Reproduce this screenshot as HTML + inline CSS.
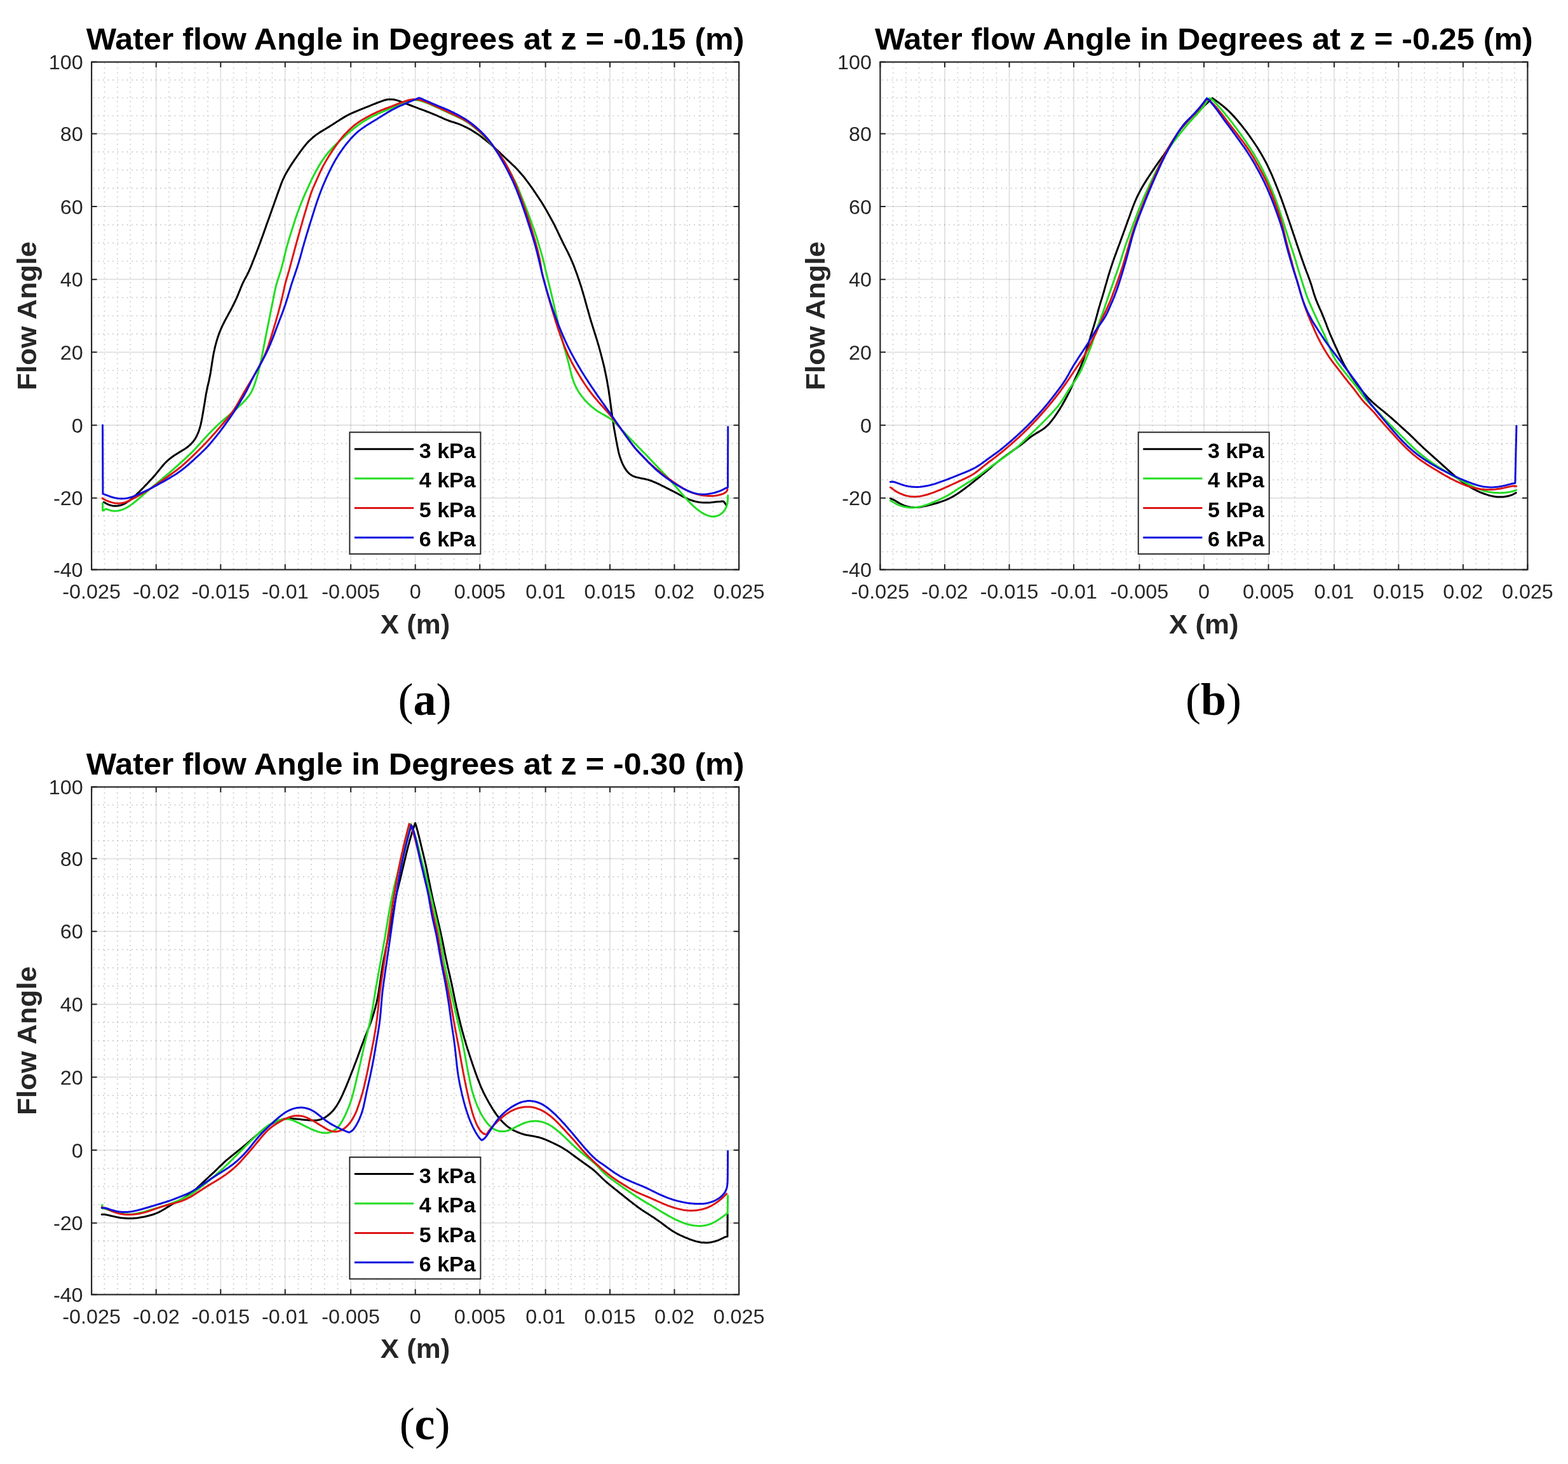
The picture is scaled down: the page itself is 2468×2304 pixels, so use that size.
<!DOCTYPE html>
<html><head><meta charset="utf-8"><style>
html,body{margin:0;padding:0;background:#fff;}
svg{display:block;}
.tk{font-family:'Liberation Sans', Arial, sans-serif;font-size:30.5px;fill:#262626;}
.ti{font-family:'Liberation Sans', Arial, sans-serif;font-size:49px;font-weight:bold;fill:#000;}
.lb{font-family:'Liberation Sans', Arial, sans-serif;font-size:43px;font-weight:bold;fill:#262626;}
.lg{font-family:'Liberation Sans', Arial, sans-serif;font-size:33px;font-weight:bold;fill:#000;}
.cap{font-family:'Liberation Serif', 'Times New Roman', serif;font-size:72px;fill:#000;}
</style></head><body>
<svg xmlns="http://www.w3.org/2000/svg" width="2468" height="2304" viewBox="0 0 2468 2304">
<rect width="2468" height="2304" fill="#fff"/>
<path d="M164.43 97.6V896.5M184.76 97.6V896.5M205.09 97.6V896.5M225.42 97.6V896.5M266.06 97.6V896.5M286.37 97.6V896.5M306.68 97.6V896.5M326.99 97.6V896.5M367.60 97.6V896.5M387.89 97.6V896.5M408.19 97.6V896.5M428.48 97.6V896.5M469.45 97.6V896.5M490.13 97.6V896.5M510.80 97.6V896.5M531.48 97.6V896.5M572.46 97.6V896.5M592.77 97.6V896.5M613.08 97.6V896.5M633.39 97.6V896.5M674.01 97.6V896.5M694.32 97.6V896.5M714.63 97.6V896.5M734.94 97.6V896.5M775.92 97.6V896.5M796.60 97.6V896.5M817.27 97.6V896.5M837.95 97.6V896.5M878.91 97.6V896.5M899.19 97.6V896.5M919.48 97.6V896.5M939.76 97.6V896.5M980.35 97.6V896.5M1000.65 97.6V896.5M1020.94 97.6V896.5M1041.24 97.6V896.5M1081.85 97.6V896.5M1102.16 97.6V896.5M1122.48 97.6V896.5M1142.79 97.6V896.5" stroke="#c6c6c6" stroke-width="1.7" stroke-dasharray="1.7 5.8" stroke-dashoffset="-1.3" fill="none"/>
<path d="M144.1 125.81H1163.1M144.1 154.02H1163.1M144.1 182.24H1163.1M144.1 239.06H1163.1M144.1 267.67H1163.1M144.1 296.29H1163.1M144.1 353.60H1163.1M144.1 382.30H1163.1M144.1 411.00H1163.1M144.1 468.35H1163.1M144.1 497.00H1163.1M144.1 525.65H1163.1M144.1 583.02H1163.1M144.1 611.75H1163.1M144.1 640.48H1163.1M144.1 697.85H1163.1M144.1 726.50H1163.1M144.1 755.15H1163.1M144.1 811.97H1163.1M144.1 840.15H1163.1M144.1 868.33H1163.1" stroke="#c6c6c6" stroke-width="1.7" stroke-dasharray="1.7 5.8" stroke-dashoffset="-3" fill="none"/>
<path d="M245.75 97.6V896.5" stroke="#262626" stroke-opacity="0.15" stroke-width="1.7" fill="none"/>
<path d="M347.30 97.6V896.5" stroke="#262626" stroke-opacity="0.15" stroke-width="1.7" fill="none"/>
<path d="M448.78 97.6V896.5" stroke="#262626" stroke-opacity="0.15" stroke-width="1.7" fill="none"/>
<path d="M552.15 97.6V896.5" stroke="#262626" stroke-opacity="0.15" stroke-width="1.7" fill="none"/>
<path d="M653.70 97.6V896.5" stroke="#262626" stroke-opacity="0.15" stroke-width="1.7" fill="none"/>
<path d="M755.25 97.6V896.5" stroke="#262626" stroke-opacity="0.15" stroke-width="1.7" fill="none"/>
<path d="M858.62 97.6V896.5" stroke="#262626" stroke-opacity="0.15" stroke-width="1.7" fill="none"/>
<path d="M960.05 97.6V896.5" stroke="#262626" stroke-opacity="0.15" stroke-width="1.7" fill="none"/>
<path d="M1061.54 97.6V896.5" stroke="#262626" stroke-opacity="0.15" stroke-width="1.7" fill="none"/>
<path d="M144.1 210.45H1163.1" stroke="#262626" stroke-opacity="0.15" stroke-width="1.7" fill="none"/>
<path d="M144.1 324.90H1163.1" stroke="#262626" stroke-opacity="0.15" stroke-width="1.7" fill="none"/>
<path d="M144.1 439.70H1163.1" stroke="#262626" stroke-opacity="0.15" stroke-width="1.7" fill="none"/>
<path d="M144.1 554.30H1163.1" stroke="#262626" stroke-opacity="0.15" stroke-width="1.7" fill="none"/>
<path d="M144.1 669.20H1163.1" stroke="#262626" stroke-opacity="0.15" stroke-width="1.7" fill="none"/>
<path d="M144.1 783.80H1163.1" stroke="#262626" stroke-opacity="0.15" stroke-width="1.7" fill="none"/>
<path d="M163.3 790.3 L166.0 791.8 L168.6 793.2 L171.3 794.4 L174.1 795.3 L177.0 795.9 L179.8 796.3 L182.7 796.3 L185.5 796.1 L188.3 795.6 L191.0 794.9 L193.6 793.8 L196.2 792.6 L198.8 791.1 L201.2 789.5 L203.6 787.7 L205.9 785.9 L208.2 784.0 L210.5 782.0 L212.7 780.0 L214.9 778.0 L217.1 775.9 L219.3 773.8 L221.4 771.7 L223.5 769.6 L225.6 767.5 L227.7 765.3 L229.8 763.1 L231.9 761.0 L233.9 758.8 L235.9 756.6 L238.0 754.4 L240.0 752.2 L242.0 749.9 L244.0 747.7 L245.9 745.4 L247.8 743.1 L249.7 740.8 L251.6 738.4 L253.5 736.1 L255.4 733.8 L257.3 731.5 L259.3 729.3 L261.4 727.2 L263.6 725.2 L265.8 723.2 L268.1 721.3 L270.5 719.5 L272.9 717.7 L275.4 716.1 L277.9 714.5 L280.4 712.9 L283.0 711.4 L285.6 709.8 L288.1 708.3 L290.6 706.7 L293.1 705.1 L295.5 703.3 L297.7 701.4 L299.9 699.5 L302.0 697.3 L303.9 695.1 L305.6 692.8 L307.3 690.3 L308.8 687.8 L310.1 685.1 L311.3 682.4 L312.4 679.7 L313.4 676.9 L314.3 674.0 L315.1 671.2 L315.9 668.3 L316.5 665.4 L317.2 662.4 L317.7 659.5 L318.3 656.5 L318.8 653.6 L319.3 650.6 L319.8 647.7 L320.3 644.7 L320.8 641.8 L321.3 638.8 L321.8 635.8 L322.3 632.9 L322.7 629.9 L323.2 627.0 L323.7 624.0 L324.2 621.0 L324.7 618.1 L325.3 615.2 L325.9 612.2 L326.5 609.3 L327.2 606.4 L327.9 603.5 L328.6 600.6 L329.2 597.7 L329.8 594.8 L330.4 591.8 L331.0 588.9 L331.5 585.9 L331.9 583.0 L332.4 580.0 L332.9 577.1 L333.3 574.1 L333.8 571.1 L334.2 568.2 L334.7 565.2 L335.2 562.2 L335.7 559.3 L336.2 556.3 L336.8 553.4 L337.5 550.5 L338.1 547.6 L338.8 544.7 L339.6 541.8 L340.4 538.9 L341.2 536.0 L342.1 533.1 L343.0 530.3 L344.0 527.4 L345.0 524.6 L346.1 521.8 L347.2 519.1 L348.4 516.3 L349.6 513.6 L350.9 510.9 L352.3 508.2 L353.6 505.5 L355.0 502.9 L356.4 500.2 L357.9 497.6 L359.3 495.0 L360.7 492.3 L362.2 489.7 L363.6 487.0 L365.0 484.4 L366.3 481.7 L367.7 479.0 L369.0 476.4 L370.3 473.6 L371.6 470.9 L372.8 468.2 L374.0 465.4 L375.1 462.7 L376.2 459.9 L377.4 457.1 L378.5 454.3 L379.6 451.6 L380.7 448.8 L381.9 446.1 L383.2 443.5 L384.5 440.9 L385.9 438.3 L387.3 435.7 L388.7 433.1 L390.0 430.5 L391.3 427.8 L392.5 425.1 L393.7 422.4 L394.9 419.7 L396.0 416.9 L397.1 414.1 L398.2 411.3 L399.3 408.5 L400.4 405.7 L401.5 402.9 L402.6 400.1 L403.7 397.3 L404.7 394.5 L405.8 391.7 L406.9 388.9 L407.9 386.1 L409.0 383.3 L410.0 380.5 L411.0 377.7 L412.0 374.8 L413.1 372.0 L414.1 369.2 L415.1 366.4 L416.1 363.5 L417.1 360.7 L418.1 357.9 L419.1 355.1 L420.1 352.2 L421.1 349.4 L422.1 346.6 L423.2 343.8 L424.2 340.9 L425.2 338.1 L426.2 335.3 L427.2 332.5 L428.2 329.6 L429.2 326.8 L430.2 324.0 L431.2 321.2 L432.2 318.3 L433.2 315.5 L434.2 312.7 L435.2 309.9 L436.2 307.0 L437.2 304.2 L438.2 301.4 L439.3 298.6 L440.3 295.7 L441.3 292.9 L442.3 290.1 L443.4 287.3 L444.5 284.5 L445.7 281.8 L447.0 279.1 L448.3 276.4 L449.7 273.8 L451.2 271.2 L452.7 268.6 L454.2 266.0 L455.8 263.5 L457.4 260.9 L459.0 258.4 L460.7 255.9 L462.4 253.4 L464.0 250.9 L465.8 248.5 L467.5 246.0 L469.2 243.6 L471.0 241.1 L472.7 238.7 L474.5 236.3 L476.3 233.9 L478.1 231.5 L480.0 229.2 L481.9 226.9 L483.8 224.6 L485.9 222.4 L488.0 220.3 L490.2 218.3 L492.4 216.3 L494.7 214.5 L497.1 212.6 L499.5 210.9 L502.0 209.3 L504.5 207.6 L507.0 206.1 L509.6 204.5 L512.2 203.0 L514.7 201.4 L517.3 199.9 L519.8 198.3 L522.4 196.7 L524.9 195.1 L527.4 193.4 L529.9 191.8 L532.5 190.2 L535.0 188.6 L537.5 187.0 L540.1 185.4 L542.6 183.9 L545.2 182.4 L547.9 181.0 L550.5 179.6 L553.2 178.4 L556.0 177.1 L558.7 176.0 L561.5 174.8 L564.3 173.7 L567.0 172.6 L569.8 171.4 L572.6 170.3 L575.4 169.2 L578.2 168.1 L581.0 167.0 L583.7 165.8 L586.5 164.7 L589.3 163.6 L592.1 162.5 L594.9 161.4 L597.7 160.3 L600.5 159.3 L603.3 158.3 L606.1 157.5 L608.9 156.8 L611.7 156.4 L614.5 156.2 L617.3 156.4 L620.1 156.7 L622.9 157.4 L625.7 158.1 L628.5 159.1 L631.3 160.1 L634.1 161.1 L636.9 162.2 L639.7 163.3 L642.5 164.4 L645.3 165.5 L648.1 166.5 L650.9 167.6 L653.7 168.7 L656.5 169.7 L659.3 170.8 L662.2 171.8 L665.0 172.9 L667.8 173.9 L670.6 175.0 L673.4 176.1 L676.2 177.2 L679.0 178.3 L681.7 179.4 L684.5 180.6 L687.3 181.7 L690.0 183.0 L692.7 184.2 L695.5 185.4 L698.2 186.6 L701.0 187.8 L703.7 188.9 L706.5 190.0 L709.3 191.0 L712.1 191.9 L715.0 192.8 L717.8 193.7 L720.6 194.7 L723.4 195.7 L726.2 196.8 L728.9 198.0 L731.6 199.3 L734.3 200.6 L736.9 202.0 L739.6 203.4 L742.2 204.9 L744.7 206.5 L747.3 208.1 L749.8 209.7 L752.2 211.4 L754.7 213.1 L757.1 214.9 L759.4 216.7 L761.8 218.6 L764.1 220.4 L766.5 222.3 L768.8 224.2 L771.1 226.2 L773.4 228.1 L775.6 230.1 L777.9 232.1 L780.1 234.1 L782.3 236.1 L784.5 238.2 L786.7 240.2 L788.8 242.3 L791.0 244.4 L793.2 246.5 L795.3 248.5 L797.5 250.6 L799.7 252.6 L801.9 254.7 L804.1 256.7 L806.3 258.8 L808.5 260.8 L810.6 262.9 L812.7 265.0 L814.8 267.2 L816.8 269.4 L818.8 271.7 L820.7 273.9 L822.7 276.2 L824.6 278.5 L826.4 280.9 L828.2 283.3 L830.0 285.7 L831.8 288.1 L833.6 290.5 L835.3 293.0 L837.1 295.4 L838.8 297.9 L840.5 300.3 L842.2 302.8 L843.8 305.3 L845.5 307.8 L847.2 310.3 L848.8 312.8 L850.5 315.3 L852.1 317.8 L853.7 320.4 L855.3 322.9 L856.8 325.5 L858.3 328.1 L859.8 330.6 L861.3 333.3 L862.8 335.9 L864.2 338.5 L865.7 341.1 L867.1 343.7 L868.6 346.4 L870.0 349.0 L871.4 351.7 L872.8 354.3 L874.1 357.0 L875.4 359.7 L876.7 362.4 L878.0 365.1 L879.3 367.8 L880.6 370.5 L881.9 373.3 L883.2 376.0 L884.5 378.7 L885.8 381.3 L887.1 384.0 L888.5 386.7 L889.8 389.4 L891.2 392.1 L892.5 394.7 L893.9 397.4 L895.2 400.1 L896.5 402.8 L897.8 405.5 L899.0 408.3 L900.2 411.0 L901.4 413.8 L902.5 416.6 L903.6 419.4 L904.6 422.1 L905.7 425.0 L906.7 427.8 L907.8 430.6 L908.8 433.4 L909.7 436.3 L910.7 439.1 L911.7 441.9 L912.6 444.8 L913.5 447.6 L914.5 450.5 L915.4 453.4 L916.2 456.2 L917.1 459.1 L917.9 462.0 L918.8 464.9 L919.6 467.7 L920.4 470.6 L921.2 473.5 L922.0 476.4 L922.8 479.3 L923.6 482.2 L924.4 485.1 L925.3 488.0 L926.1 490.8 L926.9 493.7 L927.7 496.6 L928.5 499.5 L929.4 502.4 L930.2 505.3 L931.1 508.1 L932.0 511.0 L932.9 513.9 L933.8 516.7 L934.7 519.6 L935.6 522.4 L936.5 525.3 L937.4 528.1 L938.3 531.0 L939.2 533.9 L940.1 536.7 L940.9 539.6 L941.8 542.5 L942.6 545.4 L943.4 548.3 L944.2 551.2 L945.0 554.1 L945.8 557.0 L946.5 559.9 L947.3 562.8 L948.0 565.7 L948.8 568.6 L949.5 571.5 L950.2 574.4 L950.9 577.3 L951.6 580.2 L952.2 583.2 L952.8 586.1 L953.4 589.0 L954.0 592.0 L954.6 594.9 L955.2 597.9 L955.7 600.8 L956.2 603.8 L956.7 606.7 L957.2 609.7 L957.7 612.6 L958.2 615.6 L958.6 618.6 L959.0 621.5 L959.5 624.5 L959.9 627.5 L960.3 630.5 L960.7 633.4 L961.1 636.4 L961.5 639.4 L961.9 642.3 L962.3 645.3 L962.7 648.3 L963.2 651.3 L963.6 654.2 L964.0 657.2 L964.4 660.2 L964.9 663.1 L965.3 666.1 L965.8 669.1 L966.2 672.0 L966.7 675.0 L967.2 677.9 L967.8 680.9 L968.3 683.9 L968.8 686.8 L969.4 689.8 L969.9 692.7 L970.5 695.7 L971.0 698.6 L971.6 701.5 L972.2 704.5 L972.8 707.4 L973.4 710.3 L974.1 713.3 L974.9 716.1 L975.7 719.0 L976.7 721.8 L977.7 724.6 L978.8 727.4 L980.0 730.1 L981.3 732.8 L982.7 735.4 L984.3 737.9 L985.9 740.3 L987.7 742.5 L989.7 744.6 L991.9 746.4 L994.2 748.0 L996.7 749.3 L999.3 750.3 L1002.1 751.1 L1004.9 751.8 L1007.8 752.4 L1010.7 752.9 L1013.6 753.5 L1016.5 754.2 L1019.4 754.9 L1022.2 755.8 L1025.0 756.7 L1027.8 757.8 L1030.6 759.0 L1033.3 760.2 L1036.0 761.4 L1038.7 762.7 L1041.4 764.1 L1044.1 765.4 L1046.8 766.7 L1049.4 768.1 L1052.1 769.4 L1054.8 770.8 L1057.5 772.1 L1060.1 773.5 L1062.8 774.9 L1065.4 776.3 L1068.1 777.7 L1070.7 779.2 L1073.3 780.6 L1076.0 782.0 L1078.7 783.3 L1081.4 784.6 L1084.1 785.8 L1086.9 786.9 L1089.7 787.8 L1092.5 788.7 L1095.4 789.4 L1098.3 790.0 L1101.2 790.5 L1104.2 790.8 L1107.1 791.0 L1110.1 791.1 L1113.1 791.0 L1116.0 790.9 L1119.0 790.7 L1122.0 790.4 L1125.0 790.1 L1127.9 789.8 L1130.9 789.5 L1133.9 789.3 L1136.9 789.0 L1138.8 789.1 L1139.4 789.8 L1141.3 792.2 L1142.9 794.6 L1143.5 796.5" stroke="#000000" stroke-width="3" fill="none" stroke-linejoin="round" stroke-linecap="round"/>
<path d="M161.5 791.7 L161.6 794.7 L161.6 797.7 L161.6 800.7 L161.7 803.7 L163.7 802.8 L166.0 801.3 L166.9 801.0 L168.8 801.6 L171.6 802.6 L174.5 803.4 L177.4 803.9 L180.3 804.2 L183.2 804.1 L186.0 803.7 L188.8 803.2 L191.6 802.4 L194.3 801.4 L197.0 800.2 L199.6 798.8 L202.1 797.3 L204.6 795.7 L207.0 793.9 L209.4 792.2 L211.8 790.3 L214.1 788.5 L216.4 786.5 L218.7 784.6 L221.0 782.6 L223.3 780.7 L225.5 778.7 L227.8 776.7 L230.0 774.8 L232.3 772.8 L234.6 770.8 L236.9 768.9 L239.2 767.0 L241.5 765.0 L243.8 763.1 L246.1 761.2 L248.4 759.2 L250.7 757.3 L253.0 755.4 L255.3 753.5 L257.6 751.5 L259.9 749.6 L262.2 747.7 L264.5 745.8 L266.8 743.8 L269.0 741.9 L271.3 739.9 L273.6 737.9 L275.8 735.9 L278.1 733.9 L280.3 731.9 L282.6 729.9 L284.8 727.9 L287.0 725.9 L289.2 723.9 L291.4 721.8 L293.6 719.8 L295.8 717.7 L298.0 715.7 L300.1 713.6 L302.3 711.5 L304.4 709.4 L306.5 707.2 L308.5 705.0 L310.5 702.8 L312.6 700.6 L314.6 698.4 L316.6 696.1 L318.6 693.9 L320.6 691.6 L322.6 689.4 L324.6 687.2 L326.7 685.0 L328.7 682.8 L330.8 680.7 L332.9 678.5 L335.0 676.4 L337.1 674.3 L339.3 672.2 L341.4 670.1 L343.6 668.0 L345.8 666.0 L348.0 664.0 L350.3 662.0 L352.6 660.1 L354.9 658.1 L357.2 656.2 L359.5 654.3 L361.8 652.4 L364.1 650.5 L366.4 648.5 L368.7 646.6 L370.9 644.6 L373.1 642.5 L375.3 640.5 L377.5 638.4 L379.6 636.4 L381.8 634.3 L383.9 632.1 L385.9 630.0 L387.9 627.7 L389.8 625.5 L391.6 623.1 L393.3 620.7 L394.9 618.2 L396.3 615.6 L397.6 612.9 L398.7 610.2 L399.8 607.4 L400.8 604.6 L401.8 601.8 L402.7 598.9 L403.5 596.0 L404.4 593.2 L405.2 590.3 L406.0 587.4 L406.8 584.5 L407.5 581.6 L408.3 578.7 L409.0 575.7 L409.7 572.8 L410.3 569.9 L411.0 567.0 L411.6 564.0 L412.2 561.1 L412.8 558.2 L413.3 555.2 L413.9 552.3 L414.5 549.3 L415.0 546.4 L415.6 543.4 L416.2 540.5 L416.7 537.5 L417.3 534.6 L417.9 531.6 L418.5 528.7 L419.1 525.7 L419.6 522.8 L420.2 519.9 L420.8 516.9 L421.4 514.0 L422.0 511.0 L422.6 508.1 L423.2 505.1 L423.8 502.2 L424.4 499.3 L424.9 496.3 L425.5 493.4 L426.1 490.4 L426.7 487.5 L427.3 484.5 L427.9 481.6 L428.5 478.6 L429.1 475.7 L429.7 472.8 L430.2 469.8 L430.8 466.9 L431.4 463.9 L432.0 461.0 L432.6 458.1 L433.2 455.1 L433.9 452.2 L434.6 449.4 L435.4 446.5 L436.2 443.7 L437.0 440.9 L438.0 438.1 L438.9 435.4 L439.8 432.6 L440.7 429.8 L441.6 426.9 L442.4 424.1 L443.2 421.2 L444.0 418.3 L444.7 415.4 L445.5 412.5 L446.2 409.6 L446.9 406.7 L447.6 403.7 L448.3 400.8 L449.0 397.9 L449.7 395.0 L450.5 392.1 L451.2 389.2 L452.0 386.3 L452.8 383.4 L453.7 380.5 L454.5 377.6 L455.4 374.8 L456.3 371.9 L457.2 369.0 L458.1 366.2 L459.0 363.3 L459.9 360.4 L460.8 357.6 L461.7 354.7 L462.6 351.9 L463.5 349.0 L464.4 346.1 L465.4 343.3 L466.3 340.5 L467.3 337.6 L468.3 334.8 L469.4 332.0 L470.4 329.2 L471.5 326.4 L472.5 323.6 L473.6 320.8 L474.7 318.0 L475.9 315.2 L477.0 312.4 L478.2 309.7 L479.4 306.9 L480.6 304.2 L481.9 301.5 L483.1 298.7 L484.3 296.0 L485.6 293.3 L486.8 290.5 L488.1 287.8 L489.3 285.1 L490.6 282.4 L492.0 279.7 L493.3 277.0 L494.7 274.3 L496.1 271.7 L497.5 269.0 L498.9 266.4 L500.4 263.8 L501.9 261.2 L503.5 258.6 L505.0 256.1 L506.7 253.6 L508.4 251.1 L510.1 248.7 L511.8 246.2 L513.7 243.8 L515.5 241.5 L517.4 239.2 L519.4 236.9 L521.4 234.7 L523.4 232.5 L525.5 230.3 L527.6 228.2 L529.8 226.2 L532.0 224.1 L534.2 222.1 L536.4 220.1 L538.7 218.1 L540.9 216.1 L543.1 214.1 L545.4 212.1 L547.6 210.1 L549.9 208.2 L552.1 206.2 L554.4 204.3 L556.8 202.4 L559.1 200.5 L561.5 198.7 L563.9 196.9 L566.3 195.2 L568.8 193.4 L571.3 191.8 L573.8 190.2 L576.4 188.6 L578.9 187.1 L581.6 185.7 L584.2 184.3 L586.9 182.9 L589.6 181.6 L592.3 180.3 L595.0 179.0 L597.7 177.8 L600.5 176.6 L603.3 175.4 L606.0 174.3 L608.8 173.1 L611.6 171.9 L614.3 170.8 L617.1 169.6 L619.8 168.4 L622.6 167.2 L625.3 166.0 L628.1 164.8 L630.8 163.6 L633.6 162.4 L636.3 161.3 L639.0 160.3 L641.7 159.4 L644.4 158.6 L647.0 158.0 L649.7 157.6 L652.3 157.5 L654.9 157.5 L657.6 157.8 L660.3 158.3 L663.1 159.0 L665.8 159.8 L668.6 160.8 L671.4 161.8 L674.1 163.0 L676.9 164.1 L679.6 165.3 L682.4 166.5 L685.1 167.8 L687.9 169.0 L690.6 170.2 L693.3 171.5 L696.0 172.8 L698.8 174.0 L701.5 175.3 L704.2 176.6 L706.9 177.8 L709.6 179.1 L712.4 180.4 L715.1 181.6 L717.8 182.9 L720.5 184.2 L723.2 185.5 L725.9 186.8 L728.5 188.2 L731.1 189.7 L733.7 191.2 L736.2 192.8 L738.7 194.4 L741.1 196.2 L743.5 198.0 L745.8 199.9 L748.1 201.8 L750.4 203.7 L752.7 205.7 L754.9 207.7 L757.0 209.8 L759.2 211.9 L761.3 214.0 L763.4 216.1 L765.5 218.3 L767.5 220.5 L769.5 222.7 L771.5 225.0 L773.4 227.3 L775.3 229.6 L777.2 231.9 L779.1 234.3 L780.9 236.7 L782.7 239.0 L784.5 241.5 L786.3 243.9 L788.0 246.3 L789.7 248.8 L791.4 251.3 L793.0 253.8 L794.6 256.3 L796.2 258.9 L797.7 261.5 L799.2 264.1 L800.7 266.7 L802.1 269.3 L803.6 271.9 L805.0 274.6 L806.4 277.2 L807.8 279.9 L809.2 282.6 L810.5 285.2 L811.8 287.9 L813.1 290.7 L814.3 293.4 L815.5 296.2 L816.6 298.9 L817.8 301.7 L818.9 304.5 L820.0 307.3 L821.1 310.0 L822.2 312.8 L823.3 315.6 L824.5 318.4 L825.6 321.2 L826.7 324.0 L827.8 326.8 L828.8 329.6 L829.9 332.4 L831.0 335.2 L832.0 338.0 L833.1 340.8 L834.1 343.6 L835.1 346.5 L836.2 349.3 L837.2 352.1 L838.2 354.9 L839.2 357.7 L840.2 360.6 L841.2 363.4 L842.2 366.2 L843.1 369.1 L844.1 371.9 L845.0 374.8 L845.9 377.7 L846.8 380.5 L847.6 383.4 L848.5 386.3 L849.3 389.2 L850.2 392.0 L851.0 394.9 L851.9 397.8 L852.7 400.7 L853.5 403.6 L854.3 406.5 L855.1 409.4 L855.8 412.3 L856.5 415.2 L857.2 418.1 L857.9 421.0 L858.5 424.0 L859.2 426.9 L859.9 429.8 L860.6 432.7 L861.3 435.6 L862.0 438.6 L862.7 441.5 L863.4 444.4 L864.2 447.3 L864.9 450.2 L865.6 453.1 L866.3 456.0 L867.0 459.0 L867.7 461.9 L868.4 464.8 L869.1 467.7 L869.8 470.6 L870.5 473.6 L871.1 476.5 L871.8 479.4 L872.5 482.3 L873.1 485.3 L873.8 488.2 L874.5 491.1 L875.1 494.1 L875.8 497.0 L876.5 499.9 L877.2 502.8 L877.9 505.7 L878.5 508.7 L879.2 511.6 L879.9 514.5 L880.6 517.4 L881.3 520.3 L882.0 523.3 L882.7 526.2 L883.4 529.1 L884.2 532.0 L884.9 534.9 L885.7 537.8 L886.4 540.7 L887.2 543.6 L888.0 546.5 L888.8 549.4 L889.7 552.3 L890.5 555.2 L891.3 558.1 L892.1 561.0 L892.9 563.8 L893.7 566.7 L894.5 569.6 L895.2 572.5 L896.0 575.5 L896.7 578.4 L897.4 581.3 L898.1 584.2 L898.8 587.1 L899.5 590.0 L900.3 592.9 L901.2 595.7 L902.1 598.6 L903.1 601.4 L904.3 604.1 L905.5 606.8 L906.8 609.5 L908.2 612.2 L909.6 614.8 L911.2 617.3 L912.9 619.8 L914.6 622.2 L916.4 624.6 L918.3 626.9 L920.2 629.2 L922.2 631.4 L924.3 633.5 L926.4 635.6 L928.6 637.7 L930.8 639.6 L933.1 641.6 L935.5 643.4 L937.8 645.2 L940.3 646.9 L942.8 648.5 L945.4 650.0 L948.0 651.5 L950.6 652.9 L953.2 654.4 L955.8 655.9 L958.3 657.4 L960.7 659.1 L963.1 660.9 L965.3 662.8 L967.5 664.8 L969.7 666.8 L971.7 669.0 L973.8 671.1 L975.8 673.3 L977.9 675.5 L979.9 677.7 L982.0 679.9 L984.1 682.1 L986.1 684.2 L988.2 686.4 L990.3 688.6 L992.4 690.7 L994.5 692.9 L996.6 695.0 L998.6 697.2 L1000.7 699.4 L1002.8 701.5 L1004.9 703.7 L1007.0 705.8 L1009.1 707.9 L1011.2 710.1 L1013.4 712.2 L1015.5 714.3 L1017.6 716.5 L1019.6 718.6 L1021.7 720.8 L1023.8 723.0 L1025.8 725.2 L1027.9 727.4 L1029.9 729.6 L1032.0 731.7 L1034.1 733.9 L1036.1 736.1 L1038.2 738.2 L1040.3 740.4 L1042.4 742.5 L1044.5 744.7 L1046.6 746.9 L1048.6 749.0 L1050.7 751.2 L1052.7 753.4 L1054.7 755.7 L1056.7 757.9 L1058.7 760.2 L1060.7 762.4 L1062.6 764.7 L1064.6 767.0 L1066.5 769.2 L1068.5 771.5 L1070.4 773.8 L1072.4 776.1 L1074.4 778.4 L1076.3 780.6 L1078.3 782.9 L1080.3 785.1 L1082.4 787.3 L1084.4 789.5 L1086.5 791.6 L1088.6 793.7 L1090.8 795.8 L1093.0 797.8 L1095.2 799.8 L1097.5 801.7 L1099.9 803.5 L1102.3 805.3 L1104.8 806.9 L1107.3 808.4 L1110.0 809.7 L1112.6 810.8 L1115.3 811.8 L1118.1 812.5 L1120.9 812.9 L1123.6 812.9 L1126.3 812.6 L1129.0 811.9 L1131.5 810.9 L1133.9 809.5 L1136.1 807.9 L1138.1 805.9 L1139.9 803.8 L1141.4 801.4 L1142.7 799.0 L1143.7 796.3 L1144.6 793.6 L1145.1 790.7 L1145.4 787.7 L1145.6 784.7 L1145.7 781.7 L1145.7 779.7" stroke="#22dd22" stroke-width="3" fill="none" stroke-linejoin="round" stroke-linecap="round"/>
<path d="M161.1 784.0 L163.6 785.7 L166.2 787.1 L169.0 788.3 L171.7 789.4 L174.6 790.3 L177.4 791.1 L180.3 791.7 L183.2 792.0 L186.0 792.2 L188.9 792.1 L191.8 791.8 L194.6 791.2 L197.4 790.4 L200.1 789.4 L202.8 788.2 L205.5 786.9 L208.1 785.5 L210.8 784.1 L213.4 782.7 L216.0 781.2 L218.7 779.8 L221.3 778.3 L223.9 776.8 L226.5 775.3 L229.1 773.8 L231.6 772.3 L234.2 770.7 L236.7 769.1 L239.2 767.4 L241.6 765.7 L244.1 764.0 L246.6 762.3 L249.0 760.5 L251.5 758.8 L253.9 757.1 L256.4 755.4 L258.8 753.7 L261.3 751.9 L263.8 750.2 L266.2 748.5 L268.7 746.8 L271.1 745.0 L273.5 743.3 L275.9 741.5 L278.3 739.7 L280.7 737.8 L283.0 736.0 L285.4 734.1 L287.6 732.1 L289.9 730.1 L292.1 728.1 L294.3 726.1 L296.5 724.1 L298.7 722.0 L300.9 720.0 L303.1 717.9 L305.2 715.8 L307.4 713.7 L309.5 711.6 L311.7 709.5 L313.8 707.4 L315.9 705.3 L318.0 703.2 L320.1 701.0 L322.2 698.9 L324.3 696.7 L326.3 694.5 L328.4 692.3 L330.4 690.1 L332.4 687.9 L334.4 685.6 L336.4 683.4 L338.4 681.2 L340.4 678.9 L342.4 676.6 L344.3 674.4 L346.3 672.1 L348.2 669.8 L350.2 667.5 L352.1 665.3 L354.0 663.0 L356.0 660.7 L357.9 658.3 L359.8 656.0 L361.6 653.7 L363.5 651.3 L365.3 648.9 L367.0 646.5 L368.7 644.0 L370.3 641.5 L371.9 639.0 L373.4 636.4 L374.9 633.8 L376.4 631.2 L377.9 628.6 L379.3 626.0 L380.8 623.4 L382.3 620.7 L383.7 618.1 L385.2 615.5 L386.7 612.9 L388.2 610.3 L389.8 607.8 L391.3 605.2 L392.9 602.7 L394.5 600.1 L396.0 597.5 L397.6 595.0 L399.1 592.4 L400.6 589.8 L402.1 587.2 L403.5 584.6 L405.0 581.9 L406.5 579.3 L407.9 576.7 L409.3 574.0 L410.7 571.4 L412.1 568.7 L413.4 566.0 L414.7 563.3 L416.0 560.6 L417.2 557.9 L418.3 555.1 L419.4 552.3 L420.5 549.5 L421.5 546.7 L422.5 543.9 L423.4 541.0 L424.3 538.2 L425.2 535.3 L426.1 532.4 L427.0 529.6 L427.9 526.7 L428.7 523.8 L429.6 521.0 L430.4 518.1 L431.3 515.2 L432.2 512.3 L433.0 509.5 L433.9 506.6 L434.7 503.7 L435.5 500.8 L436.3 497.9 L437.2 495.0 L438.0 492.1 L438.7 489.3 L439.5 486.4 L440.3 483.5 L441.0 480.6 L441.8 477.6 L442.5 474.7 L443.2 471.8 L443.9 468.9 L444.6 466.0 L445.2 463.0 L445.9 460.1 L446.5 457.2 L447.2 454.3 L447.8 451.4 L448.5 448.5 L449.2 445.6 L450.0 442.7 L450.8 439.8 L451.6 437.0 L452.5 434.2 L453.3 431.3 L454.1 428.4 L455.0 425.6 L455.8 422.7 L456.5 419.8 L457.3 416.9 L458.1 414.0 L458.9 411.1 L459.7 408.2 L460.4 405.3 L461.2 402.4 L462.0 399.5 L462.8 396.6 L463.5 393.7 L464.3 390.8 L465.1 387.9 L465.9 385.0 L466.7 382.1 L467.5 379.2 L468.3 376.3 L469.1 373.5 L469.9 370.6 L470.7 367.7 L471.5 364.8 L472.3 361.9 L473.1 359.0 L473.9 356.1 L474.8 353.2 L475.6 350.3 L476.4 347.5 L477.2 344.6 L478.1 341.7 L478.9 338.8 L479.8 335.9 L480.6 333.1 L481.5 330.2 L482.3 327.3 L483.2 324.4 L484.1 321.6 L484.9 318.7 L485.8 315.8 L486.7 313.0 L487.6 310.1 L488.5 307.3 L489.5 304.4 L490.5 301.6 L491.6 298.8 L492.7 296.0 L493.9 293.3 L495.1 290.5 L496.3 287.8 L497.5 285.1 L498.7 282.3 L500.0 279.6 L501.2 276.9 L502.4 274.1 L503.7 271.4 L505.0 268.7 L506.3 266.0 L507.7 263.3 L509.0 260.7 L510.5 258.0 L511.9 255.4 L513.4 252.8 L514.9 250.2 L516.5 247.6 L518.0 245.1 L519.6 242.6 L521.3 240.1 L522.9 237.6 L524.6 235.1 L526.3 232.6 L528.1 230.2 L529.8 227.7 L531.6 225.3 L533.3 222.9 L535.1 220.5 L537.0 218.1 L538.9 215.8 L540.8 213.6 L542.8 211.3 L544.9 209.2 L547.0 207.0 L549.1 204.9 L551.3 202.8 L553.5 200.8 L555.7 198.9 L558.0 197.0 L560.4 195.1 L562.8 193.4 L565.3 191.7 L567.8 190.1 L570.3 188.5 L572.9 187.0 L575.5 185.5 L578.1 184.0 L580.8 182.6 L583.4 181.2 L586.1 179.9 L588.8 178.6 L591.5 177.3 L594.2 176.1 L597.0 174.9 L599.8 173.7 L602.5 172.6 L605.3 171.5 L608.1 170.5 L610.9 169.4 L613.7 168.3 L616.5 167.3 L619.3 166.2 L622.1 165.1 L624.9 164.0 L627.7 162.9 L630.5 161.9 L633.3 160.8 L636.1 159.8 L638.9 158.9 L641.8 158.0 L644.6 157.3 L647.5 156.8 L650.3 156.4 L653.2 156.3 L656.1 156.5 L658.9 156.9 L661.8 157.6 L664.6 158.4 L667.4 159.4 L670.2 160.4 L672.9 161.6 L675.7 162.7 L678.4 163.9 L681.2 165.1 L683.9 166.4 L686.7 167.6 L689.4 168.8 L692.1 170.1 L694.8 171.3 L697.6 172.6 L700.3 173.9 L703.0 175.1 L705.7 176.4 L708.4 177.7 L711.2 178.9 L713.9 180.2 L716.6 181.5 L719.3 182.8 L722.0 184.1 L724.7 185.4 L727.4 186.7 L730.0 188.1 L732.6 189.6 L735.1 191.2 L737.6 192.8 L740.0 194.5 L742.4 196.3 L744.8 198.2 L747.1 200.0 L749.4 202.0 L751.7 204.0 L753.9 206.0 L756.1 208.0 L758.2 210.1 L760.4 212.2 L762.5 214.3 L764.6 216.5 L766.6 218.7 L768.6 220.9 L770.6 223.1 L772.6 225.4 L774.5 227.7 L776.4 230.0 L778.2 232.3 L780.1 234.7 L781.9 237.1 L783.7 239.5 L785.5 241.9 L787.2 244.3 L788.9 246.8 L790.6 249.3 L792.3 251.8 L793.8 254.3 L795.4 256.9 L796.9 259.5 L798.3 262.1 L799.7 264.8 L801.1 267.4 L802.4 270.1 L803.8 272.8 L805.1 275.5 L806.4 278.2 L807.6 280.9 L808.9 283.7 L810.0 286.4 L811.2 289.2 L812.3 291.9 L813.5 294.7 L814.6 297.5 L815.6 300.3 L816.7 303.1 L817.8 305.9 L818.9 308.7 L819.9 311.5 L821.0 314.3 L822.0 317.1 L823.0 320.0 L824.0 322.8 L825.0 325.6 L826.0 328.5 L827.0 331.3 L828.0 334.1 L829.0 336.9 L830.0 339.8 L830.9 342.6 L831.9 345.5 L832.8 348.3 L833.8 351.2 L834.7 354.0 L835.5 356.9 L836.4 359.8 L837.3 362.6 L838.2 365.5 L839.0 368.4 L839.9 371.3 L840.7 374.1 L841.6 377.0 L842.4 379.9 L843.2 382.8 L844.0 385.7 L844.8 388.6 L845.6 391.5 L846.3 394.4 L847.0 397.3 L847.7 400.2 L848.4 403.1 L849.1 406.0 L849.7 409.0 L850.2 411.9 L850.7 414.9 L851.2 417.8 L851.7 420.8 L852.2 423.7 L852.7 426.7 L853.3 429.6 L853.9 432.5 L854.6 435.5 L855.3 438.4 L856.1 441.3 L856.9 444.2 L857.6 447.1 L858.4 449.9 L859.2 452.8 L860.0 455.7 L860.8 458.6 L861.6 461.5 L862.4 464.4 L863.2 467.3 L864.1 470.2 L864.9 473.1 L865.7 475.9 L866.6 478.8 L867.4 481.7 L868.3 484.6 L869.1 487.5 L870.0 490.3 L870.8 493.2 L871.7 496.1 L872.6 498.9 L873.4 501.8 L874.3 504.7 L875.2 507.6 L876.1 510.4 L877.0 513.3 L878.0 516.1 L878.9 519.0 L879.9 521.8 L880.9 524.6 L881.8 527.5 L882.9 530.3 L883.9 533.1 L884.9 535.9 L886.0 538.7 L887.1 541.5 L888.2 544.3 L889.3 547.1 L890.4 549.9 L891.6 552.6 L892.8 555.4 L894.0 558.1 L895.3 560.8 L896.6 563.5 L897.9 566.2 L899.2 568.9 L900.6 571.6 L902.1 574.2 L903.5 576.8 L905.0 579.4 L906.5 582.0 L908.0 584.6 L909.6 587.2 L911.1 589.8 L912.7 592.3 L914.2 594.9 L915.8 597.4 L917.5 599.9 L919.1 602.5 L920.7 605.0 L922.4 607.5 L924.1 609.9 L925.8 612.4 L927.6 614.8 L929.4 617.2 L931.2 619.5 L933.1 621.9 L935.0 624.2 L936.9 626.5 L938.8 628.8 L940.8 631.1 L942.7 633.4 L944.7 635.6 L946.7 637.9 L948.7 640.1 L950.7 642.3 L952.7 644.6 L954.7 646.8 L956.7 649.0 L958.7 651.3 L960.6 653.6 L962.6 655.8 L964.5 658.2 L966.3 660.5 L968.2 662.9 L970.0 665.3 L971.8 667.6 L973.6 670.0 L975.4 672.5 L977.2 674.9 L979.0 677.3 L980.7 679.7 L982.5 682.1 L984.2 684.6 L986.0 687.0 L987.7 689.5 L989.5 691.9 L991.2 694.3 L993.0 696.7 L994.8 699.1 L996.6 701.4 L998.4 703.7 L1000.3 706.0 L1002.2 708.1 L1004.1 710.2 L1006.1 712.3 L1008.1 714.4 L1010.2 716.5 L1012.2 718.6 L1014.3 720.8 L1016.4 722.9 L1018.5 725.0 L1020.6 727.1 L1022.8 729.1 L1025.0 731.2 L1027.2 733.2 L1029.5 735.2 L1031.8 737.1 L1034.1 739.1 L1036.4 741.0 L1038.7 742.9 L1041.0 744.7 L1043.4 746.6 L1045.8 748.4 L1048.2 750.2 L1050.6 751.9 L1053.1 753.7 L1055.5 755.4 L1057.9 757.2 L1060.4 758.9 L1062.9 760.6 L1065.3 762.3 L1067.8 763.9 L1070.4 765.6 L1072.9 767.1 L1075.5 768.7 L1078.1 770.1 L1080.7 771.5 L1083.4 772.8 L1086.1 774.0 L1088.9 775.1 L1091.7 776.1 L1094.5 777.0 L1097.4 777.9 L1100.3 778.6 L1103.2 779.2 L1106.2 779.7 L1109.1 780.0 L1112.1 780.3 L1115.1 780.5 L1118.0 780.5 L1121.0 780.4 L1123.9 780.2 L1126.9 779.9 L1129.8 779.4 L1132.6 778.8 L1135.4 778.0 L1138.1 777.1 L1140.6 775.8 L1142.9 774.2 L1144.6 771.8 L1145.0 769.9" stroke="#dd1515" stroke-width="3" fill="none" stroke-linejoin="round" stroke-linecap="round"/>
<path d="M161.5 669.1 L161.5 672.2 L161.5 675.2 L161.6 678.2 L161.6 681.2 L161.6 684.2 L161.6 687.2 L161.6 690.2 L161.6 693.2 L161.6 696.2 L161.6 699.2 L161.6 702.2 L161.7 705.2 L161.7 708.2 L161.7 711.2 L161.7 714.2 L161.7 717.2 L161.7 720.2 L161.7 723.2 L161.7 726.2 L161.8 729.2 L161.8 732.2 L161.8 735.2 L161.8 738.2 L161.8 741.2 L161.8 744.2 L161.8 747.2 L161.8 750.2 L161.8 753.2 L161.9 756.2 L161.9 759.2 L161.9 762.2 L161.9 765.2 L161.9 768.2 L161.9 771.2 L161.9 774.2 L161.9 777.2 L164.4 778.1 L167.2 779.1 L170.0 780.2 L172.8 781.2 L175.6 782.1 L178.5 783.0 L181.3 783.6 L184.2 784.2 L187.1 784.6 L190.1 784.8 L193.0 784.8 L195.9 784.6 L198.8 784.2 L201.7 783.7 L204.6 782.9 L207.4 782.1 L210.2 781.1 L213.0 780.0 L215.7 778.8 L218.5 777.7 L221.2 776.4 L224.0 775.2 L226.7 773.9 L229.4 772.6 L232.1 771.3 L234.7 770.0 L237.4 768.6 L240.1 767.2 L242.7 765.8 L245.4 764.4 L248.0 762.9 L250.6 761.5 L253.3 760.0 L255.9 758.6 L258.5 757.1 L261.1 755.6 L263.7 754.1 L266.3 752.6 L268.9 751.1 L271.4 749.5 L274.0 748.0 L276.5 746.4 L279.1 744.7 L281.5 743.1 L284.0 741.3 L286.4 739.5 L288.7 737.7 L291.0 735.8 L293.3 733.9 L295.6 732.0 L297.9 730.0 L300.1 728.0 L302.4 726.0 L304.6 724.0 L306.8 721.9 L309.0 719.9 L311.2 717.9 L313.4 715.8 L315.6 713.8 L317.7 711.7 L319.9 709.6 L322.1 707.5 L324.2 705.4 L326.2 703.3 L328.3 701.1 L330.3 698.8 L332.2 696.5 L334.1 694.2 L336.0 691.9 L337.9 689.6 L339.8 687.3 L341.7 684.9 L343.5 682.6 L345.4 680.2 L347.2 677.8 L349.0 675.4 L350.8 673.0 L352.6 670.6 L354.3 668.2 L356.1 665.7 L357.8 663.3 L359.6 660.8 L361.3 658.4 L363.0 655.9 L364.7 653.5 L366.4 651.0 L368.1 648.5 L369.7 646.0 L371.3 643.4 L372.9 640.9 L374.4 638.3 L376.0 635.7 L377.6 633.2 L379.1 630.6 L380.6 628.0 L382.2 625.4 L383.7 622.9 L385.2 620.3 L386.6 617.6 L388.1 615.0 L389.4 612.3 L390.7 609.7 L392.0 607.0 L393.3 604.3 L394.6 601.6 L395.9 598.9 L397.3 596.2 L398.7 593.5 L400.1 590.9 L401.5 588.3 L403.0 585.6 L404.4 583.0 L405.9 580.4 L407.3 577.8 L408.8 575.2 L410.2 572.5 L411.7 569.9 L413.1 567.2 L414.5 564.6 L415.9 561.9 L417.3 559.3 L418.6 556.6 L420.0 553.9 L421.2 551.2 L422.5 548.5 L423.7 545.7 L424.9 543.0 L426.1 540.2 L427.2 537.5 L428.3 534.7 L429.4 531.9 L430.5 529.1 L431.6 526.3 L432.6 523.5 L433.7 520.6 L434.7 517.8 L435.8 515.0 L436.8 512.2 L437.9 509.4 L439.0 506.6 L440.0 503.8 L441.1 501.0 L442.2 498.2 L443.3 495.4 L444.4 492.6 L445.4 489.8 L446.4 487.0 L447.4 484.1 L448.4 481.3 L449.4 478.5 L450.3 475.6 L451.2 472.7 L452.1 469.9 L453.0 467.0 L453.8 464.1 L454.7 461.3 L455.5 458.4 L456.4 455.5 L457.2 452.6 L458.1 449.8 L459.0 446.9 L459.9 444.0 L460.9 441.2 L461.8 438.4 L462.8 435.5 L463.8 432.7 L464.7 429.8 L465.7 427.0 L466.6 424.2 L467.6 421.3 L468.5 418.4 L469.4 415.6 L470.3 412.7 L471.1 409.8 L472.0 407.0 L472.8 404.1 L473.6 401.2 L474.4 398.3 L475.2 395.4 L475.9 392.5 L476.7 389.6 L477.6 386.7 L478.4 383.8 L479.2 380.9 L480.1 378.1 L480.9 375.2 L481.8 372.3 L482.6 369.4 L483.5 366.6 L484.4 363.7 L485.3 360.8 L486.1 358.0 L487.0 355.1 L487.9 352.2 L488.8 349.4 L489.7 346.5 L490.6 343.6 L491.5 340.8 L492.4 337.9 L493.3 335.0 L494.2 332.2 L495.1 329.3 L496.0 326.4 L496.9 323.6 L497.9 320.7 L498.8 317.9 L499.8 315.1 L500.8 312.2 L501.8 309.4 L502.8 306.6 L503.9 303.8 L504.9 301.0 L506.0 298.2 L507.1 295.4 L508.2 292.6 L509.4 289.8 L510.6 287.1 L511.8 284.3 L513.0 281.6 L514.2 278.8 L515.5 276.1 L516.8 273.4 L518.1 270.7 L519.4 268.0 L520.7 265.3 L522.1 262.6 L523.4 260.0 L524.9 257.3 L526.3 254.7 L527.8 252.1 L529.3 249.5 L530.9 247.0 L532.5 244.4 L534.1 241.9 L535.8 239.4 L537.5 237.0 L539.2 234.5 L541.0 232.1 L542.8 229.7 L544.6 227.3 L546.5 225.0 L548.4 222.7 L550.4 220.4 L552.3 218.1 L554.3 215.9 L556.4 213.8 L558.5 211.7 L560.7 209.6 L562.9 207.6 L565.2 205.7 L567.6 203.9 L570.0 202.1 L572.5 200.4 L574.9 198.7 L577.4 197.1 L580.0 195.5 L582.5 193.9 L585.1 192.3 L587.7 190.8 L590.2 189.2 L592.8 187.7 L595.3 186.1 L597.9 184.5 L600.4 182.9 L603.0 181.3 L605.5 179.8 L608.1 178.2 L610.6 176.6 L613.2 175.1 L615.8 173.6 L618.4 172.2 L621.1 170.8 L623.8 169.4 L626.5 168.2 L629.2 166.9 L631.9 165.7 L634.7 164.5 L637.4 163.3 L640.2 162.1 L642.9 160.9 L645.7 159.7 L648.5 158.6 L651.3 157.4 L654.0 156.3 L656.8 155.1 L659.6 154.0 L662.3 154.9 L665.0 156.1 L667.8 157.3 L670.5 158.5 L673.3 159.7 L676.0 160.9 L678.8 162.1 L681.5 163.3 L684.3 164.5 L687.1 165.6 L689.8 166.8 L692.6 167.9 L695.4 169.1 L698.2 170.2 L700.9 171.4 L703.7 172.5 L706.4 173.7 L709.2 175.0 L711.9 176.3 L714.5 177.6 L717.2 179.0 L719.9 180.4 L722.5 181.8 L725.1 183.2 L727.7 184.7 L730.3 186.2 L732.9 187.8 L735.4 189.4 L737.8 191.1 L740.2 192.9 L742.6 194.7 L745.0 196.6 L747.3 198.5 L749.6 200.4 L751.8 202.4 L754.0 204.4 L756.2 206.4 L758.4 208.5 L760.5 210.6 L762.6 212.8 L764.6 215.0 L766.6 217.2 L768.5 219.5 L770.4 221.8 L772.2 224.2 L774.0 226.6 L775.7 229.1 L777.4 231.5 L779.0 234.0 L780.7 236.6 L782.3 239.1 L783.9 241.6 L785.4 244.2 L787.0 246.8 L788.5 249.4 L790.0 251.9 L791.5 254.5 L793.0 257.2 L794.4 259.8 L795.8 262.4 L797.2 265.1 L798.6 267.7 L800.0 270.4 L801.3 273.1 L802.7 275.8 L804.0 278.5 L805.3 281.2 L806.6 283.9 L807.9 286.6 L809.1 289.3 L810.3 292.1 L811.4 294.9 L812.6 297.6 L813.7 300.4 L814.8 303.2 L815.8 306.0 L816.9 308.8 L818.0 311.6 L819.1 314.4 L820.1 317.2 L821.1 320.1 L822.1 322.9 L823.1 325.7 L824.1 328.6 L825.0 331.4 L826.0 334.3 L827.0 337.1 L827.9 339.9 L828.9 342.8 L829.8 345.6 L830.7 348.5 L831.7 351.3 L832.6 354.2 L833.5 357.1 L834.4 359.9 L835.3 362.8 L836.2 365.6 L837.1 368.5 L838.0 371.4 L838.9 374.2 L839.8 377.1 L840.6 380.0 L841.5 382.9 L842.3 385.8 L843.1 388.7 L843.8 391.5 L844.6 394.5 L845.4 397.4 L846.1 400.3 L846.8 403.2 L847.5 406.1 L848.2 409.0 L848.9 411.9 L849.6 414.9 L850.3 417.8 L850.9 420.7 L851.6 423.6 L852.3 426.5 L853.0 429.5 L853.8 432.4 L854.5 435.3 L855.3 438.2 L856.1 441.1 L856.9 444.0 L857.7 446.9 L858.5 449.7 L859.3 452.6 L860.1 455.5 L861.0 458.4 L861.8 461.3 L862.7 464.1 L863.6 467.0 L864.5 469.9 L865.4 472.7 L866.3 475.6 L867.2 478.5 L868.1 481.3 L869.1 484.2 L870.0 487.0 L871.0 489.8 L872.0 492.7 L873.0 495.5 L874.1 498.3 L875.1 501.1 L876.2 503.9 L877.3 506.7 L878.3 509.5 L879.4 512.3 L880.6 515.1 L881.7 517.9 L882.8 520.6 L884.0 523.4 L885.2 526.2 L886.4 528.9 L887.6 531.7 L888.8 534.4 L890.0 537.1 L891.3 539.9 L892.6 542.6 L893.9 545.3 L895.2 548.0 L896.6 550.6 L897.9 553.3 L899.3 556.0 L900.7 558.6 L902.2 561.3 L903.6 563.9 L905.1 566.5 L906.5 569.1 L908.0 571.7 L909.5 574.3 L911.0 576.9 L912.6 579.5 L914.1 582.1 L915.7 584.7 L917.2 587.2 L918.8 589.8 L920.4 592.3 L922.0 594.8 L923.7 597.3 L925.3 599.9 L926.9 602.4 L928.6 604.9 L930.2 607.4 L931.9 609.9 L933.6 612.4 L935.3 614.8 L937.0 617.3 L938.7 619.8 L940.4 622.3 L942.1 624.7 L943.8 627.2 L945.6 629.6 L947.3 632.1 L949.0 634.5 L950.8 637.0 L952.5 639.4 L954.2 641.9 L956.0 644.3 L957.7 646.8 L959.5 649.2 L961.2 651.7 L962.9 654.1 L964.6 656.6 L966.4 659.0 L968.1 661.5 L969.8 664.0 L971.5 666.4 L973.2 668.9 L974.9 671.3 L976.7 673.8 L978.4 676.3 L980.1 678.7 L981.8 681.2 L983.6 683.6 L985.3 686.1 L987.1 688.5 L988.8 690.9 L990.6 693.4 L992.3 695.8 L994.1 698.2 L995.9 700.6 L997.7 702.9 L999.5 705.1 L1001.4 707.3 L1003.4 709.4 L1005.3 711.5 L1007.3 713.6 L1009.4 715.7 L1011.4 717.8 L1013.5 720.0 L1015.5 722.2 L1017.6 724.3 L1019.6 726.5 L1021.7 728.6 L1023.9 730.7 L1026.0 732.8 L1028.2 734.9 L1030.3 737.0 L1032.6 739.0 L1034.8 741.0 L1037.1 742.9 L1039.4 744.8 L1041.8 746.7 L1044.1 748.5 L1046.5 750.3 L1048.9 752.1 L1051.4 753.8 L1053.8 755.6 L1056.3 757.3 L1058.8 758.9 L1061.3 760.6 L1063.8 762.2 L1066.4 763.7 L1069.0 765.3 L1071.6 766.8 L1074.2 768.2 L1076.8 769.6 L1079.5 770.9 L1082.2 772.2 L1085.0 773.4 L1087.7 774.5 L1090.5 775.4 L1093.4 776.2 L1096.3 776.9 L1099.2 777.4 L1102.1 777.7 L1105.0 777.9 L1108.0 777.9 L1110.9 777.7 L1113.9 777.4 L1116.8 777.0 L1119.8 776.5 L1122.7 775.9 L1125.5 775.2 L1128.4 774.3 L1131.2 773.4 L1134.0 772.3 L1136.7 771.2 L1139.3 769.8 L1142.0 768.4 L1144.7 767.3 L1145.6 766.9 L1145.6 764.9 L1145.6 761.9 L1145.6 758.9 L1145.6 755.9 L1145.6 752.9 L1145.6 749.9 L1145.6 746.9 L1145.6 743.9 L1145.6 740.9 L1145.6 737.9 L1145.6 734.9 L1145.7 731.9 L1145.7 728.9 L1145.7 725.9 L1145.7 722.9 L1145.7 719.9 L1145.7 716.9 L1145.7 713.9 L1145.7 710.9 L1145.7 707.9 L1145.7 704.9 L1145.7 701.9 L1145.8 698.9 L1145.8 695.9 L1145.8 692.8 L1145.8 689.8 L1145.8 686.8 L1145.8 683.8 L1145.8 680.8 L1145.8 677.8 L1145.8 674.8 L1145.8 671.8" stroke="#1010dd" stroke-width="3" fill="none" stroke-linejoin="round" stroke-linecap="round"/>
<path d="M144.10 896.5v-8.5M144.10 97.6v8.5M245.75 896.5v-8.5M245.75 97.6v8.5M347.30 896.5v-8.5M347.30 97.6v8.5M448.78 896.5v-8.5M448.78 97.6v8.5M552.15 896.5v-8.5M552.15 97.6v8.5M653.70 896.5v-8.5M653.70 97.6v8.5M755.25 896.5v-8.5M755.25 97.6v8.5M858.62 896.5v-8.5M858.62 97.6v8.5M960.05 896.5v-8.5M960.05 97.6v8.5M1061.54 896.5v-8.5M1061.54 97.6v8.5M1163.10 896.5v-8.5M1163.10 97.6v8.5M144.1 97.60h8.5M1163.1 97.60h-8.5M144.1 210.45h8.5M1163.1 210.45h-8.5M144.1 324.90h8.5M1163.1 324.90h-8.5M144.1 439.70h8.5M1163.1 439.70h-8.5M144.1 554.30h8.5M1163.1 554.30h-8.5M144.1 669.20h8.5M1163.1 669.20h-8.5M144.1 783.80h8.5M1163.1 783.80h-8.5M144.1 896.50h8.5M1163.1 896.50h-8.5" stroke="#262626" stroke-width="2" fill="none"/>
<rect x="144.1" y="97.6" width="1019.0" height="798.9" stroke="#262626" stroke-width="2.2" fill="none"/>
<text transform="translate(144.1 942.0) scale(1.06 1)" text-anchor="middle" class="tk">-0.025</text>
<text transform="translate(245.8 942.0) scale(1.06 1)" text-anchor="middle" class="tk">-0.02</text>
<text transform="translate(347.3 942.0) scale(1.06 1)" text-anchor="middle" class="tk">-0.015</text>
<text transform="translate(448.8 942.0) scale(1.06 1)" text-anchor="middle" class="tk">-0.01</text>
<text transform="translate(552.1 942.0) scale(1.06 1)" text-anchor="middle" class="tk">-0.005</text>
<text transform="translate(653.7 942.0) scale(1.06 1)" text-anchor="middle" class="tk">0</text>
<text transform="translate(755.2 942.0) scale(1.06 1)" text-anchor="middle" class="tk">0.005</text>
<text transform="translate(858.6 942.0) scale(1.06 1)" text-anchor="middle" class="tk">0.01</text>
<text transform="translate(960.0 942.0) scale(1.06 1)" text-anchor="middle" class="tk">0.015</text>
<text transform="translate(1061.5 942.0) scale(1.06 1)" text-anchor="middle" class="tk">0.02</text>
<text transform="translate(1163.1 942.0) scale(1.06 1)" text-anchor="middle" class="tk">0.025</text>
<text transform="translate(130.6 109.2) scale(1.06 1)" text-anchor="end" class="tk">100</text>
<text transform="translate(130.6 222.0) scale(1.06 1)" text-anchor="end" class="tk">80</text>
<text transform="translate(130.6 336.5) scale(1.06 1)" text-anchor="end" class="tk">60</text>
<text transform="translate(130.6 451.3) scale(1.06 1)" text-anchor="end" class="tk">40</text>
<text transform="translate(130.6 565.9) scale(1.06 1)" text-anchor="end" class="tk">20</text>
<text transform="translate(130.6 680.8) scale(1.06 1)" text-anchor="end" class="tk">0</text>
<text transform="translate(130.6 795.4) scale(1.06 1)" text-anchor="end" class="tk">-20</text>
<text transform="translate(130.6 908.1) scale(1.06 1)" text-anchor="end" class="tk">-40</text>
<text transform="translate(653.6 77.7) scale(1.025 1)" text-anchor="middle" class="ti">Water flow Angle in Degrees at z = -0.15 (m)</text>
<text transform="translate(653.6 996.6) scale(1.02 1)" text-anchor="middle" class="lb">X (m)</text>
<text transform="translate(56.6 497.0) rotate(-90) scale(1.03 1)" text-anchor="middle" class="lb">Flow Angle</text>
<rect x="550.4" y="680.3" width="206" height="191.5" fill="#fff" stroke="#262626" stroke-width="2"/>
<path d="M557.9 706.7H651.1" stroke="#000000" stroke-width="3"/>
<text transform="translate(659.8 720.8) scale(1.03 1)" text-anchor="start" class="lg">3 kPa</text>
<path d="M557.9 753.1H651.1" stroke="#22dd22" stroke-width="3"/>
<text transform="translate(659.8 767.2) scale(1.03 1)" text-anchor="start" class="lg">4 kPa</text>
<path d="M557.9 799.5H651.1" stroke="#dd1515" stroke-width="3"/>
<text transform="translate(659.8 813.6) scale(1.03 1)" text-anchor="start" class="lg">5 kPa</text>
<path d="M557.9 845.9H651.1" stroke="#1010dd" stroke-width="3"/>
<text transform="translate(659.8 860.0) scale(1.03 1)" text-anchor="start" class="lg">6 kPa</text>
<text x="668.6" y="1124.6" text-anchor="middle" class="cap">(<tspan font-weight="bold">a</tspan>)</text>
<path d="M1405.73 97.6V896.5M1426.06 97.6V896.5M1446.39 97.6V896.5M1466.72 97.6V896.5M1507.36 97.6V896.5M1527.67 97.6V896.5M1547.98 97.6V896.5M1568.29 97.6V896.5M1608.90 97.6V896.5M1629.19 97.6V896.5M1649.49 97.6V896.5M1669.78 97.6V896.5M1710.75 97.6V896.5M1731.43 97.6V896.5M1752.10 97.6V896.5M1772.78 97.6V896.5M1813.76 97.6V896.5M1834.07 97.6V896.5M1854.38 97.6V896.5M1874.69 97.6V896.5M1915.31 97.6V896.5M1935.62 97.6V896.5M1955.93 97.6V896.5M1976.24 97.6V896.5M2017.22 97.6V896.5M2037.90 97.6V896.5M2058.57 97.6V896.5M2079.25 97.6V896.5M2120.21 97.6V896.5M2140.49 97.6V896.5M2160.78 97.6V896.5M2181.06 97.6V896.5M2221.65 97.6V896.5M2241.95 97.6V896.5M2262.24 97.6V896.5M2282.54 97.6V896.5M2323.15 97.6V896.5M2343.46 97.6V896.5M2363.78 97.6V896.5M2384.09 97.6V896.5" stroke="#c6c6c6" stroke-width="1.7" stroke-dasharray="1.7 5.8" stroke-dashoffset="-1.3" fill="none"/>
<path d="M1385.4 125.81H2404.4M1385.4 154.02H2404.4M1385.4 182.24H2404.4M1385.4 239.06H2404.4M1385.4 267.67H2404.4M1385.4 296.29H2404.4M1385.4 353.60H2404.4M1385.4 382.30H2404.4M1385.4 411.00H2404.4M1385.4 468.35H2404.4M1385.4 497.00H2404.4M1385.4 525.65H2404.4M1385.4 583.02H2404.4M1385.4 611.75H2404.4M1385.4 640.48H2404.4M1385.4 697.85H2404.4M1385.4 726.50H2404.4M1385.4 755.15H2404.4M1385.4 811.97H2404.4M1385.4 840.15H2404.4M1385.4 868.33H2404.4" stroke="#c6c6c6" stroke-width="1.7" stroke-dasharray="1.7 5.8" stroke-dashoffset="-3" fill="none"/>
<path d="M1487.05 97.6V896.5" stroke="#262626" stroke-opacity="0.15" stroke-width="1.7" fill="none"/>
<path d="M1588.60 97.6V896.5" stroke="#262626" stroke-opacity="0.15" stroke-width="1.7" fill="none"/>
<path d="M1690.08 97.6V896.5" stroke="#262626" stroke-opacity="0.15" stroke-width="1.7" fill="none"/>
<path d="M1793.45 97.6V896.5" stroke="#262626" stroke-opacity="0.15" stroke-width="1.7" fill="none"/>
<path d="M1895.00 97.6V896.5" stroke="#262626" stroke-opacity="0.15" stroke-width="1.7" fill="none"/>
<path d="M1996.55 97.6V896.5" stroke="#262626" stroke-opacity="0.15" stroke-width="1.7" fill="none"/>
<path d="M2099.92 97.6V896.5" stroke="#262626" stroke-opacity="0.15" stroke-width="1.7" fill="none"/>
<path d="M2201.35 97.6V896.5" stroke="#262626" stroke-opacity="0.15" stroke-width="1.7" fill="none"/>
<path d="M2302.84 97.6V896.5" stroke="#262626" stroke-opacity="0.15" stroke-width="1.7" fill="none"/>
<path d="M1385.4 210.45H2404.4" stroke="#262626" stroke-opacity="0.15" stroke-width="1.7" fill="none"/>
<path d="M1385.4 324.90H2404.4" stroke="#262626" stroke-opacity="0.15" stroke-width="1.7" fill="none"/>
<path d="M1385.4 439.70H2404.4" stroke="#262626" stroke-opacity="0.15" stroke-width="1.7" fill="none"/>
<path d="M1385.4 554.30H2404.4" stroke="#262626" stroke-opacity="0.15" stroke-width="1.7" fill="none"/>
<path d="M1385.4 669.20H2404.4" stroke="#262626" stroke-opacity="0.15" stroke-width="1.7" fill="none"/>
<path d="M1385.4 783.80H2404.4" stroke="#262626" stroke-opacity="0.15" stroke-width="1.7" fill="none"/>
<path d="M1401.5 784.3 L1404.3 785.6 L1407.0 786.8 L1409.6 788.3 L1412.1 789.9 L1414.7 791.4 L1417.3 792.8 L1419.9 794.1 L1422.6 795.3 L1425.3 796.3 L1428.1 797.1 L1430.9 797.8 L1433.8 798.2 L1436.7 798.5 L1439.7 798.6 L1442.6 798.5 L1445.6 798.2 L1448.5 797.9 L1451.4 797.4 L1454.4 796.8 L1457.3 796.2 L1460.2 795.5 L1463.1 794.8 L1466.0 794.1 L1468.9 793.3 L1471.8 792.5 L1474.7 791.7 L1477.6 790.8 L1480.4 789.9 L1483.2 788.9 L1486.0 787.9 L1488.8 786.8 L1491.6 785.6 L1494.3 784.3 L1496.9 783.0 L1499.6 781.6 L1502.2 780.1 L1504.7 778.5 L1507.2 776.9 L1509.7 775.3 L1512.2 773.5 L1514.6 771.8 L1517.0 770.0 L1519.4 768.2 L1521.8 766.4 L1524.2 764.6 L1526.6 762.7 L1528.9 760.9 L1531.3 759.0 L1533.6 757.1 L1535.9 755.2 L1538.3 753.4 L1540.6 751.5 L1543.0 749.6 L1545.3 747.7 L1547.6 745.8 L1549.9 743.9 L1552.2 742.0 L1554.5 740.0 L1556.8 738.1 L1559.1 736.1 L1561.3 734.2 L1563.6 732.2 L1565.9 730.3 L1568.3 728.4 L1570.6 726.6 L1573.0 724.7 L1575.4 722.9 L1577.8 721.1 L1580.2 719.3 L1582.6 717.6 L1585.0 715.8 L1587.5 714.1 L1589.9 712.3 L1592.4 710.6 L1594.8 708.8 L1597.3 707.1 L1599.7 705.4 L1602.1 703.6 L1604.5 701.8 L1606.9 700.0 L1609.3 698.2 L1611.6 696.3 L1613.9 694.4 L1616.2 692.5 L1618.5 690.6 L1620.9 688.8 L1623.3 687.0 L1625.7 685.3 L1628.2 683.7 L1630.7 682.1 L1633.3 680.6 L1635.9 679.1 L1638.4 677.5 L1640.9 675.9 L1643.3 674.2 L1645.6 672.4 L1647.8 670.4 L1649.9 668.4 L1651.9 666.2 L1653.8 663.9 L1655.7 661.6 L1657.5 659.2 L1659.3 656.8 L1661.0 654.4 L1662.7 651.9 L1664.4 649.4 L1666.0 646.9 L1667.7 644.4 L1669.2 641.8 L1670.8 639.3 L1672.3 636.7 L1673.8 634.1 L1675.3 631.5 L1676.7 628.8 L1678.2 626.2 L1679.6 623.5 L1680.9 620.9 L1682.3 618.2 L1683.6 615.5 L1684.9 612.8 L1686.2 610.1 L1687.4 607.4 L1688.6 604.6 L1689.8 601.9 L1691.0 599.1 L1692.2 596.4 L1693.4 593.7 L1694.7 591.0 L1695.9 588.3 L1697.2 585.6 L1698.4 582.9 L1699.6 580.1 L1700.8 577.4 L1701.9 574.6 L1703.0 571.8 L1704.1 569.0 L1705.1 566.2 L1706.1 563.4 L1707.0 560.5 L1708.0 557.7 L1708.9 554.8 L1709.8 552.0 L1710.7 549.1 L1711.5 546.2 L1712.4 543.4 L1713.3 540.5 L1714.1 537.6 L1715.0 534.7 L1715.9 531.9 L1716.7 529.0 L1717.6 526.1 L1718.5 523.3 L1719.4 520.4 L1720.3 517.5 L1721.2 514.7 L1722.1 511.8 L1722.9 508.9 L1723.8 506.1 L1724.6 503.2 L1725.4 500.3 L1726.2 497.4 L1727.0 494.5 L1727.8 491.6 L1728.5 488.7 L1729.4 485.8 L1730.2 482.9 L1731.1 480.1 L1731.9 477.2 L1732.8 474.3 L1733.7 471.5 L1734.6 468.6 L1735.5 465.7 L1736.3 462.9 L1737.2 460.0 L1738.0 457.1 L1738.8 454.2 L1739.6 451.3 L1740.4 448.4 L1741.3 445.6 L1742.1 442.7 L1742.9 439.8 L1743.8 436.9 L1744.6 434.0 L1745.5 431.2 L1746.4 428.3 L1747.3 425.4 L1748.2 422.6 L1749.1 419.7 L1750.1 416.9 L1751.0 414.0 L1752.0 411.2 L1753.0 408.4 L1754.0 405.5 L1755.0 402.7 L1756.1 399.9 L1757.1 397.1 L1758.1 394.3 L1759.2 391.4 L1760.2 388.6 L1761.3 385.8 L1762.3 383.0 L1763.3 380.2 L1764.4 377.4 L1765.4 374.6 L1766.4 371.7 L1767.5 368.9 L1768.5 366.1 L1769.5 363.3 L1770.5 360.5 L1771.6 357.6 L1772.6 354.8 L1773.6 352.0 L1774.6 349.2 L1775.6 346.3 L1776.7 343.5 L1777.7 340.7 L1778.7 337.9 L1779.7 335.1 L1780.7 332.2 L1781.8 329.4 L1782.8 326.6 L1783.9 323.8 L1785.0 321.0 L1786.1 318.2 L1787.3 315.5 L1788.5 312.7 L1789.7 310.0 L1791.0 307.3 L1792.4 304.6 L1793.8 302.0 L1795.2 299.3 L1796.6 296.7 L1798.1 294.1 L1799.6 291.5 L1801.2 288.9 L1802.7 286.4 L1804.3 283.9 L1805.9 281.3 L1807.6 278.8 L1809.2 276.3 L1810.9 273.8 L1812.5 271.3 L1814.2 268.8 L1815.9 266.3 L1817.6 263.8 L1819.2 261.3 L1821.0 258.9 L1822.7 256.4 L1824.4 254.0 L1826.2 251.6 L1828.0 249.2 L1829.7 246.7 L1831.5 244.3 L1833.2 241.9 L1834.9 239.4 L1836.5 236.9 L1838.1 234.3 L1839.7 231.8 L1841.2 229.2 L1842.8 226.6 L1844.3 224.1 L1845.9 221.5 L1847.5 219.0 L1849.1 216.5 L1850.8 214.0 L1852.4 211.5 L1854.1 209.0 L1855.8 206.5 L1857.5 204.0 L1859.2 201.5 L1860.9 199.1 L1862.7 196.7 L1864.6 194.4 L1866.5 192.2 L1868.6 190.1 L1870.7 188.0 L1872.9 186.0 L1875.2 184.1 L1877.5 182.2 L1879.9 180.4 L1882.2 178.5 L1884.5 176.6 L1886.8 174.7 L1889.0 172.7 L1891.1 170.7 L1893.3 168.6 L1895.4 166.5 L1897.6 164.4 L1899.7 162.4 L1901.9 160.3 L1904.1 158.3 L1906.2 156.3 L1908.4 154.5 L1910.8 156.3 L1913.3 158.0 L1915.7 159.8 L1918.1 161.5 L1920.5 163.4 L1922.9 165.2 L1925.2 167.1 L1927.5 169.0 L1929.8 171.0 L1932.0 173.0 L1934.2 175.0 L1936.3 177.1 L1938.4 179.2 L1940.4 181.4 L1942.5 183.6 L1944.5 185.9 L1946.4 188.1 L1948.4 190.4 L1950.3 192.7 L1952.2 195.0 L1954.1 197.4 L1956.0 199.7 L1957.8 202.1 L1959.7 204.4 L1961.5 206.8 L1963.2 209.2 L1965.0 211.7 L1966.8 214.1 L1968.5 216.6 L1970.2 219.0 L1971.9 221.5 L1973.6 224.0 L1975.3 226.5 L1976.9 229.0 L1978.6 231.5 L1980.2 234.0 L1981.7 236.6 L1983.3 239.1 L1984.8 241.7 L1986.3 244.3 L1987.8 246.9 L1989.2 249.5 L1990.7 252.2 L1992.1 254.8 L1993.5 257.5 L1994.8 260.2 L1996.1 262.9 L1997.4 265.6 L1998.7 268.3 L1999.9 271.0 L2001.2 273.8 L2002.4 276.5 L2003.5 279.3 L2004.7 282.0 L2005.8 284.8 L2007.0 287.6 L2008.1 290.4 L2009.2 293.2 L2010.3 295.9 L2011.4 298.7 L2012.5 301.5 L2013.6 304.3 L2014.6 307.1 L2015.7 309.9 L2016.8 312.8 L2017.8 315.6 L2018.8 318.4 L2019.8 321.2 L2020.8 324.0 L2021.8 326.9 L2022.8 329.7 L2023.8 332.5 L2024.7 335.4 L2025.7 338.2 L2026.7 341.1 L2027.6 343.9 L2028.6 346.8 L2029.6 349.6 L2030.5 352.4 L2031.5 355.3 L2032.5 358.1 L2033.4 361.0 L2034.4 363.8 L2035.3 366.7 L2036.3 369.5 L2037.3 372.3 L2038.2 375.2 L2039.2 378.0 L2040.1 380.9 L2041.1 383.7 L2042.0 386.6 L2043.0 389.4 L2044.0 392.3 L2044.9 395.1 L2045.9 397.9 L2046.8 400.8 L2047.8 403.6 L2048.8 406.5 L2049.8 409.3 L2050.8 412.1 L2051.8 414.9 L2052.8 417.8 L2053.8 420.6 L2054.9 423.4 L2055.9 426.2 L2057.0 429.0 L2058.1 431.8 L2059.1 434.6 L2060.2 437.4 L2061.2 440.2 L2062.2 443.1 L2063.2 445.9 L2064.1 448.8 L2065.0 451.6 L2065.8 454.5 L2066.7 457.4 L2067.5 460.2 L2068.4 463.1 L2069.4 465.9 L2070.3 468.8 L2071.4 471.6 L2072.5 474.4 L2073.6 477.1 L2074.8 479.9 L2076.0 482.6 L2077.2 485.4 L2078.5 488.1 L2079.7 490.9 L2080.8 493.6 L2082.0 496.4 L2083.1 499.2 L2084.2 501.9 L2085.3 504.7 L2086.4 507.5 L2087.5 510.3 L2088.5 513.2 L2089.6 516.0 L2090.7 518.7 L2091.8 521.5 L2092.9 524.3 L2094.1 527.1 L2095.3 529.8 L2096.5 532.6 L2097.7 535.3 L2098.9 538.1 L2100.1 540.8 L2101.4 543.5 L2102.6 546.3 L2103.9 549.0 L2105.1 551.7 L2106.3 554.5 L2107.6 557.2 L2108.8 559.9 L2110.1 562.7 L2111.4 565.4 L2112.7 568.1 L2114.0 570.7 L2115.4 573.4 L2116.9 576.0 L2118.4 578.6 L2119.9 581.2 L2121.5 583.7 L2123.1 586.2 L2124.7 588.8 L2126.4 591.3 L2128.1 593.8 L2129.7 596.2 L2131.5 598.7 L2133.2 601.2 L2134.9 603.6 L2136.7 606.0 L2138.5 608.4 L2140.4 610.8 L2142.2 613.1 L2144.1 615.4 L2146.0 617.8 L2148.0 620.0 L2149.9 622.3 L2151.9 624.5 L2154.0 626.7 L2156.1 628.8 L2158.2 630.9 L2160.4 633.0 L2162.6 635.0 L2164.9 636.9 L2167.2 638.9 L2169.5 640.8 L2171.8 642.7 L2174.1 644.6 L2176.5 646.4 L2178.8 648.3 L2181.1 650.3 L2183.4 652.2 L2185.7 654.1 L2188.0 656.1 L2190.2 658.0 L2192.5 660.0 L2194.7 662.0 L2197.0 664.0 L2199.2 666.0 L2201.4 668.0 L2203.7 670.1 L2205.9 672.1 L2208.1 674.1 L2210.3 676.1 L2212.6 678.1 L2214.8 680.1 L2217.0 682.2 L2219.1 684.2 L2221.3 686.3 L2223.5 688.4 L2225.6 690.5 L2227.8 692.6 L2229.9 694.7 L2232.0 696.8 L2234.2 698.9 L2236.4 701.0 L2238.6 703.0 L2240.7 705.1 L2243.0 707.1 L2245.2 709.1 L2247.4 711.1 L2249.6 713.1 L2251.8 715.1 L2254.1 717.2 L2256.3 719.2 L2258.5 721.2 L2260.8 723.2 L2263.0 725.2 L2265.2 727.2 L2267.5 729.2 L2269.7 731.2 L2271.9 733.2 L2274.2 735.2 L2276.4 737.2 L2278.6 739.2 L2280.9 741.2 L2283.1 743.2 L2285.4 745.2 L2287.7 747.1 L2289.9 749.1 L2292.3 751.0 L2294.6 752.9 L2296.9 754.7 L2299.3 756.6 L2301.7 758.4 L2304.1 760.1 L2306.6 761.9 L2309.1 763.5 L2311.6 765.1 L2314.1 766.7 L2316.7 768.2 L2319.3 769.6 L2322.0 771.0 L2324.7 772.3 L2327.4 773.6 L2330.1 774.8 L2332.9 775.9 L2335.7 777.0 L2338.5 777.9 L2341.4 778.9 L2344.2 779.7 L2347.1 780.4 L2350.0 781.0 L2352.9 781.5 L2355.9 781.9 L2358.8 782.1 L2361.7 782.1 L2364.7 782.0 L2367.6 781.7 L2370.5 781.3 L2373.4 780.7 L2376.3 780.0 L2379.1 779.1 L2381.8 777.9 L2384.5 776.5 L2386.2 775.5" stroke="#000000" stroke-width="3" fill="none" stroke-linejoin="round" stroke-linecap="round"/>
<path d="M1401.5 787.8 L1404.1 789.3 L1406.7 790.8 L1409.3 792.3 L1412.0 793.6 L1414.7 794.8 L1417.5 795.9 L1420.3 796.8 L1423.1 797.5 L1426.0 798.1 L1428.9 798.6 L1431.8 798.9 L1434.8 798.9 L1437.7 798.9 L1440.7 798.6 L1443.6 798.3 L1446.5 797.8 L1449.4 797.1 L1452.3 796.4 L1455.2 795.5 L1458.0 794.6 L1460.9 793.6 L1463.7 792.6 L1466.5 791.5 L1469.2 790.4 L1472.0 789.2 L1474.7 788.0 L1477.5 786.8 L1480.2 785.5 L1482.9 784.2 L1485.6 782.9 L1488.2 781.5 L1490.9 780.1 L1493.5 778.6 L1496.0 777.1 L1498.6 775.5 L1501.1 773.9 L1503.6 772.3 L1506.1 770.6 L1508.6 769.0 L1511.2 767.3 L1513.7 765.7 L1516.2 764.1 L1518.7 762.5 L1521.3 760.9 L1523.8 759.3 L1526.4 757.7 L1528.9 756.1 L1531.5 754.6 L1534.0 753.0 L1536.6 751.4 L1539.0 749.7 L1541.5 748.0 L1543.9 746.2 L1546.3 744.4 L1548.6 742.6 L1551.0 740.8 L1553.4 739.0 L1555.8 737.2 L1558.2 735.4 L1560.6 733.6 L1563.1 731.9 L1565.5 730.2 L1568.0 728.5 L1570.4 726.8 L1572.9 725.0 L1575.4 723.3 L1577.8 721.6 L1580.2 719.8 L1582.7 718.1 L1585.1 716.3 L1587.5 714.5 L1589.9 712.7 L1592.3 710.9 L1594.7 709.1 L1597.0 707.2 L1599.3 705.2 L1601.5 703.3 L1603.8 701.3 L1605.9 699.2 L1608.1 697.2 L1610.3 695.1 L1612.4 693.0 L1614.5 690.9 L1616.7 688.8 L1618.8 686.7 L1621.0 684.6 L1623.2 682.5 L1625.3 680.4 L1627.5 678.3 L1629.7 676.3 L1631.8 674.2 L1634.0 672.1 L1636.1 670.0 L1638.3 667.9 L1640.4 665.8 L1642.5 663.7 L1644.6 661.5 L1646.7 659.4 L1648.8 657.3 L1650.9 655.1 L1653.0 652.9 L1655.0 650.7 L1657.1 648.5 L1659.1 646.3 L1661.1 644.1 L1663.1 641.8 L1665.0 639.5 L1666.8 637.2 L1668.6 634.8 L1670.4 632.4 L1672.0 629.9 L1673.6 627.4 L1675.2 624.8 L1676.8 622.3 L1678.3 619.7 L1679.9 617.2 L1681.5 614.6 L1683.2 612.1 L1684.9 609.7 L1686.6 607.2 L1688.3 604.7 L1690.0 602.3 L1691.7 599.8 L1693.3 597.3 L1694.9 594.7 L1696.4 592.2 L1697.9 589.6 L1699.4 587.0 L1700.8 584.3 L1702.1 581.6 L1703.3 578.9 L1704.5 576.2 L1705.7 573.4 L1706.9 570.6 L1708.0 567.9 L1709.2 565.1 L1710.3 562.3 L1711.5 559.6 L1712.6 556.8 L1713.8 554.0 L1714.9 551.2 L1716.0 548.4 L1717.0 545.6 L1718.1 542.8 L1719.1 540.0 L1720.0 537.1 L1721.0 534.3 L1721.9 531.4 L1722.8 528.6 L1723.7 525.7 L1724.6 522.9 L1725.5 520.0 L1726.5 517.2 L1727.4 514.3 L1728.4 511.5 L1729.5 508.7 L1730.5 505.9 L1731.6 503.1 L1732.7 500.3 L1733.8 497.5 L1734.8 494.7 L1735.9 491.9 L1736.9 489.0 L1737.9 486.2 L1738.9 483.4 L1739.8 480.5 L1740.8 477.7 L1741.8 474.8 L1742.7 472.0 L1743.7 469.2 L1744.7 466.3 L1745.6 463.5 L1746.6 460.6 L1747.6 457.8 L1748.6 455.0 L1749.6 452.1 L1750.6 449.3 L1751.6 446.5 L1752.6 443.6 L1753.6 440.8 L1754.5 438.0 L1755.5 435.1 L1756.5 432.3 L1757.5 429.5 L1758.5 426.6 L1759.5 423.8 L1760.4 421.0 L1761.4 418.1 L1762.3 415.3 L1763.2 412.4 L1764.1 409.5 L1765.0 406.7 L1765.9 403.8 L1766.8 400.9 L1767.7 398.1 L1768.6 395.2 L1769.5 392.4 L1770.5 389.5 L1771.4 386.7 L1772.4 383.8 L1773.4 381.0 L1774.4 378.2 L1775.4 375.4 L1776.5 372.5 L1777.5 369.7 L1778.5 366.9 L1779.6 364.1 L1780.6 361.3 L1781.6 358.5 L1782.7 355.6 L1783.7 352.8 L1784.8 350.0 L1785.9 347.2 L1786.9 344.4 L1788.0 341.6 L1789.1 338.8 L1790.1 336.0 L1791.2 333.2 L1792.3 330.4 L1793.4 327.6 L1794.5 324.8 L1795.7 322.0 L1796.8 319.3 L1798.0 316.5 L1799.1 313.7 L1800.3 311.0 L1801.5 308.2 L1802.7 305.5 L1804.0 302.8 L1805.2 300.0 L1806.4 297.3 L1807.7 294.6 L1808.9 291.8 L1810.2 289.1 L1811.5 286.4 L1812.8 283.7 L1814.1 281.0 L1815.4 278.3 L1816.7 275.6 L1818.0 272.9 L1819.4 270.2 L1820.7 267.5 L1822.1 264.9 L1823.5 262.2 L1824.9 259.6 L1826.4 256.9 L1827.8 254.3 L1829.2 251.7 L1830.7 249.0 L1832.2 246.4 L1833.6 243.8 L1835.2 241.2 L1836.7 238.7 L1838.3 236.1 L1839.9 233.6 L1841.6 231.1 L1843.3 228.7 L1845.0 226.2 L1846.8 223.8 L1848.6 221.4 L1850.5 219.0 L1852.3 216.7 L1854.2 214.3 L1856.0 212.0 L1857.9 209.6 L1859.8 207.3 L1861.7 205.0 L1863.6 202.6 L1865.5 200.3 L1867.4 198.0 L1869.3 195.7 L1871.3 193.4 L1873.3 191.2 L1875.3 188.9 L1877.3 186.7 L1879.3 184.5 L1881.4 182.4 L1883.4 180.2 L1885.4 177.9 L1887.4 175.7 L1889.4 173.4 L1891.3 171.1 L1893.1 168.8 L1895.0 166.4 L1896.7 164.0 L1898.4 161.5 L1900.1 159.0 L1901.7 156.6 L1903.6 154.8 L1906.4 155.6 L1908.7 157.4 L1910.8 159.4 L1912.9 161.6 L1914.9 163.7 L1916.9 166.0 L1918.9 168.2 L1920.9 170.4 L1922.8 172.7 L1924.8 175.0 L1926.7 177.3 L1928.6 179.6 L1930.5 182.0 L1932.4 184.3 L1934.3 186.6 L1936.1 189.0 L1938.0 191.4 L1939.8 193.7 L1941.6 196.1 L1943.4 198.5 L1945.2 200.9 L1947.0 203.3 L1948.8 205.8 L1950.5 208.2 L1952.3 210.6 L1954.0 213.1 L1955.7 215.5 L1957.5 218.0 L1959.2 220.5 L1960.9 222.9 L1962.5 225.4 L1964.2 227.9 L1965.9 230.4 L1967.5 232.9 L1969.1 235.5 L1970.8 238.0 L1972.3 240.5 L1973.9 243.1 L1975.5 245.7 L1977.0 248.2 L1978.5 250.8 L1980.0 253.4 L1981.5 256.0 L1982.9 258.7 L1984.3 261.3 L1985.7 264.0 L1987.1 266.7 L1988.4 269.3 L1989.7 272.0 L1991.0 274.7 L1992.3 277.5 L1993.6 280.2 L1994.8 282.9 L1996.1 285.6 L1997.3 288.4 L1998.5 291.1 L1999.7 293.9 L2000.8 296.6 L2002.0 299.4 L2003.1 302.2 L2004.3 305.0 L2005.4 307.8 L2006.5 310.5 L2007.6 313.3 L2008.6 316.2 L2009.6 319.0 L2010.7 321.8 L2011.6 324.6 L2012.6 327.5 L2013.6 330.3 L2014.5 333.2 L2015.5 336.0 L2016.4 338.9 L2017.3 341.7 L2018.3 344.6 L2019.2 347.4 L2020.1 350.3 L2021.0 353.1 L2021.9 356.0 L2022.8 358.9 L2023.8 361.7 L2024.7 364.6 L2025.6 367.4 L2026.5 370.3 L2027.4 373.2 L2028.3 376.0 L2029.2 378.9 L2030.1 381.7 L2031.1 384.6 L2032.0 387.4 L2032.9 390.3 L2033.9 393.1 L2034.8 396.0 L2035.7 398.9 L2036.6 401.7 L2037.5 404.6 L2038.4 407.4 L2039.3 410.3 L2040.2 413.2 L2041.0 416.1 L2041.9 418.9 L2042.7 421.8 L2043.6 424.7 L2044.5 427.6 L2045.4 430.4 L2046.3 433.3 L2047.2 436.2 L2048.1 439.0 L2049.0 441.9 L2049.9 444.7 L2050.8 447.6 L2051.7 450.5 L2052.6 453.3 L2053.6 456.2 L2054.5 459.0 L2055.5 461.8 L2056.5 464.7 L2057.5 467.5 L2058.6 470.3 L2059.7 473.1 L2060.9 475.8 L2062.1 478.6 L2063.3 481.3 L2064.5 484.1 L2065.7 486.8 L2066.9 489.6 L2068.2 492.3 L2069.4 495.0 L2070.7 497.8 L2071.9 500.5 L2073.2 503.2 L2074.5 505.9 L2075.8 508.6 L2077.1 511.3 L2078.4 514.0 L2079.7 516.7 L2081.0 519.4 L2082.3 522.1 L2083.6 524.9 L2084.8 527.6 L2086.0 530.3 L2087.2 533.1 L2088.4 535.8 L2089.5 538.6 L2090.6 541.4 L2091.7 544.2 L2092.7 547.0 L2093.8 549.8 L2095.0 552.6 L2096.2 555.3 L2097.4 558.0 L2098.8 560.6 L2100.3 563.2 L2101.8 565.8 L2103.4 568.3 L2105.1 570.7 L2106.9 573.2 L2108.7 575.6 L2110.5 578.0 L2112.3 580.3 L2114.2 582.7 L2116.0 585.1 L2117.9 587.4 L2119.8 589.7 L2121.7 592.1 L2123.6 594.4 L2125.5 596.7 L2127.4 599.0 L2129.3 601.4 L2131.2 603.7 L2133.0 606.1 L2134.9 608.4 L2136.7 610.8 L2138.4 613.2 L2140.2 615.7 L2141.9 618.1 L2143.6 620.5 L2145.4 623.0 L2147.2 625.3 L2149.0 627.7 L2151.0 629.9 L2152.9 632.1 L2155.0 634.2 L2157.1 636.4 L2159.2 638.5 L2161.3 640.6 L2163.4 642.7 L2165.5 644.9 L2167.5 647.1 L2169.6 649.3 L2171.6 651.4 L2173.7 653.6 L2175.7 655.8 L2177.8 658.0 L2179.9 660.1 L2182.0 662.3 L2184.1 664.4 L2186.2 666.6 L2188.3 668.7 L2190.5 670.8 L2192.6 672.9 L2194.7 675.1 L2196.8 677.2 L2199.0 679.3 L2201.1 681.4 L2203.2 683.5 L2205.3 685.7 L2207.4 687.8 L2209.6 689.9 L2211.7 692.0 L2213.8 694.2 L2215.9 696.3 L2218.1 698.4 L2220.2 700.5 L2222.4 702.6 L2224.5 704.6 L2226.7 706.7 L2229.0 708.7 L2231.2 710.6 L2233.5 712.6 L2235.8 714.5 L2238.2 716.4 L2240.5 718.2 L2242.9 720.1 L2245.3 721.9 L2247.7 723.7 L2250.1 725.4 L2252.6 727.2 L2255.0 728.9 L2257.5 730.6 L2260.0 732.2 L2262.5 733.9 L2265.0 735.5 L2267.6 737.1 L2270.1 738.7 L2272.7 740.3 L2275.2 741.8 L2277.8 743.4 L2280.4 744.9 L2283.0 746.5 L2285.5 748.0 L2288.1 749.5 L2290.7 751.0 L2293.3 752.5 L2295.9 754.0 L2298.6 755.4 L2301.2 756.8 L2303.9 758.2 L2306.5 759.6 L2309.2 761.0 L2311.9 762.3 L2314.6 763.6 L2317.3 765.0 L2320.0 766.3 L2322.7 767.5 L2325.4 768.7 L2328.2 769.9 L2331.0 770.9 L2333.8 771.8 L2336.6 772.7 L2339.5 773.4 L2342.4 774.0 L2345.4 774.5 L2348.3 774.9 L2351.3 775.3 L2354.3 775.5 L2357.3 775.6 L2360.2 775.7 L2363.2 775.7 L2366.2 775.5 L2369.1 775.3 L2372.1 774.9 L2375.0 774.5 L2378.0 773.9 L2380.9 773.2 L2383.7 772.3 L2386.6 771.2" stroke="#22dd22" stroke-width="3" fill="none" stroke-linejoin="round" stroke-linecap="round"/>
<path d="M1401.5 767.1 L1404.0 768.8 L1406.4 770.6 L1408.8 772.4 L1411.4 773.9 L1414.0 775.3 L1416.7 776.6 L1419.4 777.7 L1422.1 778.8 L1425.0 779.7 L1427.8 780.4 L1430.7 781.0 L1433.6 781.4 L1436.5 781.6 L1439.4 781.7 L1442.4 781.6 L1445.3 781.3 L1448.3 780.9 L1451.2 780.4 L1454.1 779.8 L1457.0 779.0 L1459.9 778.2 L1462.7 777.3 L1465.5 776.4 L1468.4 775.4 L1471.2 774.3 L1474.0 773.2 L1476.7 772.1 L1479.5 771.0 L1482.3 769.8 L1485.0 768.6 L1487.8 767.4 L1490.5 766.2 L1493.3 765.0 L1496.0 763.7 L1498.7 762.5 L1501.4 761.2 L1504.2 760.0 L1506.9 758.7 L1509.6 757.4 L1512.3 756.2 L1515.0 754.9 L1517.8 753.6 L1520.5 752.3 L1523.1 751.0 L1525.8 749.7 L1528.4 748.2 L1531.0 746.7 L1533.4 745.2 L1535.9 743.5 L1538.2 741.7 L1540.6 739.9 L1542.9 738.0 L1545.2 736.1 L1547.5 734.2 L1549.9 732.4 L1552.2 730.5 L1554.6 728.7 L1557.0 726.8 L1559.3 725.0 L1561.7 723.2 L1564.1 721.4 L1566.5 719.6 L1568.9 717.7 L1571.2 715.9 L1573.6 714.0 L1575.9 712.2 L1578.3 710.3 L1580.6 708.4 L1582.9 706.4 L1585.2 704.5 L1587.4 702.5 L1589.7 700.6 L1592.0 698.6 L1594.2 696.6 L1596.5 694.6 L1598.7 692.6 L1600.9 690.6 L1603.2 688.6 L1605.4 686.6 L1607.5 684.5 L1609.7 682.5 L1611.9 680.4 L1614.0 678.3 L1616.2 676.2 L1618.3 674.1 L1620.4 671.9 L1622.5 669.8 L1624.6 667.6 L1626.7 665.5 L1628.7 663.3 L1630.8 661.1 L1632.8 658.9 L1634.8 656.7 L1636.8 654.5 L1638.8 652.2 L1640.8 650.0 L1642.8 647.7 L1644.8 645.5 L1646.7 643.2 L1648.7 640.9 L1650.6 638.6 L1652.5 636.3 L1654.4 634.0 L1656.3 631.7 L1658.2 629.3 L1660.1 627.0 L1661.9 624.6 L1663.8 622.3 L1665.6 619.9 L1667.4 617.5 L1669.2 615.1 L1671.0 612.7 L1672.7 610.2 L1674.5 607.8 L1676.2 605.4 L1678.0 602.9 L1679.7 600.5 L1681.4 598.0 L1683.1 595.5 L1684.7 593.0 L1686.4 590.5 L1688.1 588.0 L1689.7 585.5 L1691.4 583.0 L1693.1 580.5 L1694.7 578.0 L1696.4 575.6 L1698.1 573.1 L1699.7 570.6 L1701.4 568.1 L1703.0 565.6 L1704.6 563.0 L1706.1 560.5 L1707.7 557.9 L1709.1 555.3 L1710.5 552.6 L1712.0 550.0 L1713.3 547.3 L1714.7 544.6 L1716.1 542.0 L1717.4 539.3 L1718.8 536.6 L1720.1 533.9 L1721.4 531.2 L1722.8 528.6 L1724.1 525.9 L1725.4 523.2 L1726.6 520.4 L1727.9 517.7 L1729.0 515.0 L1730.2 512.2 L1731.3 509.4 L1732.5 506.7 L1733.7 504.0 L1734.9 501.3 L1736.1 498.6 L1737.4 495.9 L1738.7 493.2 L1740.0 490.5 L1741.3 487.8 L1742.5 485.1 L1743.7 482.4 L1744.9 479.6 L1746.1 476.9 L1747.3 474.1 L1748.4 471.3 L1749.5 468.5 L1750.6 465.7 L1751.6 462.9 L1752.7 460.1 L1753.7 457.3 L1754.8 454.5 L1755.8 451.7 L1756.8 448.9 L1757.8 446.0 L1758.8 443.2 L1759.8 440.4 L1760.8 437.5 L1761.8 434.7 L1762.8 431.9 L1763.8 429.0 L1764.7 426.2 L1765.6 423.3 L1766.6 420.5 L1767.5 417.6 L1768.3 414.8 L1769.2 411.9 L1770.1 409.0 L1770.9 406.1 L1771.8 403.3 L1772.6 400.4 L1773.5 397.5 L1774.3 394.6 L1775.1 391.7 L1776.0 388.9 L1776.8 386.0 L1777.6 383.1 L1778.4 380.2 L1779.2 377.3 L1780.1 374.4 L1781.0 371.6 L1781.9 368.7 L1782.8 365.9 L1783.7 363.0 L1784.7 360.2 L1785.6 357.3 L1786.6 354.5 L1787.6 351.7 L1788.6 348.8 L1789.7 346.0 L1790.7 343.2 L1791.8 340.4 L1792.8 337.6 L1793.9 334.8 L1795.0 332.0 L1796.1 329.2 L1797.2 326.4 L1798.3 323.6 L1799.4 320.8 L1800.5 318.0 L1801.6 315.3 L1802.7 312.5 L1803.8 309.7 L1805.0 306.9 L1806.1 304.1 L1807.2 301.4 L1808.4 298.6 L1809.5 295.8 L1810.7 293.1 L1811.9 290.3 L1813.1 287.6 L1814.3 284.8 L1815.5 282.1 L1816.7 279.3 L1817.9 276.6 L1819.1 273.8 L1820.3 271.1 L1821.5 268.3 L1822.8 265.6 L1824.0 262.9 L1825.2 260.1 L1826.5 257.4 L1827.8 254.7 L1829.1 252.0 L1830.4 249.3 L1831.7 246.6 L1833.1 243.9 L1834.4 241.3 L1835.8 238.6 L1837.3 236.0 L1838.8 233.4 L1840.3 230.8 L1841.8 228.2 L1843.4 225.7 L1844.9 223.1 L1846.5 220.6 L1848.2 218.0 L1849.8 215.5 L1851.5 213.0 L1853.2 210.6 L1854.9 208.1 L1856.7 205.7 L1858.5 203.4 L1860.4 201.0 L1862.3 198.7 L1864.3 196.5 L1866.3 194.2 L1868.3 192.0 L1870.3 189.8 L1872.4 187.7 L1874.5 185.5 L1876.5 183.3 L1878.6 181.1 L1880.6 178.9 L1882.6 176.7 L1884.6 174.5 L1886.6 172.2 L1888.5 169.9 L1890.4 167.6 L1892.3 165.3 L1894.1 162.9 L1895.8 160.4 L1897.5 158.0 L1899.4 156.0 L1902.2 157.1 L1904.5 158.9 L1906.7 160.9 L1908.8 163.0 L1910.9 165.1 L1912.9 167.3 L1914.9 169.5 L1916.9 171.8 L1918.8 174.1 L1920.7 176.4 L1922.5 178.8 L1924.4 181.1 L1926.2 183.5 L1928.0 185.9 L1929.8 188.3 L1931.6 190.7 L1933.5 193.1 L1935.3 195.4 L1937.1 197.8 L1938.9 200.2 L1940.8 202.6 L1942.6 205.0 L1944.4 207.3 L1946.3 209.7 L1948.1 212.1 L1949.9 214.5 L1951.7 216.9 L1953.5 219.3 L1955.3 221.7 L1957.1 224.1 L1958.8 226.5 L1960.6 229.0 L1962.3 231.4 L1964.0 233.9 L1965.7 236.4 L1967.3 238.9 L1968.9 241.4 L1970.5 244.0 L1972.1 246.5 L1973.6 249.1 L1975.1 251.7 L1976.6 254.3 L1978.1 256.9 L1979.6 259.5 L1981.1 262.1 L1982.5 264.7 L1983.9 267.4 L1985.4 270.0 L1986.8 272.7 L1988.1 275.3 L1989.5 278.0 L1990.8 280.7 L1992.1 283.4 L1993.4 286.1 L1994.7 288.8 L1995.9 291.6 L1997.0 294.3 L1998.2 297.1 L1999.4 299.9 L2000.5 302.6 L2001.6 305.4 L2002.7 308.2 L2003.8 311.0 L2004.9 313.8 L2005.9 316.6 L2007.0 319.4 L2008.0 322.2 L2009.0 325.1 L2010.0 327.9 L2011.0 330.7 L2011.9 333.6 L2012.9 336.4 L2013.8 339.3 L2014.7 342.1 L2015.6 345.0 L2016.4 347.9 L2017.2 350.8 L2018.0 353.7 L2018.8 356.5 L2019.6 359.5 L2020.3 362.4 L2021.0 365.3 L2021.7 368.2 L2022.4 371.1 L2023.1 374.0 L2023.8 377.0 L2024.5 379.9 L2025.2 382.8 L2026.0 385.7 L2026.7 388.6 L2027.5 391.5 L2028.3 394.4 L2029.1 397.3 L2029.9 400.2 L2030.7 403.0 L2031.4 405.9 L2032.2 408.8 L2033.0 411.7 L2033.8 414.6 L2034.5 417.5 L2035.3 420.4 L2036.1 423.3 L2036.9 426.2 L2037.8 429.1 L2038.6 432.0 L2039.5 434.8 L2040.3 437.7 L2041.2 440.6 L2042.1 443.5 L2042.9 446.3 L2043.8 449.2 L2044.6 452.1 L2045.4 455.0 L2046.2 457.9 L2047.0 460.8 L2047.9 463.6 L2048.7 466.5 L2049.6 469.4 L2050.5 472.2 L2051.4 475.1 L2052.3 477.9 L2053.3 480.8 L2054.3 483.6 L2055.4 486.4 L2056.4 489.2 L2057.5 492.0 L2058.5 494.8 L2059.6 497.6 L2060.8 500.4 L2061.9 503.2 L2063.1 505.9 L2064.3 508.7 L2065.5 511.4 L2066.7 514.2 L2067.9 516.9 L2069.1 519.7 L2070.3 522.4 L2071.6 525.1 L2072.8 527.9 L2074.1 530.6 L2075.5 533.3 L2076.8 535.9 L2078.2 538.6 L2079.6 541.2 L2081.1 543.8 L2082.5 546.5 L2084.0 549.1 L2085.6 551.6 L2087.1 554.2 L2088.7 556.8 L2090.3 559.3 L2091.9 561.8 L2093.6 564.2 L2095.4 566.7 L2097.2 569.1 L2099.0 571.5 L2100.8 573.8 L2102.7 576.2 L2104.5 578.5 L2106.4 580.9 L2108.2 583.3 L2110.1 585.6 L2111.9 588.0 L2113.7 590.4 L2115.5 592.8 L2117.4 595.2 L2119.2 597.5 L2121.1 599.9 L2122.9 602.2 L2124.8 604.5 L2126.7 606.9 L2128.6 609.2 L2130.5 611.5 L2132.3 613.9 L2134.1 616.3 L2135.9 618.7 L2137.7 621.1 L2139.4 623.5 L2141.3 625.9 L2143.1 628.2 L2145.0 630.5 L2147.0 632.7 L2149.0 634.9 L2151.1 637.0 L2153.2 639.2 L2155.3 641.3 L2157.4 643.5 L2159.4 645.6 L2161.5 647.8 L2163.5 650.1 L2165.4 652.3 L2167.4 654.6 L2169.3 656.9 L2171.3 659.2 L2173.2 661.5 L2175.2 663.7 L2177.1 666.0 L2179.1 668.3 L2181.1 670.5 L2183.1 672.7 L2185.1 675.0 L2187.1 677.2 L2189.1 679.4 L2191.2 681.6 L2193.2 683.8 L2195.2 686.1 L2197.2 688.3 L2199.2 690.5 L2201.3 692.7 L2203.3 694.9 L2205.4 697.1 L2207.4 699.3 L2209.5 701.4 L2211.6 703.5 L2213.8 705.6 L2216.0 707.7 L2218.2 709.7 L2220.4 711.7 L2222.7 713.7 L2224.9 715.6 L2227.3 717.5 L2229.6 719.4 L2232.0 721.2 L2234.4 723.0 L2236.8 724.7 L2239.3 726.4 L2241.8 728.1 L2244.3 729.8 L2246.8 731.4 L2249.3 733.0 L2251.8 734.6 L2254.4 736.2 L2257.0 737.7 L2259.5 739.3 L2262.1 740.8 L2264.7 742.4 L2267.2 743.9 L2269.8 745.4 L2272.4 747.0 L2275.0 748.5 L2277.6 749.9 L2280.2 751.4 L2282.9 752.8 L2285.5 754.2 L2288.2 755.5 L2290.9 756.9 L2293.6 758.2 L2296.3 759.4 L2299.1 760.6 L2301.8 761.8 L2304.6 762.9 L2307.4 764.0 L2310.2 765.0 L2313.1 765.9 L2315.9 766.7 L2318.8 767.5 L2321.7 768.1 L2324.7 768.7 L2327.6 769.2 L2330.6 769.7 L2333.5 770.0 L2336.5 770.3 L2339.5 770.5 L2342.5 770.6 L2345.4 770.6 L2348.4 770.5 L2351.4 770.3 L2354.4 770.0 L2357.3 769.6 L2360.3 769.2 L2363.2 768.7 L2366.1 768.1 L2369.1 767.4 L2372.0 766.8 L2374.9 766.1 L2377.7 765.5 L2380.6 764.9 L2383.6 764.8 L2386.6 765.2" stroke="#dd1515" stroke-width="3" fill="none" stroke-linejoin="round" stroke-linecap="round"/>
<path d="M1401.5 758.5 L1404.5 758.0 L1407.3 758.5 L1410.1 759.4 L1412.9 760.4 L1415.7 761.4 L1418.5 762.4 L1421.3 763.3 L1424.2 764.1 L1427.0 764.8 L1429.9 765.4 L1432.8 765.8 L1435.8 766.2 L1438.7 766.3 L1441.7 766.4 L1444.7 766.4 L1447.7 766.2 L1450.6 765.9 L1453.6 765.6 L1456.5 765.1 L1459.5 764.6 L1462.4 763.9 L1465.3 763.2 L1468.2 762.4 L1471.0 761.6 L1473.9 760.7 L1476.7 759.7 L1479.6 758.7 L1482.4 757.7 L1485.2 756.7 L1488.0 755.7 L1490.8 754.6 L1493.6 753.5 L1496.4 752.4 L1499.2 751.3 L1502.0 750.2 L1504.8 749.1 L1507.6 747.9 L1510.3 746.8 L1513.1 745.7 L1515.9 744.6 L1518.7 743.5 L1521.5 742.3 L1524.2 741.2 L1527.0 740.0 L1529.7 738.7 L1532.3 737.4 L1535.0 736.0 L1537.5 734.5 L1540.1 732.9 L1542.6 731.3 L1545.0 729.6 L1547.4 727.8 L1549.9 726.1 L1552.3 724.3 L1554.7 722.5 L1557.1 720.7 L1559.6 719.0 L1562.0 717.2 L1564.4 715.5 L1566.9 713.7 L1569.3 712.0 L1571.7 710.2 L1574.1 708.4 L1576.4 706.5 L1578.8 704.6 L1581.1 702.7 L1583.4 700.8 L1585.7 698.9 L1588.0 696.9 L1590.2 695.0 L1592.5 693.0 L1594.7 691.0 L1597.0 689.0 L1599.2 687.0 L1601.4 685.0 L1603.7 683.0 L1605.9 680.9 L1608.0 678.9 L1610.2 676.8 L1612.4 674.7 L1614.5 672.7 L1616.7 670.5 L1618.8 668.4 L1620.9 666.3 L1623.0 664.1 L1625.1 662.0 L1627.1 659.8 L1629.2 657.6 L1631.2 655.4 L1633.3 653.2 L1635.3 651.0 L1637.3 648.8 L1639.3 646.5 L1641.3 644.3 L1643.2 642.0 L1645.1 639.7 L1647.1 637.4 L1649.0 635.1 L1650.9 632.8 L1652.7 630.4 L1654.6 628.1 L1656.5 625.7 L1658.3 623.4 L1660.2 621.0 L1662.0 618.6 L1663.8 616.2 L1665.6 613.8 L1667.4 611.4 L1669.2 609.0 L1670.9 606.6 L1672.7 604.1 L1674.3 601.7 L1676.0 599.2 L1677.6 596.6 L1679.1 594.1 L1680.6 591.5 L1682.1 588.9 L1683.5 586.2 L1684.9 583.6 L1686.4 581.0 L1687.9 578.4 L1689.4 575.8 L1691.0 573.3 L1692.6 570.7 L1694.2 568.2 L1695.8 565.7 L1697.4 563.1 L1699.1 560.6 L1700.7 558.1 L1702.4 555.6 L1704.1 553.1 L1705.7 550.7 L1707.4 548.1 L1709.0 545.6 L1710.6 543.1 L1712.2 540.6 L1713.8 538.0 L1715.3 535.4 L1716.8 532.9 L1718.4 530.3 L1719.9 527.7 L1721.5 525.2 L1723.1 522.6 L1724.7 520.1 L1726.4 517.6 L1728.1 515.2 L1729.8 512.7 L1731.6 510.3 L1733.3 507.9 L1735.0 505.4 L1736.7 503.0 L1738.3 500.4 L1739.8 497.9 L1741.2 495.3 L1742.6 492.6 L1743.9 489.9 L1745.1 487.2 L1746.3 484.5 L1747.5 481.7 L1748.7 479.0 L1749.9 476.2 L1751.1 473.4 L1752.2 470.7 L1753.4 467.9 L1754.5 465.1 L1755.5 462.3 L1756.6 459.5 L1757.6 456.7 L1758.6 453.9 L1759.6 451.0 L1760.5 448.2 L1761.5 445.3 L1762.4 442.5 L1763.3 439.6 L1764.2 436.7 L1765.1 433.9 L1766.0 431.0 L1766.8 428.1 L1767.7 425.3 L1768.6 422.4 L1769.4 419.5 L1770.2 416.6 L1771.1 413.8 L1771.9 410.9 L1772.7 408.0 L1773.5 405.1 L1774.3 402.2 L1775.1 399.3 L1775.8 396.4 L1776.6 393.5 L1777.4 390.6 L1778.2 387.7 L1778.9 384.8 L1779.7 381.9 L1780.5 379.0 L1781.2 376.1 L1782.0 373.2 L1782.8 370.3 L1783.7 367.5 L1784.6 364.6 L1785.5 361.7 L1786.4 358.9 L1787.4 356.1 L1788.4 353.2 L1789.4 350.4 L1790.4 347.6 L1791.4 344.8 L1792.5 341.9 L1793.5 339.1 L1794.6 336.3 L1795.7 333.5 L1796.8 330.7 L1797.9 328.0 L1799.0 325.2 L1800.1 322.4 L1801.2 319.6 L1802.3 316.8 L1803.4 314.0 L1804.5 311.2 L1805.6 308.4 L1806.8 305.7 L1807.9 302.9 L1809.0 300.1 L1810.2 297.3 L1811.4 294.6 L1812.5 291.8 L1813.7 289.1 L1814.9 286.3 L1816.1 283.6 L1817.3 280.8 L1818.5 278.1 L1819.7 275.3 L1821.0 272.6 L1822.2 269.8 L1823.4 267.1 L1824.6 264.4 L1825.9 261.6 L1827.1 258.9 L1828.4 256.2 L1829.6 253.5 L1830.9 250.8 L1832.3 248.1 L1833.6 245.4 L1834.9 242.7 L1836.3 240.0 L1837.7 237.4 L1839.1 234.7 L1840.6 232.1 L1842.0 229.5 L1843.5 226.9 L1845.0 224.2 L1846.4 221.6 L1847.9 219.0 L1849.5 216.5 L1851.0 213.9 L1852.5 211.3 L1854.1 208.8 L1855.8 206.3 L1857.5 203.8 L1859.2 201.4 L1861.1 199.1 L1862.9 196.8 L1864.9 194.5 L1866.9 192.3 L1868.9 190.0 L1871.0 187.9 L1873.0 185.7 L1875.1 183.5 L1877.2 181.3 L1879.2 179.2 L1881.3 177.0 L1883.3 174.7 L1885.3 172.5 L1887.2 170.2 L1889.2 168.0 L1891.1 165.6 L1893.0 163.3 L1894.8 161.0 L1896.6 158.6 L1898.4 156.2 L1899.6 154.6 L1900.4 155.2 L1902.6 157.2 L1904.7 159.4 L1906.6 161.7 L1908.5 164.0 L1910.4 166.3 L1912.3 168.7 L1914.1 171.0 L1915.9 173.4 L1917.7 175.8 L1919.4 178.3 L1921.1 180.7 L1922.9 183.2 L1924.6 185.6 L1926.3 188.1 L1928.1 190.5 L1929.9 192.9 L1931.7 195.3 L1933.5 197.7 L1935.3 200.1 L1937.1 202.5 L1938.9 204.9 L1940.6 207.3 L1942.4 209.8 L1944.2 212.2 L1945.9 214.6 L1947.7 217.1 L1949.4 219.5 L1951.2 221.9 L1952.9 224.4 L1954.6 226.8 L1956.4 229.3 L1958.1 231.7 L1959.8 234.2 L1961.5 236.7 L1963.2 239.2 L1964.8 241.7 L1966.4 244.2 L1968.0 246.7 L1969.6 249.3 L1971.1 251.9 L1972.7 254.4 L1974.2 257.0 L1975.7 259.6 L1977.1 262.3 L1978.6 264.9 L1980.0 267.5 L1981.5 270.1 L1982.9 272.8 L1984.3 275.4 L1985.6 278.1 L1987.0 280.8 L1988.4 283.5 L1989.7 286.1 L1991.0 288.8 L1992.2 291.6 L1993.5 294.3 L1994.7 297.0 L1995.9 299.8 L1997.1 302.5 L1998.3 305.3 L1999.4 308.1 L2000.6 310.8 L2001.7 313.6 L2002.8 316.4 L2003.9 319.2 L2004.9 322.0 L2006.0 324.8 L2007.0 327.6 L2008.1 330.4 L2009.1 333.3 L2010.1 336.1 L2011.1 338.9 L2012.1 341.7 L2013.1 344.6 L2014.0 347.4 L2015.0 350.3 L2015.9 353.1 L2016.8 356.0 L2017.7 358.8 L2018.6 361.7 L2019.4 364.6 L2020.2 367.5 L2020.9 370.4 L2021.6 373.3 L2022.3 376.2 L2023.0 379.1 L2023.7 382.0 L2024.5 384.9 L2025.3 387.8 L2026.0 390.7 L2026.8 393.6 L2027.6 396.5 L2028.4 399.4 L2029.3 402.3 L2030.1 405.2 L2030.9 408.1 L2031.8 410.9 L2032.6 413.8 L2033.5 416.7 L2034.3 419.6 L2035.2 422.4 L2036.1 425.3 L2037.0 428.2 L2037.9 431.0 L2038.8 433.9 L2039.8 436.7 L2040.7 439.6 L2041.6 442.4 L2042.4 445.3 L2043.3 448.2 L2044.2 451.1 L2045.0 453.9 L2045.8 456.8 L2046.7 459.7 L2047.5 462.6 L2048.4 465.4 L2049.3 468.3 L2050.2 471.1 L2051.2 474.0 L2052.3 476.8 L2053.3 479.6 L2054.5 482.4 L2055.6 485.1 L2056.8 487.9 L2058.0 490.6 L2059.3 493.3 L2060.7 496.0 L2062.0 498.6 L2063.5 501.3 L2064.9 503.9 L2066.4 506.5 L2068.0 509.0 L2069.6 511.6 L2071.2 514.1 L2072.8 516.6 L2074.4 519.2 L2076.0 521.7 L2077.6 524.2 L2079.3 526.7 L2080.9 529.2 L2082.6 531.7 L2084.2 534.2 L2085.9 536.7 L2087.7 539.2 L2089.4 541.6 L2091.2 544.0 L2093.0 546.4 L2094.8 548.8 L2096.6 551.2 L2098.4 553.6 L2100.2 556.0 L2102.0 558.4 L2103.9 560.8 L2105.7 563.1 L2107.5 565.5 L2109.3 567.9 L2111.2 570.3 L2113.0 572.7 L2114.8 575.1 L2116.6 577.5 L2118.4 579.9 L2120.2 582.3 L2121.9 584.7 L2123.7 587.1 L2125.5 589.5 L2127.3 591.9 L2129.1 594.3 L2130.9 596.7 L2132.7 599.1 L2134.5 601.5 L2136.3 603.9 L2138.1 606.3 L2139.8 608.8 L2141.5 611.2 L2143.1 613.8 L2144.7 616.3 L2146.2 618.8 L2147.7 621.4 L2149.3 624.0 L2150.9 626.5 L2152.5 629.0 L2154.2 631.4 L2156.0 633.8 L2157.8 636.2 L2159.7 638.5 L2161.6 640.8 L2163.5 643.1 L2165.4 645.4 L2167.4 647.7 L2169.3 650.0 L2171.2 652.3 L2173.1 654.6 L2175.1 656.9 L2177.0 659.2 L2178.9 661.5 L2180.8 663.8 L2182.7 666.1 L2184.7 668.4 L2186.6 670.7 L2188.5 673.0 L2190.5 675.3 L2192.4 677.6 L2194.4 679.8 L2196.4 682.1 L2198.4 684.3 L2200.4 686.6 L2202.4 688.8 L2204.5 691.0 L2206.5 693.1 L2208.6 695.3 L2210.7 697.4 L2212.8 699.5 L2215.0 701.6 L2217.2 703.6 L2219.4 705.7 L2221.7 707.6 L2223.9 709.6 L2226.2 711.5 L2228.6 713.4 L2230.9 715.2 L2233.3 717.0 L2235.7 718.8 L2238.2 720.5 L2240.7 722.2 L2243.1 723.9 L2245.7 725.5 L2248.2 727.1 L2250.7 728.7 L2253.3 730.3 L2255.9 731.8 L2258.5 733.3 L2261.1 734.8 L2263.7 736.2 L2266.3 737.7 L2269.0 739.1 L2271.7 740.4 L2274.3 741.8 L2277.0 743.1 L2279.7 744.5 L2282.4 745.8 L2285.1 747.2 L2287.8 748.5 L2290.5 749.8 L2293.2 751.1 L2295.9 752.3 L2298.6 753.5 L2301.4 754.7 L2304.1 755.9 L2306.9 757.0 L2309.7 758.1 L2312.5 759.2 L2315.3 760.2 L2318.1 761.3 L2321.0 762.2 L2323.8 763.1 L2326.7 764.0 L2329.6 764.7 L2332.5 765.4 L2335.4 765.9 L2338.3 766.3 L2341.3 766.6 L2344.2 766.8 L2347.2 766.9 L2350.2 766.8 L2353.1 766.6 L2356.1 766.3 L2359.1 765.9 L2362.0 765.4 L2364.9 764.9 L2367.9 764.2 L2370.8 763.6 L2373.7 762.8 L2376.5 762.1 L2379.4 761.3 L2382.3 760.8 L2384.8 760.3 L2384.9 757.3 L2385.0 754.3 L2385.0 751.3 L2385.1 748.3 L2385.2 745.3 L2385.3 742.3 L2385.3 739.3 L2385.4 736.3 L2385.5 733.3 L2385.5 730.3 L2385.6 727.3 L2385.7 724.3 L2385.7 721.3 L2385.8 718.3 L2385.9 715.3 L2385.9 712.3 L2386.0 709.3 L2386.1 706.3 L2386.1 703.3 L2386.2 700.3 L2386.3 697.3 L2386.4 694.3 L2386.4 691.3 L2386.5 688.3 L2386.6 685.3 L2386.6 682.3 L2386.7 679.3 L2386.8 676.3 L2386.8 673.3 L2386.9 670.3" stroke="#1010dd" stroke-width="3" fill="none" stroke-linejoin="round" stroke-linecap="round"/>
<path d="M1385.40 896.5v-8.5M1385.40 97.6v8.5M1487.05 896.5v-8.5M1487.05 97.6v8.5M1588.60 896.5v-8.5M1588.60 97.6v8.5M1690.08 896.5v-8.5M1690.08 97.6v8.5M1793.45 896.5v-8.5M1793.45 97.6v8.5M1895.00 896.5v-8.5M1895.00 97.6v8.5M1996.55 896.5v-8.5M1996.55 97.6v8.5M2099.92 896.5v-8.5M2099.92 97.6v8.5M2201.35 896.5v-8.5M2201.35 97.6v8.5M2302.84 896.5v-8.5M2302.84 97.6v8.5M2404.40 896.5v-8.5M2404.40 97.6v8.5M1385.4 97.60h8.5M2404.4 97.60h-8.5M1385.4 210.45h8.5M2404.4 210.45h-8.5M1385.4 324.90h8.5M2404.4 324.90h-8.5M1385.4 439.70h8.5M2404.4 439.70h-8.5M1385.4 554.30h8.5M2404.4 554.30h-8.5M1385.4 669.20h8.5M2404.4 669.20h-8.5M1385.4 783.80h8.5M2404.4 783.80h-8.5M1385.4 896.50h8.5M2404.4 896.50h-8.5" stroke="#262626" stroke-width="2" fill="none"/>
<rect x="1385.4" y="97.6" width="1019.0" height="798.9" stroke="#262626" stroke-width="2.2" fill="none"/>
<text transform="translate(1385.4 942.0) scale(1.06 1)" text-anchor="middle" class="tk">-0.025</text>
<text transform="translate(1487.0 942.0) scale(1.06 1)" text-anchor="middle" class="tk">-0.02</text>
<text transform="translate(1588.6 942.0) scale(1.06 1)" text-anchor="middle" class="tk">-0.015</text>
<text transform="translate(1690.1 942.0) scale(1.06 1)" text-anchor="middle" class="tk">-0.01</text>
<text transform="translate(1793.4 942.0) scale(1.06 1)" text-anchor="middle" class="tk">-0.005</text>
<text transform="translate(1895.0 942.0) scale(1.06 1)" text-anchor="middle" class="tk">0</text>
<text transform="translate(1996.5 942.0) scale(1.06 1)" text-anchor="middle" class="tk">0.005</text>
<text transform="translate(2099.9 942.0) scale(1.06 1)" text-anchor="middle" class="tk">0.01</text>
<text transform="translate(2201.3 942.0) scale(1.06 1)" text-anchor="middle" class="tk">0.015</text>
<text transform="translate(2302.8 942.0) scale(1.06 1)" text-anchor="middle" class="tk">0.02</text>
<text transform="translate(2404.4 942.0) scale(1.06 1)" text-anchor="middle" class="tk">0.025</text>
<text transform="translate(1371.9 109.2) scale(1.06 1)" text-anchor="end" class="tk">100</text>
<text transform="translate(1371.9 222.0) scale(1.06 1)" text-anchor="end" class="tk">80</text>
<text transform="translate(1371.9 336.5) scale(1.06 1)" text-anchor="end" class="tk">60</text>
<text transform="translate(1371.9 451.3) scale(1.06 1)" text-anchor="end" class="tk">40</text>
<text transform="translate(1371.9 565.9) scale(1.06 1)" text-anchor="end" class="tk">20</text>
<text transform="translate(1371.9 680.8) scale(1.06 1)" text-anchor="end" class="tk">0</text>
<text transform="translate(1371.9 795.4) scale(1.06 1)" text-anchor="end" class="tk">-20</text>
<text transform="translate(1371.9 908.1) scale(1.06 1)" text-anchor="end" class="tk">-40</text>
<text transform="translate(1894.9 77.7) scale(1.025 1)" text-anchor="middle" class="ti">Water flow Angle in Degrees at z = -0.25 (m)</text>
<text transform="translate(1894.9 996.6) scale(1.02 1)" text-anchor="middle" class="lb">X (m)</text>
<text transform="translate(1297.9 497.0) rotate(-90) scale(1.03 1)" text-anchor="middle" class="lb">Flow Angle</text>
<rect x="1791.7" y="680.3" width="206" height="191.5" fill="#fff" stroke="#262626" stroke-width="2"/>
<path d="M1799.2 706.7H1892.4" stroke="#000000" stroke-width="3"/>
<text transform="translate(1901.1 720.8) scale(1.03 1)" text-anchor="start" class="lg">3 kPa</text>
<path d="M1799.2 753.1H1892.4" stroke="#22dd22" stroke-width="3"/>
<text transform="translate(1901.1 767.2) scale(1.03 1)" text-anchor="start" class="lg">4 kPa</text>
<path d="M1799.2 799.5H1892.4" stroke="#dd1515" stroke-width="3"/>
<text transform="translate(1901.1 813.6) scale(1.03 1)" text-anchor="start" class="lg">5 kPa</text>
<path d="M1799.2 845.9H1892.4" stroke="#1010dd" stroke-width="3"/>
<text transform="translate(1901.1 860.0) scale(1.03 1)" text-anchor="start" class="lg">6 kPa</text>
<text x="1909.9" y="1124.6" text-anchor="middle" class="cap">(<tspan font-weight="bold">b</tspan>)</text>
<path d="M164.43 1238.5V2037.3M184.76 1238.5V2037.3M205.09 1238.5V2037.3M225.42 1238.5V2037.3M266.06 1238.5V2037.3M286.37 1238.5V2037.3M306.68 1238.5V2037.3M326.99 1238.5V2037.3M367.60 1238.5V2037.3M387.89 1238.5V2037.3M408.19 1238.5V2037.3M428.48 1238.5V2037.3M469.45 1238.5V2037.3M490.13 1238.5V2037.3M510.80 1238.5V2037.3M531.48 1238.5V2037.3M572.46 1238.5V2037.3M592.77 1238.5V2037.3M613.08 1238.5V2037.3M633.39 1238.5V2037.3M674.01 1238.5V2037.3M694.32 1238.5V2037.3M714.63 1238.5V2037.3M734.94 1238.5V2037.3M775.92 1238.5V2037.3M796.60 1238.5V2037.3M817.27 1238.5V2037.3M837.95 1238.5V2037.3M878.91 1238.5V2037.3M899.19 1238.5V2037.3M919.48 1238.5V2037.3M939.76 1238.5V2037.3M980.35 1238.5V2037.3M1000.65 1238.5V2037.3M1020.94 1238.5V2037.3M1041.24 1238.5V2037.3M1081.85 1238.5V2037.3M1102.16 1238.5V2037.3M1122.48 1238.5V2037.3M1142.79 1238.5V2037.3" stroke="#c6c6c6" stroke-width="1.7" stroke-dasharray="1.7 5.8" stroke-dashoffset="-1.3" fill="none"/>
<path d="M144.1 1266.66H1163.1M144.1 1294.88H1163.1M144.1 1323.09H1163.1M144.1 1379.91H1163.1M144.1 1408.53H1163.1M144.1 1437.14H1163.1M144.1 1494.45H1163.1M144.1 1523.15H1163.1M144.1 1551.85H1163.1M144.1 1609.20H1163.1M144.1 1637.85H1163.1M144.1 1666.50H1163.1M144.1 1723.88H1163.1M144.1 1752.60H1163.1M144.1 1781.32H1163.1M144.1 1838.70H1163.1M144.1 1867.35H1163.1M144.1 1896.00H1163.1M144.1 1952.82H1163.1M144.1 1981.00H1163.1M144.1 2009.17H1163.1" stroke="#c6c6c6" stroke-width="1.7" stroke-dasharray="1.7 5.8" stroke-dashoffset="-3" fill="none"/>
<path d="M245.75 1238.5V2037.3" stroke="#262626" stroke-opacity="0.15" stroke-width="1.7" fill="none"/>
<path d="M347.30 1238.5V2037.3" stroke="#262626" stroke-opacity="0.15" stroke-width="1.7" fill="none"/>
<path d="M448.78 1238.5V2037.3" stroke="#262626" stroke-opacity="0.15" stroke-width="1.7" fill="none"/>
<path d="M552.15 1238.5V2037.3" stroke="#262626" stroke-opacity="0.15" stroke-width="1.7" fill="none"/>
<path d="M653.70 1238.5V2037.3" stroke="#262626" stroke-opacity="0.15" stroke-width="1.7" fill="none"/>
<path d="M755.25 1238.5V2037.3" stroke="#262626" stroke-opacity="0.15" stroke-width="1.7" fill="none"/>
<path d="M858.62 1238.5V2037.3" stroke="#262626" stroke-opacity="0.15" stroke-width="1.7" fill="none"/>
<path d="M960.05 1238.5V2037.3" stroke="#262626" stroke-opacity="0.15" stroke-width="1.7" fill="none"/>
<path d="M1061.54 1238.5V2037.3" stroke="#262626" stroke-opacity="0.15" stroke-width="1.7" fill="none"/>
<path d="M144.1 1351.30H1163.1" stroke="#262626" stroke-opacity="0.15" stroke-width="1.7" fill="none"/>
<path d="M144.1 1465.75H1163.1" stroke="#262626" stroke-opacity="0.15" stroke-width="1.7" fill="none"/>
<path d="M144.1 1580.55H1163.1" stroke="#262626" stroke-opacity="0.15" stroke-width="1.7" fill="none"/>
<path d="M144.1 1695.15H1163.1" stroke="#262626" stroke-opacity="0.15" stroke-width="1.7" fill="none"/>
<path d="M144.1 1810.05H1163.1" stroke="#262626" stroke-opacity="0.15" stroke-width="1.7" fill="none"/>
<path d="M144.1 1924.65H1163.1" stroke="#262626" stroke-opacity="0.15" stroke-width="1.7" fill="none"/>
<path d="M160.2 1911.2 L163.2 1911.2 L166.1 1911.5 L169.0 1912.1 L171.9 1912.8 L174.8 1913.5 L177.8 1914.1 L180.7 1914.8 L183.6 1915.4 L186.5 1915.9 L189.5 1916.4 L192.4 1916.8 L195.4 1917.1 L198.4 1917.3 L201.4 1917.5 L204.3 1917.5 L207.3 1917.4 L210.3 1917.2 L213.3 1917.0 L216.3 1916.7 L219.2 1916.3 L222.2 1915.8 L225.1 1915.3 L228.1 1914.7 L231.0 1914.0 L233.9 1913.3 L236.8 1912.5 L239.6 1911.7 L242.5 1910.8 L245.3 1909.7 L248.0 1908.6 L250.7 1907.4 L253.3 1906.0 L255.9 1904.5 L258.5 1903.0 L261.0 1901.4 L263.5 1899.8 L266.1 1898.3 L268.6 1896.7 L271.2 1895.2 L273.8 1893.8 L276.5 1892.3 L279.1 1890.9 L281.8 1889.5 L284.4 1888.0 L287.0 1886.6 L289.6 1885.1 L292.2 1883.5 L294.7 1882.0 L297.2 1880.3 L299.6 1878.6 L302.0 1876.8 L304.3 1874.9 L306.6 1873.0 L308.8 1871.0 L311.0 1868.9 L313.1 1866.9 L315.3 1864.8 L317.5 1862.7 L319.6 1860.6 L321.8 1858.6 L324.0 1856.5 L326.2 1854.5 L328.4 1852.5 L330.6 1850.4 L332.8 1848.4 L335.0 1846.3 L337.2 1844.3 L339.4 1842.2 L341.5 1840.1 L343.7 1838.0 L345.8 1835.9 L348.0 1833.8 L350.2 1831.8 L352.4 1829.7 L354.6 1827.7 L356.8 1825.7 L359.1 1823.8 L361.4 1821.9 L363.7 1820.0 L366.1 1818.1 L368.4 1816.2 L370.7 1814.3 L373.1 1812.4 L375.4 1810.6 L377.8 1808.7 L380.1 1806.8 L382.4 1804.9 L384.7 1803.0 L387.0 1801.1 L389.3 1799.1 L391.6 1797.2 L393.9 1795.2 L396.1 1793.2 L398.4 1791.2 L400.6 1789.3 L402.9 1787.3 L405.2 1785.3 L407.5 1783.4 L409.8 1781.5 L412.1 1779.6 L414.5 1777.8 L416.8 1775.9 L419.3 1774.2 L421.7 1772.5 L424.2 1770.9 L426.8 1769.3 L429.4 1767.9 L432.0 1766.5 L434.7 1765.2 L437.5 1764.1 L440.2 1763.0 L443.0 1762.1 L445.8 1761.3 L448.6 1760.8 L451.5 1760.4 L454.4 1760.3 L457.3 1760.3 L460.3 1760.5 L463.2 1760.7 L466.2 1761.0 L469.2 1761.3 L472.2 1761.6 L475.1 1761.9 L478.1 1762.2 L481.1 1762.5 L484.1 1762.7 L487.1 1763.0 L490.1 1763.1 L493.0 1763.2 L496.0 1763.2 L498.9 1762.9 L501.7 1762.5 L504.5 1761.8 L507.2 1760.9 L509.7 1759.7 L512.2 1758.2 L514.6 1756.6 L516.9 1754.8 L519.2 1752.9 L521.3 1750.8 L523.4 1748.7 L525.3 1746.5 L527.1 1744.1 L528.9 1741.7 L530.5 1739.2 L532.0 1736.7 L533.5 1734.1 L534.9 1731.5 L536.3 1728.8 L537.6 1726.1 L538.9 1723.4 L540.1 1720.7 L541.3 1717.9 L542.5 1715.2 L543.7 1712.4 L544.9 1709.6 L546.0 1706.9 L547.1 1704.1 L548.3 1701.3 L549.4 1698.5 L550.5 1695.7 L551.6 1692.9 L552.7 1690.1 L553.8 1687.3 L554.9 1684.5 L556.0 1681.7 L557.1 1678.9 L558.1 1676.1 L559.2 1673.3 L560.3 1670.5 L561.3 1667.7 L562.4 1664.9 L563.4 1662.1 L564.4 1659.3 L565.4 1656.5 L566.5 1653.6 L567.5 1650.8 L568.5 1648.0 L569.5 1645.2 L570.6 1642.4 L571.7 1639.5 L572.7 1636.7 L573.8 1634.0 L574.9 1631.2 L576.1 1628.4 L577.2 1625.6 L578.3 1622.8 L579.4 1620.0 L580.5 1617.2 L581.6 1614.4 L582.6 1611.6 L583.7 1608.8 L584.6 1606.0 L585.6 1603.1 L586.5 1600.3 L587.4 1597.4 L588.2 1594.5 L589.1 1591.7 L589.9 1588.8 L590.7 1585.9 L591.4 1583.0 L592.2 1580.1 L592.9 1577.1 L593.5 1574.2 L594.2 1571.3 L594.7 1568.3 L595.3 1565.4 L595.8 1562.4 L596.2 1559.5 L596.7 1556.5 L597.1 1553.5 L597.6 1550.6 L598.0 1547.6 L598.4 1544.6 L598.9 1541.7 L599.3 1538.7 L599.7 1535.7 L600.2 1532.8 L600.6 1529.8 L601.1 1526.8 L601.5 1523.9 L602.0 1520.9 L602.6 1517.9 L603.1 1515.0 L603.6 1512.0 L604.2 1509.1 L604.8 1506.1 L605.4 1503.2 L606.0 1500.3 L606.5 1497.3 L607.1 1494.4 L607.7 1491.4 L608.3 1488.5 L608.9 1485.5 L609.5 1482.6 L610.1 1479.7 L610.7 1476.7 L611.2 1473.8 L611.8 1470.8 L612.4 1467.9 L613.0 1464.9 L613.6 1462.0 L614.2 1459.0 L614.8 1456.1 L615.4 1453.2 L615.9 1450.2 L616.5 1447.3 L617.1 1444.3 L617.7 1441.4 L618.2 1438.4 L618.8 1435.5 L619.3 1432.5 L619.8 1429.6 L620.3 1426.6 L620.9 1423.7 L621.4 1420.7 L622.0 1417.8 L622.6 1414.8 L623.2 1411.9 L623.8 1408.9 L624.4 1406.0 L625.1 1403.1 L625.8 1400.2 L626.5 1397.3 L627.2 1394.3 L627.9 1391.4 L628.7 1388.5 L629.4 1385.6 L630.1 1382.7 L630.8 1379.8 L631.5 1376.8 L632.2 1373.9 L632.9 1371.0 L633.6 1368.1 L634.3 1365.2 L635.0 1362.3 L635.7 1359.3 L636.4 1356.4 L637.1 1353.5 L637.8 1350.6 L638.5 1347.7 L639.2 1344.7 L639.9 1341.8 L640.6 1338.9 L641.4 1336.0 L642.1 1333.1 L642.9 1330.2 L643.7 1327.3 L644.4 1324.4 L645.3 1321.5 L646.1 1318.6 L646.9 1315.7 L647.8 1312.9 L648.6 1310.0 L649.5 1307.1 L650.4 1304.3 L651.4 1301.4 L652.4 1298.6 L653.3 1295.9 L653.7 1295.2 L654.2 1297.1 L655.1 1300.0 L655.9 1302.9 L656.7 1305.8 L657.5 1308.7 L658.2 1311.6 L659.0 1314.5 L659.7 1317.4 L660.4 1320.3 L661.1 1323.2 L661.8 1326.2 L662.5 1329.1 L663.2 1332.0 L663.9 1334.9 L664.6 1337.8 L665.3 1340.7 L666.0 1343.7 L666.7 1346.6 L667.4 1349.5 L668.1 1352.4 L668.8 1355.3 L669.5 1358.3 L670.1 1361.2 L670.8 1364.1 L671.4 1367.1 L672.0 1370.0 L672.6 1372.9 L673.2 1375.9 L673.8 1378.8 L674.4 1381.8 L675.0 1384.7 L675.6 1387.7 L676.2 1390.6 L676.8 1393.5 L677.4 1396.5 L677.9 1399.4 L678.6 1402.4 L679.2 1405.3 L679.8 1408.2 L680.4 1411.2 L681.1 1414.1 L681.7 1417.0 L682.4 1420.0 L683.1 1422.9 L683.8 1425.8 L684.5 1428.7 L685.2 1431.6 L685.9 1434.6 L686.5 1437.5 L687.2 1440.4 L687.9 1443.3 L688.6 1446.2 L689.3 1449.2 L690.0 1452.1 L690.7 1455.0 L691.3 1457.9 L692.0 1460.9 L692.7 1463.8 L693.3 1466.7 L694.0 1469.6 L694.6 1472.6 L695.3 1475.5 L695.9 1478.5 L696.5 1481.4 L697.1 1484.3 L697.7 1487.3 L698.3 1490.2 L698.9 1493.2 L699.5 1496.1 L700.0 1499.0 L700.6 1502.0 L701.2 1504.9 L701.8 1507.9 L702.5 1510.8 L703.1 1513.7 L703.7 1516.7 L704.4 1519.6 L705.0 1522.5 L705.7 1525.5 L706.3 1528.4 L707.0 1531.3 L707.7 1534.2 L708.4 1537.2 L709.0 1540.1 L709.7 1543.0 L710.3 1545.9 L711.0 1548.9 L711.6 1551.8 L712.2 1554.8 L712.8 1557.7 L713.4 1560.6 L714.0 1563.6 L714.6 1566.5 L715.2 1569.5 L715.8 1572.4 L716.4 1575.3 L717.1 1578.3 L717.7 1581.2 L718.3 1584.1 L719.0 1587.1 L719.7 1590.0 L720.3 1592.9 L721.0 1595.8 L721.7 1598.8 L722.4 1601.7 L723.1 1604.6 L723.8 1607.5 L724.5 1610.4 L725.2 1613.3 L726.0 1616.2 L726.8 1619.2 L727.5 1622.1 L728.3 1624.9 L729.1 1627.8 L729.9 1630.7 L730.7 1633.6 L731.6 1636.5 L732.4 1639.4 L733.3 1642.3 L734.1 1645.1 L735.0 1648.0 L735.9 1650.9 L736.9 1653.7 L737.8 1656.6 L738.7 1659.4 L739.6 1662.3 L740.6 1665.1 L741.5 1668.0 L742.5 1670.8 L743.4 1673.7 L744.4 1676.5 L745.4 1679.4 L746.4 1682.2 L747.3 1685.0 L748.3 1687.9 L749.4 1690.7 L750.4 1693.5 L751.4 1696.3 L752.5 1699.1 L753.6 1701.9 L754.7 1704.7 L755.8 1707.5 L756.9 1710.3 L758.1 1713.0 L759.4 1715.7 L760.6 1718.5 L761.9 1721.1 L763.3 1723.8 L764.7 1726.5 L766.1 1729.1 L767.6 1731.8 L769.0 1734.4 L770.5 1737.0 L772.0 1739.6 L773.5 1742.1 L775.1 1744.7 L776.7 1747.2 L778.4 1749.7 L780.1 1752.2 L781.8 1754.6 L783.7 1757.0 L785.5 1759.3 L787.4 1761.6 L789.4 1763.9 L791.4 1766.0 L793.6 1768.1 L795.8 1770.2 L798.0 1772.1 L800.4 1773.9 L802.8 1775.6 L805.3 1777.1 L807.9 1778.6 L810.6 1780.0 L813.3 1781.2 L816.0 1782.4 L818.8 1783.4 L821.6 1784.4 L824.5 1785.2 L827.4 1786.0 L830.3 1786.6 L833.2 1787.1 L836.1 1787.6 L839.1 1788.1 L842.0 1788.6 L844.9 1789.2 L847.8 1789.8 L850.6 1790.6 L853.4 1791.5 L856.2 1792.6 L859.0 1793.7 L861.7 1794.8 L864.5 1796.0 L867.2 1797.3 L869.9 1798.5 L872.6 1799.8 L875.3 1801.1 L878.0 1802.5 L880.7 1803.9 L883.3 1805.3 L885.9 1806.8 L888.4 1808.4 L891.0 1810.0 L893.5 1811.6 L895.9 1813.3 L898.3 1815.1 L900.8 1816.9 L903.2 1818.7 L905.6 1820.5 L908.0 1822.3 L910.4 1824.0 L912.8 1825.8 L915.3 1827.5 L917.7 1829.3 L920.2 1831.0 L922.6 1832.7 L925.1 1834.5 L927.5 1836.2 L929.9 1838.0 L932.3 1839.8 L934.6 1841.7 L936.9 1843.6 L939.1 1845.6 L941.2 1847.6 L943.3 1849.7 L945.4 1851.8 L947.5 1853.9 L949.7 1856.0 L951.9 1858.0 L954.1 1860.0 L956.4 1861.9 L958.7 1863.8 L961.0 1865.7 L963.3 1867.6 L965.7 1869.5 L968.0 1871.4 L970.4 1873.2 L972.7 1875.1 L975.0 1877.0 L977.4 1878.9 L979.7 1880.7 L982.1 1882.6 L984.4 1884.5 L986.8 1886.4 L989.1 1888.2 L991.5 1890.1 L993.8 1891.9 L996.2 1893.8 L998.6 1895.6 L1001.0 1897.4 L1003.4 1899.2 L1005.8 1901.0 L1008.3 1902.7 L1010.7 1904.4 L1013.2 1906.0 L1015.7 1907.7 L1018.3 1909.3 L1020.8 1910.9 L1023.3 1912.5 L1025.8 1914.2 L1028.4 1915.8 L1030.9 1917.5 L1033.3 1919.2 L1035.8 1920.9 L1038.2 1922.6 L1040.7 1924.4 L1043.1 1926.2 L1045.5 1928.0 L1047.9 1929.8 L1050.3 1931.6 L1052.7 1933.3 L1055.2 1935.0 L1057.6 1936.7 L1060.2 1938.3 L1062.7 1939.8 L1065.4 1941.3 L1068.0 1942.6 L1070.7 1944.0 L1073.4 1945.2 L1076.1 1946.4 L1078.9 1947.6 L1081.7 1948.7 L1084.5 1949.8 L1087.3 1950.9 L1090.1 1951.9 L1092.9 1952.8 L1095.8 1953.6 L1098.7 1954.3 L1101.6 1954.9 L1104.5 1955.4 L1107.4 1955.6 L1110.4 1955.8 L1113.3 1955.7 L1116.3 1955.4 L1119.2 1955.0 L1122.0 1954.4 L1124.9 1953.7 L1127.7 1952.8 L1130.5 1951.8 L1133.2 1950.7 L1135.9 1949.4 L1138.5 1948.1 L1141.1 1946.7 L1144.0 1946.1 L1145.0 1946.1 L1145.0 1944.1 L1145.0 1941.1 L1145.0 1938.1 L1145.0 1935.1 L1145.1 1932.1 L1145.1 1929.1 L1145.1 1926.1 L1145.1 1923.1 L1145.2 1920.1 L1145.2 1917.1 L1145.2 1914.1 L1145.2 1911.1" stroke="#000000" stroke-width="3" fill="none" stroke-linejoin="round" stroke-linecap="round"/>
<path d="M160.7 1896.5 L161.0 1899.4 L161.8 1901.8 L164.8 1902.2 L167.7 1903.0 L170.5 1904.0 L173.3 1905.1 L176.1 1906.1 L178.9 1907.0 L181.8 1907.9 L184.6 1908.7 L187.5 1909.4 L190.4 1910.0 L193.4 1910.4 L196.3 1910.8 L199.3 1911.0 L202.2 1911.1 L205.2 1911.0 L208.1 1910.8 L211.1 1910.5 L214.0 1910.0 L217.0 1909.5 L219.9 1908.8 L222.8 1908.1 L225.7 1907.4 L228.6 1906.6 L231.5 1905.7 L234.3 1904.9 L237.2 1904.0 L240.1 1903.2 L243.0 1902.3 L245.8 1901.5 L248.7 1900.6 L251.6 1899.7 L254.5 1898.9 L257.3 1898.0 L260.2 1897.1 L263.0 1896.1 L265.9 1895.2 L268.7 1894.2 L271.5 1893.2 L274.3 1892.1 L277.1 1891.0 L279.9 1889.9 L282.6 1888.7 L285.4 1887.5 L288.1 1886.2 L290.8 1884.9 L293.5 1883.6 L296.1 1882.2 L298.7 1880.7 L301.3 1879.1 L303.8 1877.5 L306.2 1875.8 L308.6 1874.1 L311.0 1872.3 L313.4 1870.5 L315.8 1868.6 L318.1 1866.7 L320.5 1864.9 L322.8 1863.0 L325.1 1861.1 L327.5 1859.2 L329.8 1857.3 L332.1 1855.4 L334.4 1853.5 L336.7 1851.6 L339.0 1849.6 L341.3 1847.7 L343.5 1845.7 L345.8 1843.7 L348.0 1841.7 L350.2 1839.6 L352.4 1837.6 L354.6 1835.5 L356.7 1833.5 L358.9 1831.4 L361.0 1829.3 L363.2 1827.2 L365.3 1825.0 L367.4 1822.9 L369.5 1820.8 L371.7 1818.7 L373.8 1816.6 L375.9 1814.4 L378.0 1812.3 L380.2 1810.2 L382.3 1808.1 L384.4 1805.9 L386.5 1803.8 L388.6 1801.7 L390.8 1799.6 L392.9 1797.5 L395.0 1795.3 L397.1 1793.2 L399.3 1791.1 L401.4 1789.0 L403.6 1786.9 L405.7 1784.9 L407.9 1782.8 L410.1 1780.8 L412.4 1778.8 L414.6 1776.8 L416.9 1774.9 L419.3 1773.1 L421.7 1771.4 L424.2 1769.9 L426.8 1768.4 L429.4 1767.1 L432.1 1765.9 L434.8 1764.7 L437.6 1763.7 L440.4 1762.8 L443.2 1762.0 L446.0 1761.5 L448.8 1761.2 L451.6 1761.2 L454.4 1761.5 L457.1 1762.1 L459.9 1762.9 L462.6 1763.9 L465.4 1765.1 L468.1 1766.3 L470.8 1767.6 L473.5 1768.9 L476.1 1770.2 L478.8 1771.6 L481.5 1772.9 L484.2 1774.2 L486.9 1775.5 L489.6 1776.8 L492.4 1778.0 L495.1 1779.1 L497.9 1780.2 L500.7 1781.1 L503.6 1781.9 L506.4 1782.5 L509.3 1782.9 L512.1 1783.1 L515.0 1783.0 L517.7 1782.6 L520.4 1781.9 L523.0 1780.8 L525.5 1779.5 L527.8 1777.8 L529.9 1776.0 L531.9 1773.9 L533.8 1771.7 L535.5 1769.3 L537.1 1766.8 L538.6 1764.2 L540.0 1761.6 L541.4 1759.0 L542.7 1756.3 L544.0 1753.6 L545.2 1750.8 L546.5 1748.1 L547.6 1745.3 L548.8 1742.6 L549.9 1739.8 L550.9 1737.0 L551.9 1734.1 L552.8 1731.3 L553.7 1728.4 L554.5 1725.6 L555.3 1722.7 L556.1 1719.8 L556.8 1716.9 L557.6 1714.0 L558.3 1711.0 L559.0 1708.1 L559.7 1705.2 L560.3 1702.3 L561.0 1699.4 L561.7 1696.4 L562.4 1693.5 L563.1 1690.6 L563.8 1687.7 L564.4 1684.7 L565.1 1681.8 L565.8 1678.9 L566.5 1676.0 L567.2 1673.0 L567.8 1670.1 L568.5 1667.2 L569.1 1664.3 L569.8 1661.3 L570.4 1658.4 L571.1 1655.5 L571.7 1652.5 L572.4 1649.6 L573.0 1646.7 L573.7 1643.8 L574.4 1640.8 L575.1 1637.9 L575.8 1635.0 L576.5 1632.1 L577.3 1629.2 L578.0 1626.3 L578.8 1623.4 L579.5 1620.5 L580.2 1617.6 L580.9 1614.6 L581.5 1611.7 L582.2 1608.8 L582.8 1605.8 L583.4 1602.9 L583.9 1600.0 L584.5 1597.0 L585.1 1594.1 L585.6 1591.1 L586.2 1588.2 L586.7 1585.2 L587.2 1582.2 L587.7 1579.3 L588.1 1576.3 L588.6 1573.4 L589.1 1570.4 L589.6 1567.4 L590.0 1564.5 L590.5 1561.5 L591.0 1558.5 L591.5 1555.6 L592.0 1552.6 L592.6 1549.7 L593.1 1546.7 L593.6 1543.8 L594.2 1540.8 L594.7 1537.9 L595.2 1534.9 L595.7 1532.0 L596.3 1529.0 L596.8 1526.0 L597.3 1523.1 L597.9 1520.1 L598.4 1517.2 L598.9 1514.2 L599.5 1511.3 L600.0 1508.3 L600.5 1505.4 L601.1 1502.4 L601.6 1499.5 L602.1 1496.5 L602.7 1493.6 L603.2 1490.6 L603.7 1487.6 L604.2 1484.7 L604.7 1481.7 L605.3 1478.8 L605.8 1475.8 L606.3 1472.9 L606.7 1469.9 L607.2 1466.9 L607.7 1464.0 L608.2 1461.0 L608.7 1458.1 L609.2 1455.1 L609.7 1452.1 L610.2 1449.2 L610.6 1446.2 L611.1 1443.2 L611.6 1440.3 L612.1 1437.3 L612.7 1434.4 L613.2 1431.4 L613.7 1428.5 L614.3 1425.5 L614.9 1422.6 L615.4 1419.6 L616.0 1416.7 L616.6 1413.8 L617.2 1410.8 L617.8 1407.9 L618.4 1404.9 L619.1 1402.0 L619.7 1399.1 L620.3 1396.1 L621.0 1393.2 L621.7 1390.3 L622.4 1387.4 L623.1 1384.5 L623.9 1381.6 L624.7 1378.7 L625.4 1375.8 L626.2 1372.9 L627.0 1370.0 L627.8 1367.1 L628.6 1364.2 L629.3 1361.3 L630.1 1358.4 L630.8 1355.5 L631.6 1352.6 L632.3 1349.6 L633.0 1346.7 L633.7 1343.8 L634.4 1340.9 L635.1 1338.0 L635.8 1335.1 L636.5 1332.1 L637.2 1329.2 L637.9 1326.3 L638.7 1323.4 L639.4 1320.5 L640.2 1317.6 L641.0 1314.7 L641.8 1311.8 L642.6 1308.9 L643.4 1306.0 L644.3 1303.2 L645.2 1300.3 L646.3 1297.6 L646.8 1296.7 L647.5 1298.4 L648.5 1301.2 L649.5 1304.1 L650.5 1306.9 L651.5 1309.7 L652.4 1312.6 L653.4 1315.4 L654.3 1318.3 L655.2 1321.1 L656.0 1324.0 L656.8 1326.9 L657.6 1329.8 L658.4 1332.7 L659.1 1335.6 L659.8 1338.5 L660.5 1341.4 L661.3 1344.3 L662.0 1347.3 L662.7 1350.2 L663.5 1353.1 L664.3 1356.0 L665.0 1358.9 L665.8 1361.8 L666.6 1364.7 L667.4 1367.5 L668.2 1370.4 L669.0 1373.3 L669.8 1376.2 L670.5 1379.1 L671.3 1382.0 L672.0 1385.0 L672.7 1387.9 L673.5 1390.8 L674.2 1393.7 L674.9 1396.6 L675.6 1399.5 L676.3 1402.4 L677.0 1405.3 L677.8 1408.3 L678.5 1411.2 L679.2 1414.1 L679.9 1417.0 L680.6 1419.9 L681.2 1422.9 L681.9 1425.8 L682.5 1428.7 L683.2 1431.6 L683.8 1434.6 L684.5 1437.5 L685.2 1440.4 L685.8 1443.4 L686.5 1446.3 L687.2 1449.2 L687.8 1452.1 L688.5 1455.1 L689.2 1458.0 L689.8 1460.9 L690.5 1463.8 L691.1 1466.8 L691.7 1469.7 L692.3 1472.6 L692.9 1475.6 L693.4 1478.5 L693.9 1481.5 L694.3 1484.5 L694.8 1487.4 L695.2 1490.4 L695.7 1493.4 L696.1 1496.3 L696.6 1499.3 L697.1 1502.3 L697.5 1505.2 L698.0 1508.2 L698.5 1511.1 L699.0 1514.1 L699.6 1517.0 L700.2 1520.0 L700.8 1522.9 L701.5 1525.8 L702.1 1528.8 L702.8 1531.7 L703.5 1534.6 L704.2 1537.5 L704.8 1540.5 L705.5 1543.4 L706.2 1546.3 L706.9 1549.2 L707.6 1552.2 L708.3 1555.1 L708.9 1558.0 L709.6 1560.9 L710.3 1563.8 L711.0 1566.8 L711.7 1569.7 L712.3 1572.6 L713.0 1575.5 L713.7 1578.5 L714.4 1581.4 L715.1 1584.3 L715.8 1587.2 L716.4 1590.1 L717.1 1593.1 L717.8 1596.0 L718.5 1598.9 L719.2 1601.8 L719.9 1604.8 L720.5 1607.7 L721.2 1610.6 L721.9 1613.5 L722.6 1616.5 L723.3 1619.4 L724.0 1622.3 L724.6 1625.2 L725.3 1628.1 L726.0 1631.1 L726.6 1634.0 L727.3 1636.9 L727.9 1639.9 L728.5 1642.8 L729.1 1645.7 L729.6 1648.7 L730.2 1651.6 L730.7 1654.6 L731.3 1657.5 L731.8 1660.5 L732.4 1663.4 L732.9 1666.4 L733.4 1669.4 L734.0 1672.3 L734.5 1675.3 L735.1 1678.2 L735.6 1681.2 L736.2 1684.1 L736.7 1687.1 L737.3 1690.0 L737.9 1692.9 L738.5 1695.9 L739.1 1698.8 L739.7 1701.8 L740.3 1704.7 L740.9 1707.6 L741.6 1710.6 L742.3 1713.5 L743.0 1716.4 L743.8 1719.3 L744.7 1722.1 L745.6 1725.0 L746.5 1727.8 L747.5 1730.6 L748.5 1733.5 L749.6 1736.3 L750.7 1739.0 L751.9 1741.8 L753.1 1744.5 L754.4 1747.2 L755.7 1749.9 L757.1 1752.6 L758.5 1755.2 L760.0 1757.8 L761.6 1760.3 L763.3 1762.8 L765.0 1765.2 L766.8 1767.5 L768.8 1769.8 L770.8 1771.9 L773.0 1773.8 L775.2 1775.6 L777.7 1777.1 L780.2 1778.4 L782.9 1779.4 L785.6 1780.1 L788.4 1780.5 L791.2 1780.6 L794.1 1780.4 L796.9 1779.9 L799.7 1779.2 L802.4 1778.2 L805.1 1777.1 L807.8 1775.8 L810.4 1774.4 L813.0 1773.0 L815.7 1771.7 L818.4 1770.3 L821.1 1769.1 L823.8 1768.0 L826.6 1766.9 L829.4 1766.1 L832.3 1765.4 L835.2 1764.8 L838.1 1764.4 L841.0 1764.3 L843.9 1764.3 L846.9 1764.5 L849.8 1764.9 L852.6 1765.5 L855.5 1766.3 L858.2 1767.3 L860.9 1768.4 L863.6 1769.7 L866.1 1771.2 L868.7 1772.8 L871.1 1774.5 L873.5 1776.2 L875.9 1778.1 L878.2 1780.0 L880.4 1781.9 L882.7 1783.9 L884.9 1785.9 L887.1 1788.0 L889.3 1790.0 L891.4 1792.1 L893.6 1794.2 L895.8 1796.3 L897.9 1798.4 L900.1 1800.4 L902.3 1802.5 L904.5 1804.5 L906.7 1806.6 L908.9 1808.6 L911.2 1810.5 L913.5 1812.5 L915.8 1814.4 L918.1 1816.3 L920.4 1818.2 L922.7 1820.1 L925.1 1822.0 L927.4 1823.8 L929.8 1825.7 L932.1 1827.6 L934.3 1829.5 L936.5 1831.5 L938.7 1833.6 L940.7 1835.7 L942.8 1837.8 L944.8 1840.0 L946.8 1842.2 L948.9 1844.3 L951.0 1846.4 L953.2 1848.4 L955.5 1850.3 L957.8 1852.2 L960.2 1854.0 L962.6 1855.8 L965.0 1857.6 L967.4 1859.3 L969.9 1861.1 L972.3 1862.8 L974.8 1864.5 L977.2 1866.3 L979.7 1868.0 L982.1 1869.7 L984.6 1871.4 L987.1 1873.1 L989.5 1874.9 L992.0 1876.6 L994.5 1878.3 L997.0 1879.9 L999.5 1881.6 L1002.0 1883.2 L1004.5 1884.8 L1007.1 1886.4 L1009.6 1888.0 L1012.2 1889.6 L1014.7 1891.1 L1017.3 1892.7 L1019.9 1894.2 L1022.5 1895.8 L1025.0 1897.3 L1027.6 1898.8 L1030.2 1900.4 L1032.7 1901.9 L1035.3 1903.5 L1037.9 1905.0 L1040.5 1906.6 L1043.0 1908.1 L1045.6 1909.6 L1048.2 1911.1 L1050.8 1912.6 L1053.4 1914.1 L1056.1 1915.5 L1058.7 1916.9 L1061.4 1918.3 L1064.1 1919.6 L1066.8 1920.9 L1069.5 1922.1 L1072.3 1923.2 L1075.1 1924.3 L1077.9 1925.3 L1080.7 1926.2 L1083.6 1927.0 L1086.5 1927.7 L1089.4 1928.3 L1092.3 1928.8 L1095.3 1929.1 L1098.3 1929.3 L1101.2 1929.4 L1104.2 1929.2 L1107.1 1929.0 L1110.0 1928.5 L1112.9 1927.9 L1115.7 1927.1 L1118.5 1926.1 L1121.2 1925.0 L1123.8 1923.7 L1126.4 1922.3 L1129.0 1920.7 L1131.5 1919.1 L1133.9 1917.4 L1136.4 1915.7 L1138.8 1913.9 L1141.2 1912.1 L1143.6 1910.4 L1145.2 1909.4 L1145.2 1908.4 L1145.3 1905.4 L1145.3 1902.4 L1145.4 1899.4 L1145.4 1896.4 L1145.5 1893.4 L1145.5 1890.4 L1145.5 1887.4 L1145.6 1884.4 L1145.6 1881.4" stroke="#22dd22" stroke-width="3" fill="none" stroke-linejoin="round" stroke-linecap="round"/>
<path d="M160.2 1900.0 L163.1 1900.6 L166.0 1901.5 L168.7 1902.7 L171.4 1904.0 L174.1 1905.2 L176.8 1906.4 L179.5 1907.4 L182.3 1908.4 L185.2 1909.2 L188.0 1909.9 L190.9 1910.4 L193.9 1910.9 L196.8 1911.2 L199.8 1911.4 L202.8 1911.4 L205.8 1911.4 L208.7 1911.3 L211.7 1911.0 L214.7 1910.7 L217.6 1910.3 L220.5 1909.7 L223.5 1909.1 L226.4 1908.4 L229.3 1907.6 L232.1 1906.8 L235.0 1905.9 L237.8 1904.9 L240.6 1903.9 L243.5 1902.9 L246.3 1901.9 L249.1 1900.9 L251.9 1899.9 L254.8 1899.0 L257.6 1898.1 L260.5 1897.2 L263.4 1896.4 L266.3 1895.6 L269.2 1894.8 L272.1 1894.1 L275.0 1893.4 L277.9 1892.6 L280.7 1891.8 L283.6 1890.9 L286.4 1889.9 L289.1 1888.9 L291.9 1887.7 L294.6 1886.4 L297.2 1885.0 L299.9 1883.6 L302.4 1882.1 L305.0 1880.6 L307.5 1879.0 L310.0 1877.3 L312.5 1875.7 L315.0 1874.0 L317.5 1872.4 L320.0 1870.7 L322.6 1869.1 L325.1 1867.5 L327.7 1865.9 L330.2 1864.4 L332.8 1862.8 L335.4 1861.3 L337.9 1859.7 L340.5 1858.2 L343.1 1856.6 L345.6 1855.0 L348.1 1853.4 L350.6 1851.8 L353.1 1850.1 L355.6 1848.4 L358.0 1846.6 L360.4 1844.8 L362.7 1843.0 L365.0 1841.1 L367.3 1839.1 L369.5 1837.1 L371.7 1835.1 L373.9 1833.0 L376.0 1830.9 L378.1 1828.7 L380.1 1826.5 L382.1 1824.3 L384.1 1822.1 L386.1 1819.8 L388.1 1817.6 L390.1 1815.3 L392.0 1813.0 L394.0 1810.8 L395.9 1808.5 L397.8 1806.2 L399.8 1803.9 L401.7 1801.6 L403.6 1799.3 L405.5 1797.0 L407.4 1794.7 L409.4 1792.3 L411.3 1790.1 L413.2 1787.8 L415.2 1785.5 L417.2 1783.3 L419.2 1781.1 L421.3 1779.0 L423.5 1777.0 L425.8 1775.1 L428.1 1773.3 L430.5 1771.5 L433.0 1769.9 L435.5 1768.3 L438.1 1766.7 L440.6 1765.2 L443.3 1763.7 L445.9 1762.3 L448.6 1761.0 L451.3 1759.8 L454.0 1758.7 L456.8 1757.8 L459.7 1757.0 L462.5 1756.3 L465.4 1755.9 L468.3 1755.8 L471.1 1755.9 L473.9 1756.2 L476.7 1756.8 L479.5 1757.6 L482.3 1758.7 L484.9 1759.9 L487.6 1761.2 L490.3 1762.6 L492.9 1764.0 L495.5 1765.5 L498.0 1767.0 L500.6 1768.6 L503.2 1770.2 L505.7 1771.7 L508.2 1773.3 L510.8 1774.9 L513.3 1776.4 L515.9 1777.8 L518.5 1779.0 L521.1 1780.0 L523.8 1780.6 L526.5 1780.9 L529.2 1780.9 L532.0 1780.5 L534.7 1779.7 L537.2 1778.7 L539.7 1777.3 L542.1 1775.7 L544.4 1773.9 L546.5 1771.9 L548.5 1769.8 L550.4 1767.5 L552.2 1765.1 L553.8 1762.7 L555.4 1760.1 L556.8 1757.5 L558.2 1754.9 L559.5 1752.2 L560.7 1749.5 L561.8 1746.7 L562.8 1743.9 L563.8 1741.1 L564.8 1738.2 L565.7 1735.4 L566.7 1732.6 L567.6 1729.7 L568.5 1726.8 L569.3 1724.0 L570.2 1721.1 L571.0 1718.2 L571.7 1715.3 L572.5 1712.4 L573.2 1709.5 L573.9 1706.5 L574.5 1703.6 L575.2 1700.7 L575.9 1697.8 L576.5 1694.8 L577.1 1691.9 L577.8 1689.0 L578.4 1686.0 L579.0 1683.1 L579.6 1680.2 L580.2 1677.2 L580.7 1674.3 L581.3 1671.3 L581.9 1668.4 L582.5 1665.4 L583.1 1662.5 L583.7 1659.6 L584.3 1656.6 L584.9 1653.7 L585.4 1650.7 L586.0 1647.8 L586.6 1644.8 L587.2 1641.9 L587.7 1638.9 L588.3 1636.0 L588.8 1633.0 L589.3 1630.1 L589.8 1627.1 L590.3 1624.2 L590.8 1621.2 L591.3 1618.3 L591.8 1615.3 L592.2 1612.3 L592.6 1609.4 L593.0 1606.4 L593.4 1603.4 L593.8 1600.4 L594.1 1597.4 L594.4 1594.5 L594.7 1591.5 L595.1 1588.5 L595.4 1585.5 L595.7 1582.5 L596.0 1579.5 L596.3 1576.6 L596.6 1573.6 L596.9 1570.6 L597.3 1567.6 L597.6 1564.6 L597.9 1561.7 L598.3 1558.7 L598.7 1555.7 L599.1 1552.7 L599.5 1549.8 L599.9 1546.8 L600.4 1543.8 L600.8 1540.8 L601.2 1537.9 L601.7 1534.9 L602.1 1531.9 L602.5 1529.0 L603.0 1526.0 L603.4 1523.0 L603.8 1520.1 L604.3 1517.1 L604.7 1514.1 L605.1 1511.2 L605.6 1508.2 L606.0 1505.2 L606.4 1502.2 L606.9 1499.3 L607.3 1496.3 L607.7 1493.3 L608.2 1490.4 L608.6 1487.4 L609.0 1484.4 L609.5 1481.5 L609.9 1478.5 L610.3 1475.5 L610.7 1472.6 L611.2 1469.6 L611.6 1466.6 L612.0 1463.6 L612.4 1460.7 L612.8 1457.7 L613.2 1454.7 L613.7 1451.8 L614.1 1448.8 L614.5 1445.8 L614.9 1442.8 L615.3 1439.9 L615.8 1436.9 L616.2 1433.9 L616.7 1431.0 L617.1 1428.0 L617.6 1425.0 L618.1 1422.1 L618.6 1419.1 L619.1 1416.2 L619.6 1413.2 L620.1 1410.3 L620.6 1407.3 L621.1 1404.3 L621.6 1401.4 L622.1 1398.4 L622.6 1395.5 L623.1 1392.5 L623.6 1389.5 L624.0 1386.6 L624.5 1383.6 L625.1 1380.7 L625.6 1377.7 L626.1 1374.7 L626.7 1371.8 L627.2 1368.9 L627.8 1365.9 L628.4 1363.0 L629.0 1360.0 L629.6 1357.1 L630.2 1354.1 L630.8 1351.2 L631.5 1348.3 L632.1 1345.4 L632.8 1342.4 L633.5 1339.5 L634.1 1336.6 L634.8 1333.7 L635.5 1330.7 L636.2 1327.8 L636.9 1324.9 L637.6 1322.0 L638.3 1319.1 L639.1 1316.2 L639.8 1313.3 L640.5 1310.4 L641.3 1307.4 L642.0 1304.5 L642.8 1301.6 L643.5 1298.7 L644.0 1296.8 L644.8 1297.2 L646.5 1299.4 L647.6 1302.1 L648.6 1304.9 L649.5 1307.7 L650.4 1310.6 L651.3 1313.4 L652.2 1316.3 L653.0 1319.2 L653.8 1322.1 L654.5 1325.0 L655.3 1327.9 L656.0 1330.8 L656.7 1333.7 L657.4 1336.6 L658.1 1339.5 L658.8 1342.5 L659.5 1345.4 L660.2 1348.3 L660.9 1351.2 L661.6 1354.1 L662.3 1357.0 L663.0 1360.0 L663.7 1362.9 L664.4 1365.8 L665.1 1368.7 L665.8 1371.6 L666.5 1374.5 L667.2 1377.5 L667.9 1380.4 L668.6 1383.3 L669.3 1386.2 L670.0 1389.1 L670.8 1392.1 L671.5 1395.0 L672.2 1397.9 L672.9 1400.8 L673.6 1403.7 L674.3 1406.6 L675.0 1409.6 L675.7 1412.5 L676.3 1415.4 L677.0 1418.3 L677.7 1421.2 L678.3 1424.2 L679.0 1427.1 L679.6 1430.0 L680.3 1433.0 L680.9 1435.9 L681.6 1438.8 L682.2 1441.8 L682.9 1444.7 L683.6 1447.6 L684.2 1450.5 L684.9 1453.4 L685.6 1456.4 L686.3 1459.3 L686.9 1462.2 L687.6 1465.2 L688.2 1468.1 L688.8 1471.0 L689.3 1474.0 L689.9 1476.9 L690.4 1479.9 L690.8 1482.8 L691.3 1485.8 L691.8 1488.8 L692.2 1491.7 L692.7 1494.7 L693.1 1497.7 L693.6 1500.6 L694.0 1503.6 L694.5 1506.6 L695.0 1509.5 L695.5 1512.5 L696.1 1515.4 L696.6 1518.4 L697.3 1521.3 L697.9 1524.2 L698.5 1527.2 L699.2 1530.1 L699.9 1533.0 L700.6 1535.9 L701.2 1538.9 L701.9 1541.8 L702.5 1544.7 L703.2 1547.6 L703.8 1550.6 L704.4 1553.5 L705.0 1556.4 L705.6 1559.4 L706.2 1562.3 L706.8 1565.3 L707.4 1568.2 L708.0 1571.2 L708.5 1574.1 L709.1 1577.0 L709.6 1580.0 L710.2 1583.0 L710.7 1585.9 L711.2 1588.9 L711.7 1591.8 L712.2 1594.8 L712.7 1597.7 L713.2 1600.7 L713.7 1603.7 L714.2 1606.6 L714.8 1609.6 L715.3 1612.5 L715.8 1615.5 L716.4 1618.4 L716.9 1621.4 L717.5 1624.3 L718.1 1627.3 L718.6 1630.2 L719.2 1633.2 L719.8 1636.1 L720.3 1639.0 L720.9 1642.0 L721.4 1644.9 L721.9 1647.9 L722.5 1650.9 L723.0 1653.8 L723.5 1656.8 L724.0 1659.7 L724.6 1662.7 L725.1 1665.6 L725.6 1668.6 L726.1 1671.5 L726.7 1674.5 L727.2 1677.4 L727.7 1680.4 L728.3 1683.3 L728.8 1686.3 L729.4 1689.2 L730.0 1692.2 L730.6 1695.1 L731.1 1698.1 L731.7 1701.0 L732.3 1704.0 L732.9 1706.9 L733.5 1709.8 L734.1 1712.8 L734.8 1715.7 L735.4 1718.6 L736.1 1721.6 L736.8 1724.5 L737.4 1727.4 L738.1 1730.3 L738.8 1733.2 L739.5 1736.2 L740.3 1739.1 L741.0 1742.0 L741.8 1744.9 L742.6 1747.8 L743.4 1750.6 L744.3 1753.5 L745.2 1756.3 L746.2 1759.2 L747.2 1762.0 L748.3 1764.8 L749.4 1767.5 L750.6 1770.2 L751.9 1772.8 L753.4 1775.4 L754.9 1777.8 L756.7 1780.1 L758.7 1782.2 L760.9 1784.0 L763.6 1785.0 L765.5 1785.4 L766.2 1784.9 L767.8 1782.4 L769.4 1779.9 L771.2 1777.6 L773.1 1775.3 L775.1 1773.0 L777.1 1770.8 L779.2 1768.7 L781.3 1766.6 L783.5 1764.5 L785.7 1762.5 L788.0 1760.5 L790.2 1758.6 L792.5 1756.7 L794.9 1754.8 L797.3 1753.1 L799.8 1751.4 L802.3 1749.8 L804.9 1748.4 L807.5 1747.1 L810.2 1745.9 L813.0 1744.9 L815.8 1744.0 L818.7 1743.3 L821.6 1742.7 L824.5 1742.3 L827.4 1742.0 L830.4 1741.9 L833.3 1742.0 L836.2 1742.3 L839.1 1742.8 L842.0 1743.4 L844.8 1744.3 L847.6 1745.3 L850.3 1746.4 L853.0 1747.7 L855.6 1749.1 L858.1 1750.6 L860.6 1752.3 L863.1 1754.0 L865.5 1755.8 L867.8 1757.6 L870.1 1759.6 L872.3 1761.6 L874.5 1763.6 L876.6 1765.7 L878.7 1767.9 L880.8 1770.0 L882.9 1772.2 L884.9 1774.4 L887.0 1776.6 L889.0 1778.8 L891.0 1781.0 L893.0 1783.2 L895.1 1785.4 L897.1 1787.6 L899.1 1789.9 L901.1 1792.1 L903.1 1794.3 L905.1 1796.6 L907.0 1798.8 L909.0 1801.1 L911.0 1803.4 L912.9 1805.7 L914.9 1807.9 L916.9 1810.2 L918.9 1812.4 L920.9 1814.6 L923.0 1816.7 L925.1 1818.9 L927.2 1821.0 L929.4 1823.1 L931.5 1825.2 L933.7 1827.3 L935.9 1829.3 L938.1 1831.4 L940.3 1833.4 L942.5 1835.4 L944.7 1837.4 L947.0 1839.4 L949.3 1841.3 L951.6 1843.2 L953.9 1845.1 L956.3 1847.0 L958.6 1848.8 L961.0 1850.6 L963.4 1852.4 L965.9 1854.1 L968.3 1855.9 L970.8 1857.5 L973.3 1859.2 L975.8 1860.8 L978.4 1862.4 L980.9 1864.0 L983.5 1865.6 L986.0 1867.1 L988.6 1868.7 L991.2 1870.2 L993.8 1871.7 L996.4 1873.1 L999.1 1874.5 L1001.7 1875.9 L1004.4 1877.2 L1007.2 1878.4 L1009.9 1879.6 L1012.7 1880.7 L1015.4 1881.9 L1018.2 1883.0 L1021.0 1884.2 L1023.7 1885.4 L1026.5 1886.6 L1029.2 1887.8 L1032.0 1889.0 L1034.7 1890.3 L1037.4 1891.5 L1040.1 1892.7 L1042.9 1894.0 L1045.6 1895.1 L1048.4 1896.2 L1051.2 1897.3 L1054.0 1898.3 L1056.9 1899.3 L1059.7 1900.2 L1062.6 1901.1 L1065.5 1901.9 L1068.4 1902.6 L1071.3 1903.3 L1074.2 1903.9 L1077.2 1904.4 L1080.1 1904.7 L1083.1 1905.0 L1086.0 1905.2 L1089.0 1905.2 L1092.0 1905.1 L1094.9 1904.9 L1097.9 1904.6 L1100.8 1904.1 L1103.7 1903.5 L1106.6 1902.8 L1109.5 1901.9 L1112.3 1901.0 L1115.0 1899.9 L1117.7 1898.6 L1120.4 1897.3 L1122.9 1895.8 L1125.4 1894.2 L1127.9 1892.5 L1130.3 1890.8 L1132.6 1888.9 L1134.9 1887.0 L1137.2 1885.0 L1139.4 1883.0 L1141.5 1880.9 L1143.6 1878.7" stroke="#dd1515" stroke-width="3" fill="none" stroke-linejoin="round" stroke-linecap="round"/>
<path d="M160.2 1900.9 L163.2 1900.9 L166.1 1901.2 L168.9 1902.0 L171.7 1903.0 L174.6 1903.9 L177.4 1904.7 L180.3 1905.5 L183.1 1906.1 L186.0 1906.7 L189.0 1907.1 L191.9 1907.4 L194.8 1907.6 L197.8 1907.6 L200.8 1907.4 L203.7 1907.1 L206.7 1906.7 L209.6 1906.2 L212.5 1905.6 L215.4 1905.0 L218.3 1904.3 L221.2 1903.5 L224.1 1902.7 L227.0 1901.9 L229.9 1901.0 L232.8 1900.2 L235.7 1899.3 L238.5 1898.5 L241.4 1897.6 L244.3 1896.8 L247.2 1895.9 L250.0 1895.0 L252.9 1894.2 L255.8 1893.3 L258.6 1892.4 L261.5 1891.5 L264.3 1890.5 L267.2 1889.6 L270.0 1888.6 L272.8 1887.6 L275.6 1886.5 L278.4 1885.4 L281.2 1884.3 L284.0 1883.2 L286.8 1882.1 L289.6 1880.9 L292.3 1879.8 L295.1 1878.6 L297.8 1877.3 L300.4 1876.0 L303.1 1874.6 L305.6 1873.1 L308.2 1871.5 L310.7 1869.9 L313.2 1868.2 L315.7 1866.5 L318.1 1864.8 L320.6 1863.1 L323.1 1861.4 L325.5 1859.7 L328.0 1858.0 L330.5 1856.3 L333.0 1854.6 L335.5 1853.0 L338.0 1851.3 L340.5 1849.7 L343.0 1848.1 L345.6 1846.5 L348.1 1844.9 L350.7 1843.3 L353.2 1841.7 L355.7 1840.1 L358.2 1838.4 L360.6 1836.7 L363.1 1835.0 L365.5 1833.2 L367.9 1831.4 L370.2 1829.5 L372.5 1827.6 L374.7 1825.6 L376.9 1823.5 L379.1 1821.5 L381.2 1819.3 L383.3 1817.2 L385.3 1815.0 L387.4 1812.8 L389.3 1810.6 L391.3 1808.3 L393.2 1806.0 L395.1 1803.6 L396.9 1801.3 L398.8 1798.9 L400.7 1796.6 L402.6 1794.3 L404.5 1792.0 L406.4 1789.7 L408.4 1787.5 L410.5 1785.3 L412.5 1783.1 L414.6 1781.0 L416.8 1778.8 L418.9 1776.7 L421.0 1774.6 L423.2 1772.6 L425.4 1770.5 L427.6 1768.5 L429.8 1766.4 L432.0 1764.4 L434.3 1762.4 L436.5 1760.5 L438.8 1758.5 L441.1 1756.6 L443.5 1754.8 L445.9 1753.0 L448.3 1751.3 L450.8 1749.7 L453.4 1748.3 L456.0 1747.0 L458.8 1745.8 L461.5 1744.9 L464.4 1744.1 L467.2 1743.5 L470.1 1743.2 L473.0 1743.0 L475.9 1743.1 L478.8 1743.4 L481.6 1744.0 L484.4 1744.8 L487.2 1745.7 L489.9 1746.9 L492.5 1748.3 L495.0 1749.8 L497.4 1751.5 L499.8 1753.2 L502.2 1755.1 L504.5 1757.0 L506.8 1758.9 L509.1 1760.7 L511.5 1762.5 L513.9 1764.3 L516.4 1765.9 L518.9 1767.6 L521.4 1769.1 L524.0 1770.6 L526.7 1772.0 L529.3 1773.4 L532.0 1774.7 L534.7 1776.0 L537.4 1777.3 L540.2 1778.5 L542.9 1779.7 L545.7 1780.8 L548.5 1781.9 L549.4 1782.2 L551.2 1781.3 L553.8 1779.9 L555.9 1777.9 L557.6 1775.6 L559.3 1773.2 L560.8 1770.7 L562.2 1768.1 L563.6 1765.5 L564.9 1762.8 L566.1 1760.1 L567.2 1757.3 L568.3 1754.5 L569.3 1751.7 L570.2 1748.8 L571.0 1746.0 L571.8 1743.1 L572.5 1740.2 L573.1 1737.2 L573.8 1734.3 L574.4 1731.4 L575.0 1728.4 L575.6 1725.5 L576.2 1722.6 L576.8 1719.6 L577.4 1716.7 L578.1 1713.8 L578.7 1710.8 L579.4 1707.9 L580.1 1705.0 L580.7 1702.1 L581.4 1699.1 L582.0 1696.2 L582.7 1693.3 L583.3 1690.3 L583.9 1687.4 L584.5 1684.4 L585.1 1681.5 L585.7 1678.6 L586.3 1675.6 L586.8 1672.7 L587.4 1669.7 L588.0 1666.8 L588.5 1663.8 L589.0 1660.9 L589.5 1657.9 L590.0 1655.0 L590.5 1652.0 L591.0 1649.0 L591.5 1646.1 L592.0 1643.1 L592.5 1640.2 L593.0 1637.2 L593.5 1634.2 L594.0 1631.3 L594.5 1628.3 L595.0 1625.4 L595.5 1622.4 L595.9 1619.4 L596.4 1616.5 L596.8 1613.5 L597.3 1610.5 L597.6 1607.6 L598.0 1604.6 L598.3 1601.6 L598.6 1598.6 L598.9 1595.6 L599.2 1592.6 L599.4 1589.6 L599.7 1586.6 L599.9 1583.7 L600.2 1580.7 L600.4 1577.7 L600.7 1574.7 L600.9 1571.7 L601.2 1568.7 L601.5 1565.7 L601.8 1562.7 L602.1 1559.8 L602.5 1556.8 L602.9 1553.8 L603.3 1550.8 L603.7 1547.9 L604.1 1544.9 L604.5 1541.9 L605.0 1538.9 L605.4 1536.0 L605.8 1533.0 L606.2 1530.0 L606.7 1527.1 L607.1 1524.1 L607.5 1521.1 L608.0 1518.2 L608.4 1515.2 L608.8 1512.2 L609.3 1509.2 L609.7 1506.3 L610.1 1503.3 L610.6 1500.3 L611.0 1497.4 L611.4 1494.4 L611.8 1491.4 L612.3 1488.4 L612.7 1485.5 L613.1 1482.5 L613.6 1479.5 L614.0 1476.6 L614.4 1473.6 L614.8 1470.6 L615.3 1467.7 L615.7 1464.7 L616.1 1461.7 L616.5 1458.7 L616.9 1455.8 L617.4 1452.8 L617.8 1449.8 L618.2 1446.9 L618.6 1443.9 L619.1 1440.9 L619.5 1437.9 L619.9 1435.0 L620.3 1432.0 L620.8 1429.0 L621.2 1426.1 L621.6 1423.1 L622.1 1420.1 L622.5 1417.1 L622.9 1414.2 L623.4 1411.2 L623.8 1408.2 L624.3 1405.3 L624.7 1402.3 L625.2 1399.3 L625.7 1396.4 L626.1 1393.4 L626.6 1390.5 L627.1 1387.5 L627.6 1384.5 L628.1 1381.6 L628.6 1378.6 L629.2 1375.7 L629.7 1372.7 L630.3 1369.8 L630.9 1366.8 L631.5 1363.9 L632.1 1360.9 L632.7 1358.0 L633.3 1355.1 L633.9 1352.1 L634.6 1349.2 L635.2 1346.3 L635.9 1343.4 L636.6 1340.4 L637.3 1337.5 L638.0 1334.6 L638.7 1331.7 L639.4 1328.8 L640.1 1325.9 L640.8 1322.9 L641.6 1320.0 L642.3 1317.1 L643.1 1314.2 L643.9 1311.3 L644.7 1308.4 L645.5 1305.5 L646.2 1302.6 L647.0 1299.8 L647.3 1298.8 L648.4 1300.4 L649.5 1303.2 L650.4 1306.1 L651.3 1308.9 L652.1 1311.8 L652.9 1314.7 L653.6 1317.6 L654.3 1320.5 L655.0 1323.4 L655.7 1326.4 L656.3 1329.3 L656.9 1332.2 L657.5 1335.2 L658.1 1338.1 L658.8 1341.0 L659.4 1344.0 L660.0 1346.9 L660.7 1349.8 L661.4 1352.8 L662.0 1355.7 L662.7 1358.6 L663.4 1361.5 L664.1 1364.4 L664.8 1367.4 L665.5 1370.3 L666.2 1373.2 L666.9 1376.1 L667.6 1379.0 L668.3 1382.0 L669.0 1384.9 L669.7 1387.8 L670.4 1390.7 L671.1 1393.6 L671.7 1396.6 L672.4 1399.5 L673.0 1402.4 L673.6 1405.4 L674.2 1408.3 L674.8 1411.3 L675.3 1414.2 L675.8 1417.2 L676.3 1420.1 L676.8 1423.1 L677.3 1426.0 L677.8 1429.0 L678.3 1432.0 L678.9 1434.9 L679.4 1437.9 L680.0 1440.8 L680.6 1443.7 L681.2 1446.7 L681.9 1449.6 L682.6 1452.5 L683.2 1455.5 L683.9 1458.4 L684.6 1461.3 L685.2 1464.2 L685.9 1467.2 L686.5 1470.1 L687.1 1473.0 L687.7 1476.0 L688.2 1478.9 L688.8 1481.9 L689.3 1484.8 L689.9 1487.8 L690.4 1490.7 L690.9 1493.7 L691.4 1496.7 L691.9 1499.6 L692.5 1502.6 L693.0 1505.5 L693.5 1508.5 L694.0 1511.4 L694.6 1514.4 L695.1 1517.3 L695.7 1520.3 L696.3 1523.2 L696.9 1526.2 L697.4 1529.1 L698.0 1532.1 L698.6 1535.0 L699.2 1537.9 L699.8 1540.9 L700.3 1543.8 L700.9 1546.8 L701.4 1549.7 L701.9 1552.7 L702.4 1555.6 L703.0 1558.6 L703.5 1561.6 L703.9 1564.5 L704.4 1567.5 L704.9 1570.4 L705.4 1573.4 L705.9 1576.4 L706.3 1579.3 L706.8 1582.3 L707.2 1585.3 L707.6 1588.3 L708.0 1591.2 L708.4 1594.2 L708.8 1597.2 L709.2 1600.1 L709.6 1603.1 L710.0 1606.1 L710.5 1609.1 L710.9 1612.0 L711.3 1615.0 L711.8 1618.0 L712.2 1620.9 L712.7 1623.9 L713.1 1626.9 L713.6 1629.8 L714.0 1632.8 L714.4 1635.8 L714.8 1638.8 L715.2 1641.7 L715.6 1644.7 L716.0 1647.7 L716.3 1650.7 L716.6 1653.6 L717.0 1656.6 L717.3 1659.6 L717.6 1662.6 L717.9 1665.6 L718.3 1668.6 L718.6 1671.5 L718.9 1674.5 L719.2 1677.5 L719.6 1680.5 L720.0 1683.5 L720.3 1686.4 L720.8 1689.4 L721.2 1692.4 L721.7 1695.3 L722.2 1698.3 L722.8 1701.2 L723.3 1704.2 L723.9 1707.1 L724.5 1710.1 L725.2 1713.0 L725.8 1715.9 L726.5 1718.9 L727.1 1721.8 L727.8 1724.7 L728.6 1727.6 L729.3 1730.5 L730.0 1733.4 L730.8 1736.3 L731.6 1739.2 L732.4 1742.1 L733.3 1745.0 L734.2 1747.8 L735.2 1750.7 L736.1 1753.5 L737.1 1756.3 L738.1 1759.2 L739.2 1762.0 L740.3 1764.7 L741.5 1767.5 L742.7 1770.2 L743.9 1772.9 L745.3 1775.6 L746.7 1778.3 L748.1 1780.9 L749.6 1783.5 L751.1 1786.0 L752.8 1788.5 L754.5 1790.9 L756.6 1793.0 L758.1 1794.4 L758.9 1794.1 L761.4 1792.6 L763.5 1790.6 L765.4 1788.3 L767.1 1785.9 L768.7 1783.4 L770.4 1780.9 L772.0 1778.4 L773.6 1775.9 L775.2 1773.4 L776.8 1770.9 L778.5 1768.4 L780.2 1766.0 L782.0 1763.6 L783.9 1761.3 L785.8 1759.0 L787.8 1756.8 L789.9 1754.7 L792.1 1752.6 L794.3 1750.6 L796.6 1748.7 L798.9 1746.8 L801.3 1745.0 L803.7 1743.3 L806.2 1741.6 L808.8 1740.1 L811.4 1738.6 L814.0 1737.3 L816.7 1736.0 L819.4 1735.0 L822.2 1734.1 L825.1 1733.4 L827.9 1732.9 L830.8 1732.6 L833.7 1732.6 L836.6 1732.7 L839.5 1733.1 L842.4 1733.7 L845.2 1734.5 L848.0 1735.5 L850.7 1736.6 L853.3 1737.9 L855.9 1739.4 L858.4 1741.0 L860.8 1742.7 L863.2 1744.5 L865.5 1746.4 L867.8 1748.3 L870.0 1750.3 L872.2 1752.4 L874.4 1754.4 L876.5 1756.5 L878.6 1758.7 L880.7 1760.8 L882.8 1763.0 L884.8 1765.2 L886.8 1767.4 L888.9 1769.6 L890.9 1771.9 L892.8 1774.1 L894.8 1776.4 L896.8 1778.7 L898.7 1780.9 L900.7 1783.2 L902.6 1785.5 L904.5 1787.8 L906.4 1790.1 L908.4 1792.4 L910.3 1794.7 L912.2 1797.0 L914.2 1799.3 L916.1 1801.6 L918.0 1803.9 L920.0 1806.2 L922.0 1808.4 L924.0 1810.6 L926.0 1812.9 L928.0 1815.1 L930.1 1817.2 L932.2 1819.4 L934.3 1821.4 L936.5 1823.4 L938.7 1825.3 L941.0 1827.1 L943.4 1828.8 L945.8 1830.4 L948.3 1832.1 L950.7 1833.8 L953.1 1835.5 L955.5 1837.2 L958.0 1839.0 L960.4 1840.7 L962.8 1842.5 L965.2 1844.2 L967.7 1845.9 L970.2 1847.5 L972.7 1849.1 L975.3 1850.7 L977.9 1852.1 L980.6 1853.5 L983.2 1854.9 L985.9 1856.2 L988.7 1857.4 L991.4 1858.6 L994.2 1859.8 L996.9 1861.0 L999.7 1862.1 L1002.5 1863.3 L1005.3 1864.4 L1008.0 1865.6 L1010.8 1866.7 L1013.5 1867.9 L1016.3 1869.2 L1019.0 1870.4 L1021.7 1871.7 L1024.4 1873.0 L1027.1 1874.4 L1029.8 1875.7 L1032.5 1877.0 L1035.2 1878.3 L1037.9 1879.6 L1040.6 1880.8 L1043.4 1882.0 L1046.1 1883.2 L1048.9 1884.3 L1051.7 1885.4 L1054.5 1886.4 L1057.4 1887.3 L1060.2 1888.3 L1063.1 1889.1 L1066.0 1889.9 L1068.9 1890.6 L1071.8 1891.3 L1074.7 1891.9 L1077.7 1892.5 L1080.6 1893.0 L1083.6 1893.4 L1086.5 1893.8 L1089.5 1894.1 L1092.5 1894.3 L1095.5 1894.5 L1098.5 1894.6 L1101.5 1894.6 L1104.4 1894.4 L1107.4 1894.2 L1110.3 1893.9 L1113.3 1893.4 L1116.1 1892.7 L1119.0 1891.9 L1121.7 1890.9 L1124.4 1889.8 L1127.1 1888.5 L1129.6 1887.0 L1132.1 1885.4 L1134.4 1883.6 L1136.6 1881.7 L1138.5 1879.6 L1140.3 1877.4 L1141.7 1875.0 L1142.9 1872.5 L1143.8 1869.9 L1144.4 1867.1 L1144.8 1864.2 L1145.1 1861.3 L1145.2 1858.4 L1145.3 1855.4 L1145.3 1852.4 L1145.4 1849.4 L1145.4 1846.4 L1145.4 1843.4 L1145.4 1840.4 L1145.5 1837.4 L1145.5 1834.4 L1145.5 1831.4 L1145.5 1828.4 L1145.5 1825.4 L1145.5 1822.4 L1145.6 1819.4 L1145.6 1816.4 L1145.6 1813.4 L1145.6 1811.4" stroke="#1010dd" stroke-width="3" fill="none" stroke-linejoin="round" stroke-linecap="round"/>
<path d="M144.10 2037.3v-8.5M144.10 1238.5v8.5M245.75 2037.3v-8.5M245.75 1238.5v8.5M347.30 2037.3v-8.5M347.30 1238.5v8.5M448.78 2037.3v-8.5M448.78 1238.5v8.5M552.15 2037.3v-8.5M552.15 1238.5v8.5M653.70 2037.3v-8.5M653.70 1238.5v8.5M755.25 2037.3v-8.5M755.25 1238.5v8.5M858.62 2037.3v-8.5M858.62 1238.5v8.5M960.05 2037.3v-8.5M960.05 1238.5v8.5M1061.54 2037.3v-8.5M1061.54 1238.5v8.5M1163.10 2037.3v-8.5M1163.10 1238.5v8.5M144.1 1238.45h8.5M1163.1 1238.45h-8.5M144.1 1351.30h8.5M1163.1 1351.30h-8.5M144.1 1465.75h8.5M1163.1 1465.75h-8.5M144.1 1580.55h8.5M1163.1 1580.55h-8.5M144.1 1695.15h8.5M1163.1 1695.15h-8.5M144.1 1810.05h8.5M1163.1 1810.05h-8.5M144.1 1924.65h8.5M1163.1 1924.65h-8.5M144.1 2037.35h8.5M1163.1 2037.35h-8.5" stroke="#262626" stroke-width="2" fill="none"/>
<rect x="144.1" y="1238.5" width="1019.0" height="798.9" stroke="#262626" stroke-width="2.2" fill="none"/>
<text transform="translate(144.1 2082.8) scale(1.06 1)" text-anchor="middle" class="tk">-0.025</text>
<text transform="translate(245.8 2082.8) scale(1.06 1)" text-anchor="middle" class="tk">-0.02</text>
<text transform="translate(347.3 2082.8) scale(1.06 1)" text-anchor="middle" class="tk">-0.015</text>
<text transform="translate(448.8 2082.8) scale(1.06 1)" text-anchor="middle" class="tk">-0.01</text>
<text transform="translate(552.1 2082.8) scale(1.06 1)" text-anchor="middle" class="tk">-0.005</text>
<text transform="translate(653.7 2082.8) scale(1.06 1)" text-anchor="middle" class="tk">0</text>
<text transform="translate(755.2 2082.8) scale(1.06 1)" text-anchor="middle" class="tk">0.005</text>
<text transform="translate(858.6 2082.8) scale(1.06 1)" text-anchor="middle" class="tk">0.01</text>
<text transform="translate(960.0 2082.8) scale(1.06 1)" text-anchor="middle" class="tk">0.015</text>
<text transform="translate(1061.5 2082.8) scale(1.06 1)" text-anchor="middle" class="tk">0.02</text>
<text transform="translate(1163.1 2082.8) scale(1.06 1)" text-anchor="middle" class="tk">0.025</text>
<text transform="translate(130.6 1250.0) scale(1.06 1)" text-anchor="end" class="tk">100</text>
<text transform="translate(130.6 1362.9) scale(1.06 1)" text-anchor="end" class="tk">80</text>
<text transform="translate(130.6 1477.3) scale(1.06 1)" text-anchor="end" class="tk">60</text>
<text transform="translate(130.6 1592.1) scale(1.06 1)" text-anchor="end" class="tk">40</text>
<text transform="translate(130.6 1706.7) scale(1.06 1)" text-anchor="end" class="tk">20</text>
<text transform="translate(130.6 1821.6) scale(1.06 1)" text-anchor="end" class="tk">0</text>
<text transform="translate(130.6 1936.2) scale(1.06 1)" text-anchor="end" class="tk">-20</text>
<text transform="translate(130.6 2048.9) scale(1.06 1)" text-anchor="end" class="tk">-40</text>
<text transform="translate(653.6 1218.5) scale(1.025 1)" text-anchor="middle" class="ti">Water flow Angle in Degrees at z = -0.30 (m)</text>
<text transform="translate(653.6 2137.4) scale(1.02 1)" text-anchor="middle" class="lb">X (m)</text>
<text transform="translate(56.6 1637.9) rotate(-90) scale(1.03 1)" text-anchor="middle" class="lb">Flow Angle</text>
<rect x="550.4" y="1821.2" width="206" height="191.5" fill="#fff" stroke="#262626" stroke-width="2"/>
<path d="M557.9 1847.6H651.1" stroke="#000000" stroke-width="3"/>
<text transform="translate(659.8 1861.7) scale(1.03 1)" text-anchor="start" class="lg">3 kPa</text>
<path d="M557.9 1894.0H651.1" stroke="#22dd22" stroke-width="3"/>
<text transform="translate(659.8 1908.1) scale(1.03 1)" text-anchor="start" class="lg">4 kPa</text>
<path d="M557.9 1940.4H651.1" stroke="#dd1515" stroke-width="3"/>
<text transform="translate(659.8 1954.5) scale(1.03 1)" text-anchor="start" class="lg">5 kPa</text>
<path d="M557.9 1986.8H651.1" stroke="#1010dd" stroke-width="3"/>
<text transform="translate(659.8 2000.9) scale(1.03 1)" text-anchor="start" class="lg">6 kPa</text>
<text x="668.6" y="2265.4" text-anchor="middle" class="cap">(<tspan font-weight="bold">c</tspan>)</text>
</svg>
</body></html>
